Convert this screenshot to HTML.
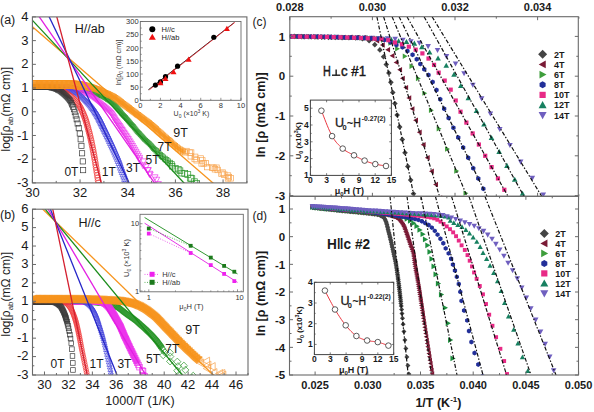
<!DOCTYPE html>
<html><head><meta charset="utf-8"><style>
html,body{margin:0;padding:0;background:#fff;overflow:hidden;}
svg{display:block;font-family:"Liberation Sans", sans-serif;}
</style></head><body>
<svg width="594" height="412" viewBox="0 0 594 412">
<rect width="594" height="412" fill="#fff"/>
<defs>
<clipPath id="clipA"><rect x="32.4" y="16.9" width="214.50" height="166.00"/></clipPath>
<clipPath id="clipB"><rect x="32.5" y="209.2" width="215.50" height="165.80"/></clipPath>
<clipPath id="clipC"><rect x="289.8" y="16.7" width="288.50" height="179.60"/></clipPath>
<clipPath id="clipD"><rect x="289.5" y="196.3" width="289.00" height="178.70"/></clipPath>
</defs>
<g clip-path="url(#clipA)">
<polygon points="33.00,87.75 36.14,87.74 40.63,87.72 45.88,87.70 51.26,87.69 56.16,87.70 59.98,87.75 62.61,87.82 64.54,87.90 65.97,88.00 67.16,88.13 68.36,88.31 69.79,88.53 71.33,88.81 72.78,89.14 74.25,89.52 75.80,89.93 77.50,90.37 79.44,90.82 81.62,91.24 83.97,91.62 86.41,92.01 88.91,92.47 91.41,93.08 93.87,93.88 96.41,94.89 99.08,96.08 101.77,97.40 104.41,98.85 106.93,100.39 109.24,102.00 111.38,103.77 113.43,105.77 115.39,107.88 117.25,110.01 118.98,112.04 120.57,113.83 121.95,115.35 123.11,116.67 124.14,117.87 125.10,119.01 126.05,120.14 127.05,121.31 128.08,122.51 129.09,123.68 130.08,124.84 131.07,126.00 132.06,127.15 133.05,128.31 133.99,129.43 134.89,130.52 135.79,131.61 136.76,132.76 137.84,134.00 139.09,135.36 140.55,136.87 142.18,138.51 143.91,140.23 145.69,141.98 147.44,143.72 149.11,145.38 150.69,146.99 152.23,148.59 153.76,150.18 155.31,151.77 156.90,153.35 158.55,154.92 160.27,156.48 162.05,158.02 163.86,159.55 165.67,161.06 167.46,162.53 169.20,163.96 170.88,165.35 172.48,163.43 170.80,162.04 169.05,160.60 167.26,159.13 165.47,157.64 163.68,156.13 161.93,154.61 160.25,153.08 158.64,151.56 157.09,150.01 155.56,148.44 154.03,146.86 152.48,145.25 150.89,143.62 149.20,141.94 147.44,140.20 145.67,138.45 143.94,136.75 142.34,135.13 140.91,133.64 139.70,132.32 138.65,131.13 137.71,130.01 136.82,128.93 135.91,127.83 134.95,126.69 133.96,125.53 132.97,124.37 131.98,123.22 130.99,122.06 129.98,120.88 128.95,119.69 127.96,118.52 127.01,117.40 126.05,116.25 125.00,115.03 123.81,113.68 122.43,112.17 120.86,110.40 119.14,108.38 117.26,106.22 115.22,104.02 113.05,101.91 110.76,100.00 108.30,98.30 105.66,96.68 102.92,95.18 100.14,93.81 97.39,92.59 94.73,91.52 92.09,90.67 89.43,90.03 86.84,89.54 84.36,89.15 82.05,88.78 79.96,88.38 78.10,87.94 76.43,87.51 74.88,87.10 73.37,86.71 71.83,86.36 70.21,86.07 68.74,85.83 67.48,85.65 66.19,85.51 64.67,85.40 62.70,85.32 60.02,85.25 56.18,85.20 51.26,85.19 45.87,85.20 40.62,85.22 36.13,85.24 33.00,85.25" fill="#1a8c1a" fill-opacity="0.5"/>
<rect x="31.00" y="84.50" width="4.00" height="4.00" fill="none" stroke="#2a962a" stroke-width="0.7"/>
<rect x="32.00" y="84.50" width="4.00" height="4.00" fill="none" stroke="#2a962a" stroke-width="0.7"/>
<rect x="33.01" y="84.50" width="4.00" height="4.00" fill="none" stroke="#2a962a" stroke-width="0.7"/>
<rect x="34.02" y="84.49" width="4.00" height="4.00" fill="none" stroke="#2a962a" stroke-width="0.7"/>
<rect x="35.03" y="84.49" width="4.00" height="4.00" fill="none" stroke="#2a962a" stroke-width="0.7"/>
<rect x="36.05" y="84.48" width="4.00" height="4.00" fill="none" stroke="#2a962a" stroke-width="0.7"/>
<rect x="37.08" y="84.48" width="4.00" height="4.00" fill="none" stroke="#2a962a" stroke-width="0.7"/>
<rect x="38.11" y="84.47" width="4.00" height="4.00" fill="none" stroke="#2a962a" stroke-width="0.7"/>
<rect x="39.15" y="84.47" width="4.00" height="4.00" fill="none" stroke="#2a962a" stroke-width="0.7"/>
<rect x="40.19" y="84.46" width="4.00" height="4.00" fill="none" stroke="#2a962a" stroke-width="0.7"/>
<rect x="41.23" y="84.46" width="4.00" height="4.00" fill="none" stroke="#2a962a" stroke-width="0.7"/>
<rect x="42.29" y="84.46" width="4.00" height="4.00" fill="none" stroke="#2a962a" stroke-width="0.7"/>
<rect x="43.34" y="84.45" width="4.00" height="4.00" fill="none" stroke="#2a962a" stroke-width="0.7"/>
<rect x="44.41" y="84.45" width="4.00" height="4.00" fill="none" stroke="#2a962a" stroke-width="0.7"/>
<rect x="45.48" y="84.45" width="4.00" height="4.00" fill="none" stroke="#2a962a" stroke-width="0.7"/>
<rect x="46.55" y="84.44" width="4.00" height="4.00" fill="none" stroke="#2a962a" stroke-width="0.7"/>
<rect x="47.63" y="84.44" width="4.00" height="4.00" fill="none" stroke="#2a962a" stroke-width="0.7"/>
<rect x="48.72" y="84.44" width="4.00" height="4.00" fill="none" stroke="#2a962a" stroke-width="0.7"/>
<rect x="49.81" y="84.44" width="4.00" height="4.00" fill="none" stroke="#2a962a" stroke-width="0.7"/>
<rect x="50.90" y="84.44" width="4.00" height="4.00" fill="none" stroke="#2a962a" stroke-width="0.7"/>
<rect x="52.00" y="84.44" width="4.00" height="4.00" fill="none" stroke="#2a962a" stroke-width="0.7"/>
<rect x="53.11" y="84.45" width="4.00" height="4.00" fill="none" stroke="#2a962a" stroke-width="0.7"/>
<rect x="54.23" y="84.45" width="4.00" height="4.00" fill="none" stroke="#2a962a" stroke-width="0.7"/>
<rect x="55.35" y="84.46" width="4.00" height="4.00" fill="none" stroke="#2a962a" stroke-width="0.7"/>
<rect x="56.47" y="84.48" width="4.00" height="4.00" fill="none" stroke="#2a962a" stroke-width="0.7"/>
<rect x="57.60" y="84.49" width="4.00" height="4.00" fill="none" stroke="#2a962a" stroke-width="0.7"/>
<rect x="58.74" y="84.52" width="4.00" height="4.00" fill="none" stroke="#2a962a" stroke-width="0.7"/>
<rect x="59.88" y="84.55" width="4.00" height="4.00" fill="none" stroke="#2a962a" stroke-width="0.7"/>
<rect x="61.03" y="84.58" width="4.00" height="4.00" fill="none" stroke="#2a962a" stroke-width="0.7"/>
<rect x="62.18" y="84.63" width="4.00" height="4.00" fill="none" stroke="#2a962a" stroke-width="0.7"/>
<rect x="63.34" y="84.70" width="4.00" height="4.00" fill="none" stroke="#2a962a" stroke-width="0.7"/>
<rect x="64.50" y="84.80" width="4.00" height="4.00" fill="none" stroke="#2a962a" stroke-width="0.7"/>
<rect x="65.66" y="84.94" width="4.00" height="4.00" fill="none" stroke="#2a962a" stroke-width="0.7"/>
<rect x="66.83" y="85.11" width="4.00" height="4.00" fill="none" stroke="#2a962a" stroke-width="0.7"/>
<rect x="68.00" y="85.30" width="4.00" height="4.00" fill="none" stroke="#2a962a" stroke-width="0.7"/>
<rect x="69.17" y="85.51" width="4.00" height="4.00" fill="none" stroke="#2a962a" stroke-width="0.7"/>
<rect x="70.34" y="85.75" width="4.00" height="4.00" fill="none" stroke="#2a962a" stroke-width="0.7"/>
<rect x="71.51" y="86.03" width="4.00" height="4.00" fill="none" stroke="#2a962a" stroke-width="0.7"/>
<rect x="72.67" y="86.34" width="4.00" height="4.00" fill="none" stroke="#2a962a" stroke-width="0.7"/>
<rect x="73.85" y="86.65" width="4.00" height="4.00" fill="none" stroke="#2a962a" stroke-width="0.7"/>
<rect x="75.03" y="86.96" width="4.00" height="4.00" fill="none" stroke="#2a962a" stroke-width="0.7"/>
<rect x="76.22" y="87.25" width="4.00" height="4.00" fill="none" stroke="#2a962a" stroke-width="0.7"/>
<rect x="77.42" y="87.54" width="4.00" height="4.00" fill="none" stroke="#2a962a" stroke-width="0.7"/>
<rect x="78.63" y="87.79" width="4.00" height="4.00" fill="none" stroke="#2a962a" stroke-width="0.7"/>
<rect x="79.85" y="88.01" width="4.00" height="4.00" fill="none" stroke="#2a962a" stroke-width="0.7"/>
<rect x="81.09" y="88.21" width="4.00" height="4.00" fill="none" stroke="#2a962a" stroke-width="0.7"/>
<rect x="82.33" y="88.41" width="4.00" height="4.00" fill="none" stroke="#2a962a" stroke-width="0.7"/>
<rect x="83.58" y="88.60" width="4.00" height="4.00" fill="none" stroke="#2a962a" stroke-width="0.7"/>
<rect x="84.83" y="88.81" width="4.00" height="4.00" fill="none" stroke="#2a962a" stroke-width="0.7"/>
<rect x="86.08" y="89.04" width="4.00" height="4.00" fill="none" stroke="#2a962a" stroke-width="0.7"/>
<rect x="87.34" y="89.29" width="4.00" height="4.00" fill="none" stroke="#2a962a" stroke-width="0.7"/>
<rect x="88.60" y="89.58" width="4.00" height="4.00" fill="none" stroke="#2a962a" stroke-width="0.7"/>
<rect x="89.85" y="89.91" width="4.00" height="4.00" fill="none" stroke="#2a962a" stroke-width="0.7"/>
<rect x="91.10" y="90.28" width="4.00" height="4.00" fill="none" stroke="#2a962a" stroke-width="0.7"/>
<rect x="92.33" y="90.71" width="4.00" height="4.00" fill="none" stroke="#2a962a" stroke-width="0.7"/>
<rect x="93.56" y="91.19" width="4.00" height="4.00" fill="none" stroke="#2a962a" stroke-width="0.7"/>
<rect x="94.78" y="91.69" width="4.00" height="4.00" fill="none" stroke="#2a962a" stroke-width="0.7"/>
<rect x="96.00" y="92.21" width="4.00" height="4.00" fill="none" stroke="#2a962a" stroke-width="0.7"/>
<rect x="97.21" y="92.76" width="4.00" height="4.00" fill="none" stroke="#2a962a" stroke-width="0.7"/>
<rect x="98.42" y="93.33" width="4.00" height="4.00" fill="none" stroke="#2a962a" stroke-width="0.7"/>
<rect x="99.63" y="93.93" width="4.00" height="4.00" fill="none" stroke="#2a962a" stroke-width="0.7"/>
<rect x="100.83" y="94.55" width="4.00" height="4.00" fill="none" stroke="#2a962a" stroke-width="0.7"/>
<rect x="102.03" y="95.20" width="4.00" height="4.00" fill="none" stroke="#2a962a" stroke-width="0.7"/>
<rect x="103.21" y="95.87" width="4.00" height="4.00" fill="none" stroke="#2a962a" stroke-width="0.7"/>
<rect x="104.39" y="96.57" width="4.00" height="4.00" fill="none" stroke="#2a962a" stroke-width="0.7"/>
<rect x="105.55" y="97.31" width="4.00" height="4.00" fill="none" stroke="#2a962a" stroke-width="0.7"/>
<rect x="106.70" y="98.07" width="4.00" height="4.00" fill="none" stroke="#2a962a" stroke-width="0.7"/>
<rect x="107.83" y="98.88" width="4.00" height="4.00" fill="none" stroke="#2a962a" stroke-width="0.7"/>
<rect x="108.94" y="99.73" width="4.00" height="4.00" fill="none" stroke="#2a962a" stroke-width="0.7"/>
<rect x="110.00" y="100.65" width="4.00" height="4.00" fill="none" stroke="#2a962a" stroke-width="0.7"/>
<rect x="111.03" y="101.60" width="4.00" height="4.00" fill="none" stroke="#2a962a" stroke-width="0.7"/>
<rect x="112.03" y="102.59" width="4.00" height="4.00" fill="none" stroke="#2a962a" stroke-width="0.7"/>
<rect x="113.01" y="103.61" width="4.00" height="4.00" fill="none" stroke="#2a962a" stroke-width="0.7"/>
<rect x="113.97" y="104.66" width="4.00" height="4.00" fill="none" stroke="#2a962a" stroke-width="0.7"/>
<rect x="114.92" y="105.72" width="4.00" height="4.00" fill="none" stroke="#2a962a" stroke-width="0.7"/>
<rect x="115.86" y="106.80" width="4.00" height="4.00" fill="none" stroke="#2a962a" stroke-width="0.7"/>
<rect x="116.79" y="107.90" width="4.00" height="4.00" fill="none" stroke="#2a962a" stroke-width="0.7"/>
<rect x="117.73" y="108.99" width="4.00" height="4.00" fill="none" stroke="#2a962a" stroke-width="0.7"/>
<rect x="118.67" y="110.08" width="4.00" height="4.00" fill="none" stroke="#2a962a" stroke-width="0.7"/>
<rect x="119.64" y="111.16" width="4.00" height="4.00" fill="none" stroke="#2a962a" stroke-width="0.7"/>
<rect x="120.62" y="112.23" width="4.00" height="4.00" fill="none" stroke="#2a962a" stroke-width="0.7"/>
<rect x="121.59" y="113.32" width="4.00" height="4.00" fill="none" stroke="#2a962a" stroke-width="0.7"/>
<rect x="122.55" y="114.43" width="4.00" height="4.00" fill="none" stroke="#2a962a" stroke-width="0.7"/>
<rect x="123.50" y="115.55" width="4.00" height="4.00" fill="none" stroke="#2a962a" stroke-width="0.7"/>
<rect x="124.45" y="116.68" width="4.00" height="4.00" fill="none" stroke="#2a962a" stroke-width="0.7"/>
<rect x="125.41" y="117.81" width="4.00" height="4.00" fill="none" stroke="#2a962a" stroke-width="0.7"/>
<rect x="126.37" y="118.93" width="4.00" height="4.00" fill="none" stroke="#2a962a" stroke-width="0.7"/>
<rect x="127.34" y="120.06" width="4.00" height="4.00" fill="none" stroke="#2a962a" stroke-width="0.7"/>
<rect x="128.32" y="121.20" width="4.00" height="4.00" fill="none" stroke="#2a962a" stroke-width="0.7"/>
<rect x="129.29" y="122.34" width="4.00" height="4.00" fill="none" stroke="#2a962a" stroke-width="0.7"/>
<rect x="130.27" y="123.48" width="4.00" height="4.00" fill="none" stroke="#2a962a" stroke-width="0.7"/>
<rect x="131.25" y="124.63" width="4.00" height="4.00" fill="none" stroke="#2a962a" stroke-width="0.7"/>
<rect x="132.24" y="125.78" width="4.00" height="4.00" fill="none" stroke="#2a962a" stroke-width="0.7"/>
<rect x="133.21" y="126.94" width="4.00" height="4.00" fill="none" stroke="#2a962a" stroke-width="0.7"/>
<rect x="134.18" y="128.12" width="4.00" height="4.00" fill="none" stroke="#2a962a" stroke-width="0.7"/>
<rect x="135.15" y="129.30" width="4.00" height="4.00" fill="none" stroke="#2a962a" stroke-width="0.7"/>
<rect x="136.15" y="130.46" width="4.00" height="4.00" fill="none" stroke="#2a962a" stroke-width="0.7"/>
<rect x="137.18" y="131.61" width="4.00" height="4.00" fill="none" stroke="#2a962a" stroke-width="0.7"/>
<rect x="138.23" y="132.74" width="4.00" height="4.00" fill="none" stroke="#2a962a" stroke-width="0.7"/>
<rect x="139.30" y="133.86" width="4.00" height="4.00" fill="none" stroke="#2a962a" stroke-width="0.7"/>
<rect x="140.40" y="134.96" width="4.00" height="4.00" fill="none" stroke="#2a962a" stroke-width="0.7"/>
<rect x="141.50" y="136.07" width="4.00" height="4.00" fill="none" stroke="#2a962a" stroke-width="0.7"/>
<rect x="142.61" y="137.17" width="4.00" height="4.00" fill="none" stroke="#2a962a" stroke-width="0.7"/>
<rect x="143.73" y="138.27" width="4.00" height="4.00" fill="none" stroke="#2a962a" stroke-width="0.7"/>
<rect x="144.86" y="139.38" width="4.00" height="4.00" fill="none" stroke="#2a962a" stroke-width="0.7"/>
<rect x="145.98" y="140.49" width="4.00" height="4.00" fill="none" stroke="#2a962a" stroke-width="0.7"/>
<rect x="147.11" y="141.61" width="4.00" height="4.00" fill="none" stroke="#2a962a" stroke-width="0.7"/>
<rect x="148.23" y="142.74" width="4.01" height="4.01" fill="none" stroke="#2a962a" stroke-width="0.7"/>
<rect x="149.33" y="143.85" width="4.08" height="4.08" fill="none" stroke="#2a962a" stroke-width="0.7"/>
<rect x="150.44" y="145.00" width="4.15" height="4.15" fill="none" stroke="#2a962a" stroke-width="0.7"/>
<rect x="151.57" y="146.19" width="4.22" height="4.22" fill="none" stroke="#2a962a" stroke-width="0.7"/>
<rect x="152.74" y="147.40" width="4.29" height="4.29" fill="none" stroke="#2a962a" stroke-width="0.7"/>
<rect x="153.94" y="148.63" width="4.37" height="4.37" fill="none" stroke="#2a962a" stroke-width="0.7"/>
<rect x="155.19" y="149.88" width="4.44" height="4.44" fill="none" stroke="#2a962a" stroke-width="0.7"/>
<rect x="156.49" y="151.14" width="4.53" height="4.53" fill="none" stroke="#2a962a" stroke-width="0.7"/>
<rect x="157.86" y="152.39" width="4.61" height="4.61" fill="none" stroke="#2a962a" stroke-width="0.7"/>
<rect x="159.28" y="153.66" width="4.70" height="4.70" fill="none" stroke="#2a962a" stroke-width="0.7"/>
<rect x="160.77" y="154.93" width="4.79" height="4.79" fill="none" stroke="#2a962a" stroke-width="0.7"/>
<rect x="162.30" y="156.22" width="4.88" height="4.88" fill="none" stroke="#2a962a" stroke-width="0.7"/>
<rect x="163.89" y="157.53" width="4.98" height="4.98" fill="none" stroke="#2a962a" stroke-width="0.7"/>
<rect x="165.53" y="158.87" width="5.08" height="5.08" fill="none" stroke="#2a962a" stroke-width="0.7"/>
<rect x="167.22" y="160.25" width="5.19" height="5.19" fill="none" stroke="#2a962a" stroke-width="0.7"/>
<rect x="168.95" y="161.67" width="5.30" height="5.30" fill="none" stroke="#2a962a" stroke-width="0.7"/>
<rect x="169.53" y="163.60" width="5.41" height="5.41" fill="none" stroke="#2a962a" stroke-width="0.7"/>
<rect x="172.65" y="165.57" width="5.51" height="5.51" fill="none" stroke="#2a962a" stroke-width="0.7"/>
<rect x="175.56" y="166.54" width="5.58" height="5.58" fill="none" stroke="#2a962a" stroke-width="0.7"/>
<rect x="177.17" y="167.85" width="5.65" height="5.65" fill="none" stroke="#2a962a" stroke-width="0.7"/>
<rect x="178.88" y="170.24" width="5.72" height="5.72" fill="none" stroke="#2a962a" stroke-width="0.7"/>
<rect x="181.87" y="170.51" width="5.81" height="5.81" fill="none" stroke="#2a962a" stroke-width="0.7"/>
<rect x="184.84" y="171.65" width="5.89" height="5.89" fill="none" stroke="#2a962a" stroke-width="0.7"/>
<rect x="187.32" y="175.09" width="5.98" height="5.98" fill="none" stroke="#2a962a" stroke-width="0.7"/>
<rect x="188.74" y="175.68" width="6.00" height="6.00" fill="none" stroke="#2a962a" stroke-width="0.7"/>
<rect x="191.25" y="178.81" width="6.00" height="6.00" fill="none" stroke="#2a962a" stroke-width="0.7"/>
<rect x="193.46" y="180.41" width="6.00" height="6.00" fill="none" stroke="#2a962a" stroke-width="0.7"/>
<polygon points="33.00,87.50 36.17,87.49 40.75,87.46 46.07,87.44 51.48,87.43 56.34,87.44 59.98,87.50 62.21,87.58 63.52,87.65 64.20,87.74 64.70,87.88 65.46,88.12 66.75,88.47 68.56,88.94 70.65,89.52 72.89,90.18 75.18,90.88 77.38,91.58 79.38,92.25 81.17,92.85 82.83,93.41 84.38,93.97 85.88,94.56 87.37,95.25 88.90,96.07 90.45,97.03 92.00,98.11 93.56,99.29 95.15,100.56 96.78,101.89 98.47,103.27 100.28,104.75 102.23,106.35 104.20,108.00 106.10,109.65 107.82,111.23 109.27,112.68 110.36,113.96 111.18,115.11 111.85,116.22 112.49,117.37 113.19,118.64 114.06,120.04 115.06,121.57 116.13,123.20 117.25,124.90 118.40,126.63 119.54,128.36 120.67,130.06 121.79,131.72 122.94,133.38 124.08,135.04 125.20,136.69 126.30,138.32 127.36,139.94 128.37,141.54 129.34,143.13 130.29,144.72 131.23,146.31 132.18,147.90 133.14,149.51 134.11,151.12 135.06,152.71 136.01,154.31 136.98,155.94 137.99,157.60 139.05,159.32 140.75,158.28 139.70,156.56 138.70,154.91 137.73,153.29 136.77,151.69 135.82,150.09 134.86,148.49 133.90,146.88 132.95,145.29 132.01,143.69 131.05,142.10 130.07,140.49 129.04,138.86 127.97,137.22 126.86,135.56 125.72,133.91 124.58,132.25 123.45,130.60 122.33,128.94 121.21,127.26 120.06,125.53 118.92,123.80 117.81,122.10 116.74,120.47 115.74,118.96 114.92,117.62 114.24,116.40 113.58,115.22 112.85,114.00 111.93,112.72 110.73,111.32 109.21,109.79 107.43,108.15 105.50,106.48 103.50,104.81 101.55,103.20 99.73,101.73 98.05,100.34 96.41,99.00 94.79,97.71 93.18,96.49 91.55,95.36 89.90,94.33 88.26,93.46 86.67,92.73 85.09,92.10 83.48,91.52 81.81,90.96 80.02,90.35 78.00,89.68 75.78,88.97 73.47,88.26 71.20,87.59 69.08,87.00 67.25,86.53 66.01,86.20 65.27,85.96 64.58,85.78 63.69,85.66 62.30,85.58 60.02,85.50 56.35,85.44 51.48,85.43 46.06,85.44 40.74,85.46 36.16,85.49 33.00,85.50" fill="#e21ee2" fill-opacity="0.35"/>
<polygon points="33.00,88.80 35.30,84.66 30.70,84.66" fill="none" stroke="#ec34ec" stroke-width="0.7"/>
<polygon points="34.00,88.80 36.31,84.65 31.69,84.65" fill="none" stroke="#ec34ec" stroke-width="0.7"/>
<polygon points="35.01,88.81 37.32,84.64 32.69,84.64" fill="none" stroke="#ec34ec" stroke-width="0.7"/>
<polygon points="36.02,88.81 38.34,84.63 33.70,84.63" fill="none" stroke="#ec34ec" stroke-width="0.7"/>
<polygon points="37.04,88.81 39.37,84.62 34.71,84.62" fill="none" stroke="#ec34ec" stroke-width="0.7"/>
<polygon points="38.07,88.81 40.40,84.61 35.74,84.61" fill="none" stroke="#ec34ec" stroke-width="0.7"/>
<polygon points="39.10,88.81 41.45,84.60 36.76,84.60" fill="none" stroke="#ec34ec" stroke-width="0.7"/>
<polygon points="40.15,88.81 42.49,84.59 37.80,84.59" fill="none" stroke="#ec34ec" stroke-width="0.7"/>
<polygon points="41.20,88.82 43.55,84.58 38.84,84.58" fill="none" stroke="#ec34ec" stroke-width="0.7"/>
<polygon points="42.25,88.82 44.61,84.57 39.89,84.57" fill="none" stroke="#ec34ec" stroke-width="0.7"/>
<polygon points="43.32,88.82 45.69,84.55 40.95,84.55" fill="none" stroke="#ec34ec" stroke-width="0.7"/>
<polygon points="44.39,88.82 46.76,84.54 42.01,84.54" fill="none" stroke="#ec34ec" stroke-width="0.7"/>
<polygon points="45.47,88.82 47.85,84.53 43.08,84.53" fill="none" stroke="#ec34ec" stroke-width="0.7"/>
<polygon points="46.55,88.83 48.94,84.52 44.16,84.52" fill="none" stroke="#ec34ec" stroke-width="0.7"/>
<polygon points="47.65,88.83 50.04,84.51 45.25,84.51" fill="none" stroke="#ec34ec" stroke-width="0.7"/>
<polygon points="48.75,88.84 51.15,84.50 46.34,84.50" fill="none" stroke="#ec34ec" stroke-width="0.7"/>
<polygon points="49.85,88.84 52.27,84.50 47.44,84.50" fill="none" stroke="#ec34ec" stroke-width="0.7"/>
<polygon points="50.97,88.85 53.39,84.49 48.55,84.49" fill="none" stroke="#ec34ec" stroke-width="0.7"/>
<polygon points="52.09,88.85 54.52,84.48 49.67,84.48" fill="none" stroke="#ec34ec" stroke-width="0.7"/>
<polygon points="53.23,88.86 55.66,84.48 50.79,84.48" fill="none" stroke="#ec34ec" stroke-width="0.7"/>
<polygon points="54.37,88.87 56.81,84.48 51.92,84.48" fill="none" stroke="#ec34ec" stroke-width="0.7"/>
<polygon points="55.51,88.89 57.96,84.48 53.06,84.48" fill="none" stroke="#ec34ec" stroke-width="0.7"/>
<polygon points="56.67,88.90 59.13,84.48 54.21,84.48" fill="none" stroke="#ec34ec" stroke-width="0.7"/>
<polygon points="57.83,88.93 60.30,84.48 55.36,84.48" fill="none" stroke="#ec34ec" stroke-width="0.7"/>
<polygon points="59.00,88.95 61.48,84.50 56.53,84.50" fill="none" stroke="#ec34ec" stroke-width="0.7"/>
<polygon points="60.18,88.99 62.66,84.52 57.70,84.52" fill="none" stroke="#ec34ec" stroke-width="0.7"/>
<polygon points="61.37,89.03 63.86,84.55 58.88,84.55" fill="none" stroke="#ec34ec" stroke-width="0.7"/>
<polygon points="62.56,89.09 65.06,84.59 60.06,84.59" fill="none" stroke="#ec34ec" stroke-width="0.7"/>
<polygon points="63.76,89.18 66.27,84.67 61.26,84.67" fill="none" stroke="#ec34ec" stroke-width="0.7"/>
<polygon points="64.95,89.43 67.46,84.90 62.44,84.90" fill="none" stroke="#ec34ec" stroke-width="0.7"/>
<polygon points="66.12,89.79 68.64,85.25 63.59,85.25" fill="none" stroke="#ec34ec" stroke-width="0.7"/>
<polygon points="67.31,90.11 69.84,85.55 64.78,85.55" fill="none" stroke="#ec34ec" stroke-width="0.7"/>
<polygon points="68.50,90.42 71.04,85.85 65.96,85.85" fill="none" stroke="#ec34ec" stroke-width="0.7"/>
<polygon points="69.70,90.76 72.25,86.17 67.16,86.17" fill="none" stroke="#ec34ec" stroke-width="0.7"/>
<polygon points="70.91,91.11 73.46,86.51 68.36,86.51" fill="none" stroke="#ec34ec" stroke-width="0.7"/>
<polygon points="72.12,91.47 74.68,86.85 69.56,86.85" fill="none" stroke="#ec34ec" stroke-width="0.7"/>
<polygon points="73.34,91.84 75.91,87.21 70.77,87.21" fill="none" stroke="#ec34ec" stroke-width="0.7"/>
<polygon points="74.56,92.22 77.14,87.58 71.98,87.58" fill="none" stroke="#ec34ec" stroke-width="0.7"/>
<polygon points="75.79,92.61 78.38,87.95 73.20,87.95" fill="none" stroke="#ec34ec" stroke-width="0.7"/>
<polygon points="77.02,93.01 79.62,88.34 74.43,88.34" fill="none" stroke="#ec34ec" stroke-width="0.7"/>
<polygon points="78.26,93.42 80.87,88.73 75.66,88.73" fill="none" stroke="#ec34ec" stroke-width="0.7"/>
<polygon points="79.51,93.85 82.12,89.14 76.90,89.14" fill="none" stroke="#ec34ec" stroke-width="0.7"/>
<polygon points="80.76,94.28 83.38,89.56 78.14,89.56" fill="none" stroke="#ec34ec" stroke-width="0.7"/>
<polygon points="82.02,94.71 84.65,89.98 79.39,89.98" fill="none" stroke="#ec34ec" stroke-width="0.7"/>
<polygon points="83.29,95.15 85.92,90.40 80.65,90.40" fill="none" stroke="#ec34ec" stroke-width="0.7"/>
<polygon points="84.55,95.61 87.20,90.85 81.91,90.85" fill="none" stroke="#ec34ec" stroke-width="0.7"/>
<polygon points="85.82,96.11 88.47,91.33 83.16,91.33" fill="none" stroke="#ec34ec" stroke-width="0.7"/>
<polygon points="87.07,96.66 89.73,91.86 84.41,91.86" fill="none" stroke="#ec34ec" stroke-width="0.7"/>
<polygon points="88.30,97.27 90.97,92.46 85.63,92.46" fill="none" stroke="#ec34ec" stroke-width="0.7"/>
<polygon points="89.51,97.95 92.19,93.12 86.83,93.12" fill="none" stroke="#ec34ec" stroke-width="0.7"/>
<polygon points="90.70,98.68 93.38,93.84 88.01,93.84" fill="none" stroke="#ec34ec" stroke-width="0.7"/>
<polygon points="91.86,99.47 94.55,94.62 89.16,94.62" fill="none" stroke="#ec34ec" stroke-width="0.7"/>
<polygon points="92.99,100.30 95.70,95.44 90.29,95.44" fill="none" stroke="#ec34ec" stroke-width="0.7"/>
<polygon points="94.12,101.17 96.83,96.29 91.41,96.29" fill="none" stroke="#ec34ec" stroke-width="0.7"/>
<polygon points="95.23,102.06 97.95,97.16 92.52,97.16" fill="none" stroke="#ec34ec" stroke-width="0.7"/>
<polygon points="96.34,102.96 99.07,98.06 93.62,98.06" fill="none" stroke="#ec34ec" stroke-width="0.7"/>
<polygon points="97.45,103.88 100.19,98.96 94.72,98.96" fill="none" stroke="#ec34ec" stroke-width="0.7"/>
<polygon points="98.57,104.81 101.31,99.87 95.83,99.87" fill="none" stroke="#ec34ec" stroke-width="0.7"/>
<polygon points="99.70,105.73 102.44,100.79 96.95,100.79" fill="none" stroke="#ec34ec" stroke-width="0.7"/>
<polygon points="100.83,106.68 103.60,101.69 98.06,101.69" fill="none" stroke="#ec34ec" stroke-width="0.7"/>
<polygon points="101.96,107.63 104.76,102.60 99.17,102.60" fill="none" stroke="#ec34ec" stroke-width="0.7"/>
<polygon points="103.10,108.60 105.93,103.51 100.28,103.51" fill="none" stroke="#ec34ec" stroke-width="0.7"/>
<polygon points="104.24,109.58 107.10,104.44 101.39,104.44" fill="none" stroke="#ec34ec" stroke-width="0.7"/>
<polygon points="105.38,110.57 108.26,105.38 102.49,105.38" fill="none" stroke="#ec34ec" stroke-width="0.7"/>
<polygon points="106.51,111.59 109.42,106.34 103.60,106.34" fill="none" stroke="#ec34ec" stroke-width="0.7"/>
<polygon points="107.63,112.62 110.57,107.33 104.69,107.33" fill="none" stroke="#ec34ec" stroke-width="0.7"/>
<polygon points="108.73,113.69 111.70,108.34 105.77,108.34" fill="none" stroke="#ec34ec" stroke-width="0.7"/>
<polygon points="109.81,114.79 112.80,109.40 106.81,109.40" fill="none" stroke="#ec34ec" stroke-width="0.7"/>
<polygon points="110.82,115.96 113.84,110.52 107.80,110.52" fill="none" stroke="#ec34ec" stroke-width="0.7"/>
<polygon points="111.75,117.21 114.79,111.73 108.71,111.73" fill="none" stroke="#ec34ec" stroke-width="0.7"/>
<polygon points="112.57,118.53 115.64,113.02 109.51,113.02" fill="none" stroke="#ec34ec" stroke-width="0.7"/>
<polygon points="113.33,119.91 116.41,114.36 110.24,114.36" fill="none" stroke="#ec34ec" stroke-width="0.7"/>
<polygon points="114.09,121.28 117.19,115.70 110.98,115.70" fill="none" stroke="#ec34ec" stroke-width="0.7"/>
<polygon points="114.90,122.63 118.03,117.01 111.78,117.01" fill="none" stroke="#ec34ec" stroke-width="0.7"/>
<polygon points="115.76,123.96 118.91,118.30 112.62,118.30" fill="none" stroke="#ec34ec" stroke-width="0.7"/>
<polygon points="116.63,125.29 119.79,119.60 113.46,119.60" fill="none" stroke="#ec34ec" stroke-width="0.7"/>
<polygon points="117.49,126.63 120.68,120.90 114.30,120.90" fill="none" stroke="#ec34ec" stroke-width="0.7"/>
<polygon points="118.36,127.98 121.57,122.20 115.15,122.20" fill="none" stroke="#ec34ec" stroke-width="0.7"/>
<polygon points="119.24,129.32 122.47,123.51 116.01,123.51" fill="none" stroke="#ec34ec" stroke-width="0.7"/>
<polygon points="120.12,130.67 123.37,124.82 116.87,124.82" fill="none" stroke="#ec34ec" stroke-width="0.7"/>
<polygon points="121.01,132.01 124.26,126.16 117.76,126.16" fill="none" stroke="#ec34ec" stroke-width="0.7"/>
<polygon points="121.92,133.38 125.17,127.53 118.67,127.53" fill="none" stroke="#ec34ec" stroke-width="0.7"/>
<polygon points="122.87,134.78 126.12,128.93 119.62,128.93" fill="none" stroke="#ec34ec" stroke-width="0.7"/>
<polygon points="123.85,136.21 127.10,130.36 120.60,130.36" fill="none" stroke="#ec34ec" stroke-width="0.7"/>
<polygon points="124.86,137.67 128.11,131.82 121.61,131.82" fill="none" stroke="#ec34ec" stroke-width="0.7"/>
<polygon points="125.90,139.18 129.15,133.33 122.65,133.33" fill="none" stroke="#ec34ec" stroke-width="0.7"/>
<polygon points="126.94,140.73 130.19,134.88 123.69,134.88" fill="none" stroke="#ec34ec" stroke-width="0.7"/>
<polygon points="128.00,142.34 131.25,136.49 124.75,136.49" fill="none" stroke="#ec34ec" stroke-width="0.7"/>
<polygon points="129.06,144.01 132.31,138.16 125.81,138.16" fill="none" stroke="#ec34ec" stroke-width="0.7"/>
<polygon points="130.12,145.73 133.37,139.88 126.87,139.88" fill="none" stroke="#ec34ec" stroke-width="0.7"/>
<polygon points="131.18,147.51 134.43,141.66 127.93,141.66" fill="none" stroke="#ec34ec" stroke-width="0.7"/>
<polygon points="132.26,149.33 135.51,143.48 129.01,143.48" fill="none" stroke="#ec34ec" stroke-width="0.7"/>
<polygon points="133.37,151.20 136.62,145.35 130.12,145.35" fill="none" stroke="#ec34ec" stroke-width="0.7"/>
<polygon points="134.52,153.11 137.77,147.26 131.27,147.26" fill="none" stroke="#ec34ec" stroke-width="0.7"/>
<polygon points="135.68,155.06 138.93,149.21 132.43,149.21" fill="none" stroke="#ec34ec" stroke-width="0.7"/>
<polygon points="136.88,157.07 140.13,151.22 133.63,151.22" fill="none" stroke="#ec34ec" stroke-width="0.7"/>
<polygon points="138.11,159.11 141.36,153.26 134.86,153.26" fill="none" stroke="#ec34ec" stroke-width="0.7"/>
<polygon points="139.38,161.20 142.63,155.35 136.13,155.35" fill="none" stroke="#ec34ec" stroke-width="0.7"/>
<polygon points="139.41,163.06 142.66,157.21 136.16,157.21" fill="none" stroke="#ec34ec" stroke-width="0.7"/>
<polygon points="143.51,164.71 146.76,158.86 140.26,158.86" fill="none" stroke="#ec34ec" stroke-width="0.7"/>
<polygon points="142.98,168.71 146.23,162.86 139.73,162.86" fill="none" stroke="#ec34ec" stroke-width="0.7"/>
<polygon points="146.07,170.07 149.32,164.22 142.82,164.22" fill="none" stroke="#ec34ec" stroke-width="0.7"/>
<polygon points="147.77,173.35 151.02,167.50 144.52,167.50" fill="none" stroke="#ec34ec" stroke-width="0.7"/>
<polygon points="148.06,173.58 151.31,167.73 144.81,167.73" fill="none" stroke="#ec34ec" stroke-width="0.7"/>
<polygon points="149.49,177.07 152.74,171.22 146.24,171.22" fill="none" stroke="#ec34ec" stroke-width="0.7"/>
<polygon points="150.03,177.95 153.28,172.10 146.78,172.10" fill="none" stroke="#ec34ec" stroke-width="0.7"/>
<polygon points="154.81,180.66 158.06,174.81 151.56,174.81" fill="none" stroke="#ec34ec" stroke-width="0.7"/>
<polygon points="156.47,183.08 159.72,177.23 153.22,177.23" fill="none" stroke="#ec34ec" stroke-width="0.7"/>
<polygon points="158.11,187.42 161.36,181.57 154.86,181.57" fill="none" stroke="#ec34ec" stroke-width="0.7"/>
<polygon points="33.00,87.50 35.57,87.49 39.27,87.46 43.57,87.43 47.96,87.42 51.94,87.44 54.97,87.50 56.95,87.60 58.28,87.74 59.17,87.89 59.89,88.08 60.69,88.31 61.78,88.57 63.04,88.85 64.31,89.13 65.58,89.43 66.89,89.79 68.23,90.21 69.64,90.73 71.14,91.34 72.71,91.99 74.31,92.71 75.93,93.52 77.53,94.45 79.11,95.51 80.72,96.79 82.42,98.31 84.13,99.96 85.79,101.64 87.32,103.25 88.67,104.68 89.77,105.89 90.69,106.97 91.47,107.97 92.20,108.95 92.91,109.96 93.68,111.07 94.46,112.22 95.22,113.37 95.96,114.56 96.70,115.79 97.45,117.09 98.22,118.47 99.00,119.96 99.79,121.54 100.59,123.18 101.41,124.89 102.24,126.65 103.10,128.43 103.99,130.27 104.91,132.17 105.84,134.12 106.78,136.08 107.70,138.02 108.59,139.92 109.47,141.80 110.33,143.68 111.18,145.54 112.01,147.37 112.82,149.17 113.58,150.90 114.31,152.57 115.01,154.16 115.67,155.70 116.32,157.23 116.95,158.78 117.57,160.36 118.18,162.00 118.78,163.70 120.67,163.04 120.06,161.32 119.43,159.64 118.80,158.03 118.16,156.47 117.51,154.92 116.84,153.36 116.15,151.76 115.42,150.10 114.64,148.35 113.84,146.55 113.00,144.71 112.15,142.84 111.28,140.96 110.41,139.08 109.51,137.17 108.58,135.22 107.65,133.26 106.71,131.31 105.79,129.40 104.90,127.57 104.05,125.79 103.21,124.03 102.39,122.32 101.59,120.65 100.78,119.05 99.98,117.53 99.19,116.10 98.42,114.77 97.66,113.51 96.90,112.29 96.12,111.11 95.32,109.93 94.55,108.82 93.82,107.78 93.06,106.76 92.23,105.70 91.27,104.57 90.13,103.32 88.78,101.87 87.23,100.25 85.54,98.54 83.78,96.85 82.02,95.26 80.29,93.89 78.59,92.75 76.88,91.76 75.17,90.90 73.50,90.15 71.90,89.48 70.36,88.87 68.88,88.32 67.45,87.87 66.08,87.49 64.75,87.18 63.47,86.89 62.22,86.63 61.20,86.37 60.41,86.15 59.58,85.93 58.54,85.75 57.09,85.61 55.03,85.50 51.96,85.44 47.96,85.42 43.56,85.43 39.25,85.46 35.56,85.49 33.00,85.50" fill="#2626c8" fill-opacity="0.2"/>
<polygon points="33.00,84.20 35.30,88.34 30.70,88.34" fill="none" stroke="#4646dc" stroke-width="0.7"/>
<polygon points="34.00,84.19 36.31,88.35 31.69,88.35" fill="none" stroke="#4646dc" stroke-width="0.7"/>
<polygon points="35.01,84.17 37.33,88.35 32.69,88.35" fill="none" stroke="#4646dc" stroke-width="0.7"/>
<polygon points="36.03,84.15 38.36,88.35 33.69,88.35" fill="none" stroke="#4646dc" stroke-width="0.7"/>
<polygon points="37.05,84.13 39.40,88.35 34.71,88.35" fill="none" stroke="#4646dc" stroke-width="0.7"/>
<polygon points="38.09,84.11 40.45,88.36 35.73,88.36" fill="none" stroke="#4646dc" stroke-width="0.7"/>
<polygon points="39.14,84.09 41.51,88.36 36.77,88.36" fill="none" stroke="#4646dc" stroke-width="0.7"/>
<polygon points="40.19,84.07 42.57,88.36 37.81,88.36" fill="none" stroke="#4646dc" stroke-width="0.7"/>
<polygon points="41.26,84.05 43.65,88.36 38.86,88.36" fill="none" stroke="#4646dc" stroke-width="0.7"/>
<polygon points="42.33,84.03 44.74,88.36 39.92,88.36" fill="none" stroke="#4646dc" stroke-width="0.7"/>
<polygon points="43.41,84.01 45.83,88.37 40.99,88.37" fill="none" stroke="#4646dc" stroke-width="0.7"/>
<polygon points="44.51,83.99 46.94,88.37 42.07,88.37" fill="none" stroke="#4646dc" stroke-width="0.7"/>
<polygon points="45.61,83.98 48.05,88.38 43.16,88.38" fill="none" stroke="#4646dc" stroke-width="0.7"/>
<polygon points="46.72,83.96 49.18,88.39 44.26,88.39" fill="none" stroke="#4646dc" stroke-width="0.7"/>
<polygon points="47.84,83.95 50.32,88.40 45.37,88.40" fill="none" stroke="#4646dc" stroke-width="0.7"/>
<polygon points="48.98,83.94 51.46,88.41 46.49,88.41" fill="none" stroke="#4646dc" stroke-width="0.7"/>
<polygon points="50.12,83.93 52.62,88.42 47.62,88.42" fill="none" stroke="#4646dc" stroke-width="0.7"/>
<polygon points="51.27,83.92 53.78,88.44 48.76,88.44" fill="none" stroke="#4646dc" stroke-width="0.7"/>
<polygon points="52.44,83.92 54.96,88.46 49.91,88.46" fill="none" stroke="#4646dc" stroke-width="0.7"/>
<polygon points="53.61,83.92 56.15,88.49 51.07,88.49" fill="none" stroke="#4646dc" stroke-width="0.7"/>
<polygon points="54.80,83.94 57.35,88.54 52.24,88.54" fill="none" stroke="#4646dc" stroke-width="0.7"/>
<polygon points="55.99,83.98 58.55,88.60 53.42,88.60" fill="none" stroke="#4646dc" stroke-width="0.7"/>
<polygon points="57.19,84.04 59.77,88.68 54.61,88.68" fill="none" stroke="#4646dc" stroke-width="0.7"/>
<polygon points="58.40,84.15 61.00,88.82 55.81,88.82" fill="none" stroke="#4646dc" stroke-width="0.7"/>
<polygon points="59.61,84.36 62.22,89.05 57.00,89.05" fill="none" stroke="#4646dc" stroke-width="0.7"/>
<polygon points="60.80,84.68 63.42,89.40 58.18,89.40" fill="none" stroke="#4646dc" stroke-width="0.7"/>
<polygon points="62.01,84.97 64.65,89.71 59.38,89.71" fill="none" stroke="#4646dc" stroke-width="0.7"/>
<polygon points="63.25,85.22 65.89,89.99 60.60,89.99" fill="none" stroke="#4646dc" stroke-width="0.7"/>
<polygon points="64.49,85.48 67.15,90.27 61.82,90.27" fill="none" stroke="#4646dc" stroke-width="0.7"/>
<polygon points="65.73,85.76 68.41,90.58 63.06,90.58" fill="none" stroke="#4646dc" stroke-width="0.7"/>
<polygon points="66.98,86.08 69.67,90.93 64.29,90.93" fill="none" stroke="#4646dc" stroke-width="0.7"/>
<polygon points="68.23,86.45 70.94,91.32 65.52,91.32" fill="none" stroke="#4646dc" stroke-width="0.7"/>
<polygon points="69.47,86.87 72.19,91.77 66.75,91.77" fill="none" stroke="#4646dc" stroke-width="0.7"/>
<polygon points="70.70,87.35 73.44,92.27 67.97,92.27" fill="none" stroke="#4646dc" stroke-width="0.7"/>
<polygon points="71.94,87.83 74.69,92.78 69.19,92.78" fill="none" stroke="#4646dc" stroke-width="0.7"/>
<polygon points="73.19,88.34 75.95,93.32 70.42,93.32" fill="none" stroke="#4646dc" stroke-width="0.7"/>
<polygon points="74.43,88.88 77.21,93.88 71.65,93.88" fill="none" stroke="#4646dc" stroke-width="0.7"/>
<polygon points="75.66,89.46 78.45,94.49 72.87,94.49" fill="none" stroke="#4646dc" stroke-width="0.7"/>
<polygon points="76.88,90.10 79.69,95.15 74.08,95.15" fill="none" stroke="#4646dc" stroke-width="0.7"/>
<polygon points="78.08,90.79 80.90,95.87 75.26,95.87" fill="none" stroke="#4646dc" stroke-width="0.7"/>
<polygon points="79.25,91.55 82.09,96.65 76.42,96.65" fill="none" stroke="#4646dc" stroke-width="0.7"/>
<polygon points="80.39,92.38 83.24,97.50 77.54,97.50" fill="none" stroke="#4646dc" stroke-width="0.7"/>
<polygon points="81.49,93.27 84.35,98.42 78.63,98.42" fill="none" stroke="#4646dc" stroke-width="0.7"/>
<polygon points="82.56,94.21 85.44,99.38 79.69,99.38" fill="none" stroke="#4646dc" stroke-width="0.7"/>
<polygon points="83.62,95.18 86.50,100.37 80.74,100.37" fill="none" stroke="#4646dc" stroke-width="0.7"/>
<polygon points="84.66,96.18 87.56,101.40 81.77,101.40" fill="none" stroke="#4646dc" stroke-width="0.7"/>
<polygon points="85.70,97.19 88.62,102.46 82.77,102.46" fill="none" stroke="#4646dc" stroke-width="0.7"/>
<polygon points="86.72,98.20 89.69,103.54 83.75,103.54" fill="none" stroke="#4646dc" stroke-width="0.7"/>
<polygon points="87.75,99.23 90.76,104.65 84.74,104.65" fill="none" stroke="#4646dc" stroke-width="0.7"/>
<polygon points="88.77,100.27 91.82,105.77 85.72,105.77" fill="none" stroke="#4646dc" stroke-width="0.7"/>
<polygon points="89.79,101.33 92.88,106.89 86.70,106.89" fill="none" stroke="#4646dc" stroke-width="0.7"/>
<polygon points="90.79,102.42 93.93,108.05 87.66,108.05" fill="none" stroke="#4646dc" stroke-width="0.7"/>
<polygon points="91.76,103.54 94.93,109.25 88.59,109.25" fill="none" stroke="#4646dc" stroke-width="0.7"/>
<polygon points="92.69,104.72 95.90,110.49 89.48,110.49" fill="none" stroke="#4646dc" stroke-width="0.7"/>
<polygon points="93.58,105.93 96.83,111.77 90.34,111.77" fill="none" stroke="#4646dc" stroke-width="0.7"/>
<polygon points="94.46,107.17 97.74,113.07 91.18,113.07" fill="none" stroke="#4646dc" stroke-width="0.7"/>
<polygon points="95.33,108.41 98.65,114.38 92.02,114.38" fill="none" stroke="#4646dc" stroke-width="0.7"/>
<polygon points="96.19,109.68 99.53,115.71 92.84,115.71" fill="none" stroke="#4646dc" stroke-width="0.7"/>
<polygon points="97.01,110.98 100.39,117.06 93.63,117.06" fill="none" stroke="#4646dc" stroke-width="0.7"/>
<polygon points="97.82,112.30 101.23,118.44 94.40,118.44" fill="none" stroke="#4646dc" stroke-width="0.7"/>
<polygon points="98.60,113.64 102.04,119.84 95.15,119.84" fill="none" stroke="#4646dc" stroke-width="0.7"/>
<polygon points="99.36,115.01 102.83,121.26 95.88,121.26" fill="none" stroke="#4646dc" stroke-width="0.7"/>
<polygon points="100.09,116.40 103.59,122.70 96.59,122.70" fill="none" stroke="#4646dc" stroke-width="0.7"/>
<polygon points="100.81,117.83 104.31,124.13 97.31,124.13" fill="none" stroke="#4646dc" stroke-width="0.7"/>
<polygon points="101.52,119.30 105.02,125.60 98.02,125.60" fill="none" stroke="#4646dc" stroke-width="0.7"/>
<polygon points="102.23,120.80 105.73,127.10 98.73,127.10" fill="none" stroke="#4646dc" stroke-width="0.7"/>
<polygon points="102.96,122.32 106.46,128.62 99.46,128.62" fill="none" stroke="#4646dc" stroke-width="0.7"/>
<polygon points="103.70,123.87 107.20,130.17 100.20,130.17" fill="none" stroke="#4646dc" stroke-width="0.7"/>
<polygon points="104.46,125.45 107.96,131.75 100.96,131.75" fill="none" stroke="#4646dc" stroke-width="0.7"/>
<polygon points="105.23,127.05 108.73,133.35 101.73,133.35" fill="none" stroke="#4646dc" stroke-width="0.7"/>
<polygon points="106.02,128.68 109.52,134.98 102.52,134.98" fill="none" stroke="#4646dc" stroke-width="0.7"/>
<polygon points="106.82,130.34 110.32,136.64 103.32,136.64" fill="none" stroke="#4646dc" stroke-width="0.7"/>
<polygon points="107.62,132.03 111.12,138.33 104.12,138.33" fill="none" stroke="#4646dc" stroke-width="0.7"/>
<polygon points="108.44,133.75 111.94,140.05 104.94,140.05" fill="none" stroke="#4646dc" stroke-width="0.7"/>
<polygon points="109.27,135.50 112.77,141.80 105.77,141.80" fill="none" stroke="#4646dc" stroke-width="0.7"/>
<polygon points="110.10,137.29 113.60,143.59 106.60,143.59" fill="none" stroke="#4646dc" stroke-width="0.7"/>
<polygon points="110.94,139.11 114.44,145.41 107.44,145.41" fill="none" stroke="#4646dc" stroke-width="0.7"/>
<polygon points="111.79,140.96 115.29,147.26 108.29,147.26" fill="none" stroke="#4646dc" stroke-width="0.7"/>
<polygon points="112.65,142.84 116.15,149.14 109.15,149.14" fill="none" stroke="#4646dc" stroke-width="0.7"/>
<polygon points="113.51,144.77 117.01,151.07 110.01,151.07" fill="none" stroke="#4646dc" stroke-width="0.7"/>
<polygon points="114.38,146.72 117.88,153.02 110.88,153.02" fill="none" stroke="#4646dc" stroke-width="0.7"/>
<polygon points="115.25,148.71 118.75,155.01 111.75,155.01" fill="none" stroke="#4646dc" stroke-width="0.7"/>
<polygon points="116.13,150.74 119.63,157.04 112.63,157.04" fill="none" stroke="#4646dc" stroke-width="0.7"/>
<polygon points="117.01,152.81 120.51,159.11 113.51,159.11" fill="none" stroke="#4646dc" stroke-width="0.7"/>
<polygon points="117.88,154.92 121.38,161.22 114.38,161.22" fill="none" stroke="#4646dc" stroke-width="0.7"/>
<polygon points="118.72,157.07 122.22,163.37 115.22,163.37" fill="none" stroke="#4646dc" stroke-width="0.7"/>
<polygon points="119.52,159.28 123.02,165.58 116.02,165.58" fill="none" stroke="#4646dc" stroke-width="0.7"/>
<polygon points="120.29,161.53 123.79,167.83 116.79,167.83" fill="none" stroke="#4646dc" stroke-width="0.7"/>
<polygon points="121.06,163.81 124.56,170.11 117.56,170.11" fill="none" stroke="#4646dc" stroke-width="0.7"/>
<polygon points="121.85,166.07 125.35,172.37 118.35,172.37" fill="none" stroke="#4646dc" stroke-width="0.7"/>
<polygon points="122.69,168.32 126.19,174.62 119.19,174.62" fill="none" stroke="#4646dc" stroke-width="0.7"/>
<polygon points="123.57,170.56 127.07,176.86 120.07,176.86" fill="none" stroke="#4646dc" stroke-width="0.7"/>
<polygon points="124.42,172.80 127.92,179.10 120.92,179.10" fill="none" stroke="#4646dc" stroke-width="0.7"/>
<polygon points="125.17,175.08 128.67,181.38 121.67,181.38" fill="none" stroke="#4646dc" stroke-width="0.7"/>
<polygon points="125.80,177.39 129.30,183.69 122.30,183.69" fill="none" stroke="#4646dc" stroke-width="0.7"/>
<polygon points="126.36,179.73 129.86,186.03 122.86,186.03" fill="none" stroke="#4646dc" stroke-width="0.7"/>
<polygon points="126.90,182.07 130.40,188.37 123.40,188.37" fill="none" stroke="#4646dc" stroke-width="0.7"/>
<polygon points="33.01,87.50 34.99,87.48 37.83,87.44 41.13,87.41 44.52,87.39 47.59,87.41 49.94,87.50 51.51,87.64 52.61,87.83 53.38,88.04 54.03,88.29 54.76,88.60 55.66,88.94 56.64,89.28 57.56,89.63 58.48,90.01 59.43,90.43 60.44,90.91 61.53,91.48 62.76,92.16 64.12,92.94 65.54,93.79 66.95,94.66 68.26,95.51 69.42,96.31 70.40,97.04 71.26,97.73 72.04,98.40 72.77,99.09 73.49,99.84 74.26,100.67 75.05,101.55 75.81,102.44 76.56,103.37 77.31,104.38 78.06,105.51 78.83,106.79 79.63,108.29 80.47,109.97 81.32,111.77 82.15,113.64 82.94,115.53 83.67,117.36 84.31,119.13 84.91,120.91 85.46,122.71 85.99,124.52 86.51,126.37 87.04,128.27 87.56,130.17 88.06,132.07 88.56,133.99 89.04,135.98 89.53,138.04 90.02,140.22 90.53,142.53 91.04,144.98 91.55,147.51 92.06,150.08 92.55,152.65 93.02,155.18 93.47,157.70 93.90,160.24 95.87,159.91 95.44,157.35 94.98,154.82 94.51,152.28 94.02,149.70 93.51,147.12 93.00,144.58 92.48,142.12 91.98,139.78 91.48,137.59 90.99,135.51 90.49,133.51 90.00,131.56 89.49,129.65 88.96,127.73 88.44,125.84 87.91,123.97 87.38,122.13 86.81,120.30 86.20,118.47 85.53,116.64 84.79,114.77 83.99,112.85 83.14,110.94 82.27,109.09 81.41,107.37 80.57,105.81 79.75,104.44 78.95,103.23 78.15,102.15 77.35,101.16 76.55,100.24 75.74,99.33 74.94,98.46 74.17,97.67 73.38,96.92 72.54,96.19 71.62,95.46 70.58,94.69 69.37,93.85 68.02,92.97 66.58,92.08 65.13,91.21 63.74,90.42 62.47,89.72 61.33,89.13 60.27,88.62 59.27,88.17 58.29,87.77 57.32,87.40 56.34,87.06 55.50,86.74 54.78,86.44 54.00,86.14 53.02,85.87 51.76,85.66 50.06,85.50 47.63,85.41 44.52,85.39 41.12,85.41 37.80,85.44 34.97,85.48 32.99,85.50" fill="#e8202a" fill-opacity="0.2"/>
<circle cx="33.00" cy="86.50" r="2.30" fill="none" stroke="#f03a3a" stroke-width="0.7"/>
<circle cx="34.00" cy="86.49" r="2.31" fill="none" stroke="#f03a3a" stroke-width="0.7"/>
<circle cx="35.01" cy="86.48" r="2.31" fill="none" stroke="#f03a3a" stroke-width="0.7"/>
<circle cx="36.04" cy="86.47" r="2.32" fill="none" stroke="#f03a3a" stroke-width="0.7"/>
<circle cx="37.08" cy="86.45" r="2.32" fill="none" stroke="#f03a3a" stroke-width="0.7"/>
<circle cx="38.13" cy="86.44" r="2.33" fill="none" stroke="#f03a3a" stroke-width="0.7"/>
<circle cx="39.19" cy="86.43" r="2.33" fill="none" stroke="#f03a3a" stroke-width="0.7"/>
<circle cx="40.27" cy="86.41" r="2.34" fill="none" stroke="#f03a3a" stroke-width="0.7"/>
<circle cx="41.37" cy="86.40" r="2.35" fill="none" stroke="#f03a3a" stroke-width="0.7"/>
<circle cx="42.47" cy="86.40" r="2.35" fill="none" stroke="#f03a3a" stroke-width="0.7"/>
<circle cx="43.59" cy="86.39" r="2.36" fill="none" stroke="#f03a3a" stroke-width="0.7"/>
<circle cx="44.73" cy="86.39" r="2.36" fill="none" stroke="#f03a3a" stroke-width="0.7"/>
<circle cx="45.88" cy="86.39" r="2.37" fill="none" stroke="#f03a3a" stroke-width="0.7"/>
<circle cx="47.04" cy="86.40" r="2.38" fill="none" stroke="#f03a3a" stroke-width="0.7"/>
<circle cx="48.22" cy="86.43" r="2.38" fill="none" stroke="#f03a3a" stroke-width="0.7"/>
<circle cx="49.42" cy="86.47" r="2.39" fill="none" stroke="#f03a3a" stroke-width="0.7"/>
<circle cx="50.62" cy="86.55" r="2.40" fill="none" stroke="#f03a3a" stroke-width="0.7"/>
<circle cx="51.84" cy="86.68" r="2.40" fill="none" stroke="#f03a3a" stroke-width="0.7"/>
<circle cx="53.06" cy="86.91" r="2.41" fill="none" stroke="#f03a3a" stroke-width="0.7"/>
<circle cx="54.25" cy="87.30" r="2.41" fill="none" stroke="#f03a3a" stroke-width="0.7"/>
<circle cx="55.42" cy="87.79" r="2.42" fill="none" stroke="#f03a3a" stroke-width="0.7"/>
<circle cx="56.64" cy="88.22" r="2.43" fill="none" stroke="#f03a3a" stroke-width="0.7"/>
<circle cx="57.86" cy="88.67" r="2.43" fill="none" stroke="#f03a3a" stroke-width="0.7"/>
<circle cx="59.07" cy="89.17" r="2.44" fill="none" stroke="#f03a3a" stroke-width="0.7"/>
<circle cx="60.29" cy="89.73" r="2.45" fill="none" stroke="#f03a3a" stroke-width="0.7"/>
<circle cx="61.49" cy="90.33" r="2.45" fill="none" stroke="#f03a3a" stroke-width="0.7"/>
<circle cx="62.69" cy="90.98" r="2.46" fill="none" stroke="#f03a3a" stroke-width="0.7"/>
<circle cx="63.90" cy="91.65" r="2.47" fill="none" stroke="#f03a3a" stroke-width="0.7"/>
<circle cx="65.10" cy="92.35" r="2.47" fill="none" stroke="#f03a3a" stroke-width="0.7"/>
<circle cx="66.31" cy="93.08" r="2.48" fill="none" stroke="#f03a3a" stroke-width="0.7"/>
<circle cx="67.52" cy="93.83" r="2.49" fill="none" stroke="#f03a3a" stroke-width="0.7"/>
<circle cx="68.73" cy="94.62" r="2.49" fill="none" stroke="#f03a3a" stroke-width="0.7"/>
<circle cx="69.92" cy="95.45" r="2.50" fill="none" stroke="#f03a3a" stroke-width="0.7"/>
<circle cx="71.10" cy="96.33" r="2.53" fill="none" stroke="#f03a3a" stroke-width="0.7"/>
<circle cx="72.26" cy="97.27" r="2.56" fill="none" stroke="#f03a3a" stroke-width="0.7"/>
<circle cx="73.36" cy="98.28" r="2.59" fill="none" stroke="#f03a3a" stroke-width="0.7"/>
<circle cx="74.42" cy="99.36" r="2.62" fill="none" stroke="#f03a3a" stroke-width="0.7"/>
<circle cx="75.45" cy="100.50" r="2.65" fill="none" stroke="#f03a3a" stroke-width="0.7"/>
<circle cx="76.46" cy="101.66" r="2.67" fill="none" stroke="#f03a3a" stroke-width="0.7"/>
<circle cx="77.44" cy="102.87" r="2.70" fill="none" stroke="#f03a3a" stroke-width="0.7"/>
<circle cx="78.36" cy="104.14" r="2.72" fill="none" stroke="#f03a3a" stroke-width="0.7"/>
<circle cx="79.21" cy="105.47" r="2.75" fill="none" stroke="#f03a3a" stroke-width="0.7"/>
<circle cx="80.00" cy="106.84" r="2.77" fill="none" stroke="#f03a3a" stroke-width="0.7"/>
<circle cx="80.74" cy="108.26" r="2.79" fill="none" stroke="#f03a3a" stroke-width="0.7"/>
<circle cx="81.47" cy="109.74" r="2.81" fill="none" stroke="#f03a3a" stroke-width="0.7"/>
<circle cx="82.20" cy="111.28" r="2.83" fill="none" stroke="#f03a3a" stroke-width="0.7"/>
<circle cx="82.91" cy="112.87" r="2.84" fill="none" stroke="#f03a3a" stroke-width="0.7"/>
<circle cx="83.61" cy="114.52" r="2.86" fill="none" stroke="#f03a3a" stroke-width="0.7"/>
<circle cx="84.30" cy="116.23" r="2.88" fill="none" stroke="#f03a3a" stroke-width="0.7"/>
<circle cx="84.97" cy="117.99" r="2.90" fill="none" stroke="#f03a3a" stroke-width="0.7"/>
<circle cx="85.60" cy="119.82" r="2.90" fill="none" stroke="#f03a3a" stroke-width="0.7"/>
<circle cx="86.20" cy="121.70" r="2.90" fill="none" stroke="#f03a3a" stroke-width="0.7"/>
<circle cx="86.77" cy="123.63" r="2.90" fill="none" stroke="#f03a3a" stroke-width="0.7"/>
<circle cx="87.33" cy="125.60" r="2.90" fill="none" stroke="#f03a3a" stroke-width="0.7"/>
<circle cx="87.89" cy="127.62" r="2.90" fill="none" stroke="#f03a3a" stroke-width="0.7"/>
<circle cx="88.46" cy="129.67" r="2.90" fill="none" stroke="#f03a3a" stroke-width="0.7"/>
<circle cx="89.01" cy="131.76" r="2.90" fill="none" stroke="#f03a3a" stroke-width="0.7"/>
<circle cx="89.56" cy="133.89" r="2.90" fill="none" stroke="#f03a3a" stroke-width="0.7"/>
<circle cx="90.09" cy="136.06" r="2.90" fill="none" stroke="#f03a3a" stroke-width="0.7"/>
<circle cx="90.61" cy="138.27" r="2.90" fill="none" stroke="#f03a3a" stroke-width="0.7"/>
<circle cx="91.12" cy="140.53" r="2.90" fill="none" stroke="#f03a3a" stroke-width="0.7"/>
<circle cx="91.61" cy="142.81" r="2.90" fill="none" stroke="#f03a3a" stroke-width="0.7"/>
<circle cx="92.09" cy="145.14" r="2.90" fill="none" stroke="#f03a3a" stroke-width="0.7"/>
<circle cx="92.57" cy="147.50" r="2.90" fill="none" stroke="#f03a3a" stroke-width="0.7"/>
<circle cx="93.04" cy="149.89" r="2.90" fill="none" stroke="#f03a3a" stroke-width="0.7"/>
<circle cx="93.50" cy="152.31" r="2.90" fill="none" stroke="#f03a3a" stroke-width="0.7"/>
<circle cx="93.96" cy="154.77" r="2.90" fill="none" stroke="#f03a3a" stroke-width="0.7"/>
<circle cx="94.41" cy="157.26" r="2.90" fill="none" stroke="#f03a3a" stroke-width="0.7"/>
<circle cx="94.84" cy="159.79" r="2.90" fill="none" stroke="#f03a3a" stroke-width="0.7"/>
<circle cx="95.27" cy="162.34" r="2.90" fill="none" stroke="#f03a3a" stroke-width="0.7"/>
<circle cx="95.68" cy="164.91" r="2.90" fill="none" stroke="#f03a3a" stroke-width="0.7"/>
<circle cx="96.10" cy="167.47" r="2.90" fill="none" stroke="#f03a3a" stroke-width="0.7"/>
<circle cx="96.51" cy="170.04" r="2.90" fill="none" stroke="#f03a3a" stroke-width="0.7"/>
<circle cx="96.91" cy="172.61" r="2.90" fill="none" stroke="#f03a3a" stroke-width="0.7"/>
<circle cx="97.32" cy="175.18" r="2.90" fill="none" stroke="#f03a3a" stroke-width="0.7"/>
<circle cx="97.71" cy="177.75" r="2.90" fill="none" stroke="#f03a3a" stroke-width="0.7"/>
<circle cx="98.10" cy="180.32" r="2.90" fill="none" stroke="#f03a3a" stroke-width="0.7"/>
<circle cx="98.48" cy="182.89" r="2.90" fill="none" stroke="#f03a3a" stroke-width="0.7"/>
<circle cx="98.83" cy="185.47" r="2.90" fill="none" stroke="#f03a3a" stroke-width="0.7"/>
<polygon points="33.02,88.95 34.75,88.93 37.21,88.90 40.08,88.86 43.04,88.85 45.75,88.87 47.90,88.95 49.46,89.08 50.71,89.25 51.74,89.46 52.63,89.69 53.52,89.96 54.45,90.26 55.35,90.57 56.13,90.88 56.86,91.21 57.57,91.58 58.29,92.00 59.05,92.47 59.83,92.99 60.62,93.56 61.40,94.17 62.20,94.83 62.99,95.53 63.80,96.27 64.64,97.08 65.50,97.92 66.35,98.79 67.16,99.68 67.90,100.58 68.55,101.47 69.10,102.38 69.60,103.31 70.07,104.33 73.24,102.86 72.73,101.76 72.14,100.64 71.45,99.53 70.67,98.44 69.80,97.39 68.90,96.40 67.98,95.45 67.07,94.56 66.20,93.73 65.34,92.93 64.47,92.16 63.60,91.44 62.72,90.76 61.83,90.12 60.95,89.53 60.09,89.00 59.25,88.51 58.39,88.07 57.50,87.66 56.55,87.28 55.55,86.94 54.57,86.62 53.59,86.32 52.51,86.04 51.29,85.80 49.84,85.60 48.10,85.45 45.83,85.37 43.04,85.35 40.05,85.36 37.16,85.40 34.70,85.43 32.98,85.45" fill="#333333" fill-opacity="0.6"/>
<rect x="30.70" y="84.90" width="4.60" height="4.60" fill="none" stroke="#3a3a3a" stroke-width="0.7"/>
<rect x="31.70" y="84.89" width="4.61" height="4.61" fill="none" stroke="#3a3a3a" stroke-width="0.7"/>
<rect x="32.71" y="84.87" width="4.61" height="4.61" fill="none" stroke="#3a3a3a" stroke-width="0.7"/>
<rect x="33.73" y="84.86" width="4.62" height="4.62" fill="none" stroke="#3a3a3a" stroke-width="0.7"/>
<rect x="34.77" y="84.84" width="4.62" height="4.62" fill="none" stroke="#3a3a3a" stroke-width="0.7"/>
<rect x="35.82" y="84.82" width="4.63" height="4.63" fill="none" stroke="#3a3a3a" stroke-width="0.7"/>
<rect x="36.89" y="84.81" width="4.63" height="4.63" fill="none" stroke="#3a3a3a" stroke-width="0.7"/>
<rect x="37.97" y="84.79" width="4.64" height="4.64" fill="none" stroke="#3a3a3a" stroke-width="0.7"/>
<rect x="39.07" y="84.78" width="4.65" height="4.65" fill="none" stroke="#3a3a3a" stroke-width="0.7"/>
<rect x="40.18" y="84.77" width="4.65" height="4.65" fill="none" stroke="#3a3a3a" stroke-width="0.7"/>
<rect x="41.30" y="84.77" width="4.66" height="4.66" fill="none" stroke="#3a3a3a" stroke-width="0.7"/>
<rect x="42.44" y="84.77" width="4.66" height="4.66" fill="none" stroke="#3a3a3a" stroke-width="0.7"/>
<rect x="43.60" y="84.79" width="4.67" height="4.67" fill="none" stroke="#3a3a3a" stroke-width="0.7"/>
<rect x="44.77" y="84.82" width="4.68" height="4.68" fill="none" stroke="#3a3a3a" stroke-width="0.7"/>
<rect x="45.95" y="84.88" width="4.68" height="4.68" fill="none" stroke="#3a3a3a" stroke-width="0.7"/>
<rect x="47.15" y="84.98" width="4.69" height="4.69" fill="none" stroke="#3a3a3a" stroke-width="0.7"/>
<rect x="48.36" y="85.13" width="4.70" height="4.70" fill="none" stroke="#3a3a3a" stroke-width="0.7"/>
<rect x="49.58" y="85.36" width="4.70" height="4.70" fill="none" stroke="#3a3a3a" stroke-width="0.7"/>
<rect x="50.79" y="85.66" width="4.71" height="4.71" fill="none" stroke="#3a3a3a" stroke-width="0.7"/>
<rect x="52.00" y="86.04" width="4.72" height="4.72" fill="none" stroke="#3a3a3a" stroke-width="0.7"/>
<rect x="53.22" y="86.43" width="4.72" height="4.72" fill="none" stroke="#3a3a3a" stroke-width="0.7"/>
<rect x="54.44" y="86.90" width="4.73" height="4.73" fill="none" stroke="#3a3a3a" stroke-width="0.7"/>
<rect x="55.63" y="87.46" width="4.74" height="4.74" fill="none" stroke="#3a3a3a" stroke-width="0.7"/>
<rect x="56.79" y="88.11" width="4.74" height="4.74" fill="none" stroke="#3a3a3a" stroke-width="0.7"/>
<rect x="57.94" y="88.83" width="4.75" height="4.75" fill="none" stroke="#3a3a3a" stroke-width="0.7"/>
<rect x="59.06" y="89.61" width="4.75" height="4.75" fill="none" stroke="#3a3a3a" stroke-width="0.7"/>
<rect x="60.15" y="90.45" width="4.76" height="4.76" fill="none" stroke="#3a3a3a" stroke-width="0.7"/>
<rect x="61.22" y="91.35" width="4.77" height="4.77" fill="none" stroke="#3a3a3a" stroke-width="0.7"/>
<rect x="62.27" y="92.29" width="4.77" height="4.77" fill="none" stroke="#3a3a3a" stroke-width="0.7"/>
<rect x="63.30" y="93.27" width="4.78" height="4.78" fill="none" stroke="#3a3a3a" stroke-width="0.7"/>
<rect x="64.33" y="94.27" width="4.78" height="4.78" fill="none" stroke="#3a3a3a" stroke-width="0.7"/>
<rect x="65.34" y="95.32" width="4.79" height="4.79" fill="none" stroke="#3a3a3a" stroke-width="0.7"/>
<rect x="66.31" y="96.41" width="4.79" height="4.79" fill="none" stroke="#3a3a3a" stroke-width="0.7"/>
<rect x="67.23" y="97.57" width="4.80" height="4.80" fill="none" stroke="#3a3a3a" stroke-width="0.7"/>
<rect x="68.04" y="98.81" width="4.82" height="4.82" fill="none" stroke="#3a3a3a" stroke-width="0.7"/>
<rect x="68.82" y="100.28" width="4.85" height="4.85" fill="none" stroke="#3a3a3a" stroke-width="0.7"/>
<rect x="69.62" y="102.11" width="4.88" height="4.88" fill="none" stroke="#3a3a3a" stroke-width="0.7"/>
<rect x="70.45" y="104.30" width="4.92" height="4.92" fill="none" stroke="#3a3a3a" stroke-width="0.7"/>
<rect x="71.33" y="106.83" width="4.95" height="4.95" fill="none" stroke="#3a3a3a" stroke-width="0.7"/>
<rect x="72.22" y="109.77" width="4.99" height="4.99" fill="none" stroke="#3a3a3a" stroke-width="0.7"/>
<rect x="73.15" y="113.08" width="5.03" height="5.03" fill="none" stroke="#3a3a3a" stroke-width="0.7"/>
<rect x="74.10" y="116.80" width="5.07" height="5.07" fill="none" stroke="#3a3a3a" stroke-width="0.7"/>
<rect x="75.07" y="120.98" width="5.10" height="5.10" fill="none" stroke="#3a3a3a" stroke-width="0.7"/>
<rect x="76.15" y="125.64" width="5.15" height="5.15" fill="none" stroke="#3a3a3a" stroke-width="0.7"/>
<rect x="77.17" y="130.88" width="5.19" height="5.19" fill="none" stroke="#3a3a3a" stroke-width="0.7"/>
<rect x="78.05" y="136.69" width="5.20" height="5.20" fill="none" stroke="#3a3a3a" stroke-width="0.7"/>
<rect x="78.83" y="143.28" width="5.20" height="5.20" fill="none" stroke="#3a3a3a" stroke-width="0.7"/>
<rect x="79.52" y="150.69" width="5.20" height="5.20" fill="none" stroke="#3a3a3a" stroke-width="0.7"/>
<rect x="80.16" y="158.78" width="5.20" height="5.20" fill="none" stroke="#3a3a3a" stroke-width="0.7"/>
<rect x="80.51" y="167.53" width="5.20" height="5.20" fill="none" stroke="#3a3a3a" stroke-width="0.7"/>
<polygon points="33.00,87.75 36.11,87.75 40.56,87.74 45.75,87.74 51.11,87.74 56.05,87.74 59.99,87.75 62.89,87.76 65.21,87.78 67.11,87.80 68.73,87.83 70.26,87.88 71.84,87.95 73.41,88.03 74.83,88.14 76.15,88.25 77.43,88.39 78.73,88.45 80.09,88.50 81.50,88.57 82.90,88.66 84.31,88.77 85.71,88.90 87.11,89.05 88.50,89.22 89.91,89.42 91.31,89.63 92.70,89.87 94.08,90.13 95.41,90.50 96.70,90.94 97.94,91.42 99.14,91.94 100.35,92.50 101.58,93.09 102.87,93.72 104.25,94.38 105.73,95.07 107.28,95.77 108.85,96.50 110.40,97.24 111.90,98.01 113.30,98.80 114.61,99.63 115.87,100.52 117.12,101.45 118.36,102.42 119.64,103.41 120.95,104.40 122.25,105.37 123.53,106.32 124.81,107.29 126.13,108.28 127.50,109.31 128.95,110.40 130.50,111.56 132.14,112.79 133.82,114.06 135.54,115.34 137.26,116.63 138.95,117.90 140.65,119.16 142.35,120.41 144.05,121.66 145.73,122.90 147.35,124.13 148.90,125.36 150.35,126.56 151.71,127.75 153.05,128.95 154.40,130.19 155.82,131.47 157.35,132.82 159.02,134.26 160.81,135.79 162.65,137.36 164.47,138.92 166.23,140.43 167.85,141.82 169.31,143.11 170.67,144.35 171.98,145.55 173.27,146.71 174.59,147.83 175.95,148.90 177.35,149.91 178.76,150.84 180.15,151.71 181.52,152.53 182.86,153.30 184.14,154.02 185.86,150.98 184.59,150.26 183.29,149.51 181.97,148.72 180.65,147.90 179.34,147.03 178.05,146.10 176.81,145.12 175.58,144.07 174.33,142.95 173.03,141.76 171.65,140.50 170.15,139.18 168.51,137.77 166.75,136.26 164.92,134.70 163.08,133.13 161.30,131.61 159.65,130.18 158.15,128.86 156.75,127.59 155.39,126.36 154.03,125.13 152.61,123.90 151.10,122.64 149.49,121.37 147.83,120.10 146.13,118.84 144.42,117.59 142.72,116.34 141.05,115.10 139.36,113.83 137.64,112.54 135.93,111.26 134.24,109.99 132.60,108.76 131.05,107.60 129.60,106.51 128.23,105.48 126.91,104.49 125.63,103.52 124.34,102.56 123.05,101.60 121.77,100.63 120.51,99.65 119.23,98.66 117.92,97.68 116.55,96.72 115.10,95.80 113.56,94.93 111.96,94.11 110.34,93.33 108.74,92.59 107.19,91.89 105.75,91.22 104.40,90.57 103.11,89.94 101.84,89.33 100.57,88.74 99.26,88.18 97.90,87.66 96.50,87.17 95.09,86.70 93.70,86.18 92.30,85.69 90.90,85.23 89.50,84.78 88.08,84.34 86.65,83.93 85.22,83.54 83.78,83.17 82.34,82.83 80.91,82.50 79.52,82.19 78.16,81.93 76.78,81.78 75.35,81.66 73.83,81.55 72.16,81.45 70.50,81.38 68.90,81.33 67.20,81.30 65.27,81.28 62.93,81.26 60.01,81.25 56.06,81.24 51.11,81.24 45.75,81.24 40.55,81.24 36.11,81.25 33.00,81.25" fill="#f7941d" fill-opacity="0.85"/>
<rect x="29.20" y="80.70" width="7.60" height="7.60" fill="none" stroke="#f7941d" stroke-width="0.7"/>
<rect x="30.40" y="80.70" width="7.60" height="7.60" fill="none" stroke="#f7941d" stroke-width="0.7"/>
<rect x="31.60" y="80.70" width="7.60" height="7.60" fill="none" stroke="#f7941d" stroke-width="0.7"/>
<rect x="32.81" y="80.70" width="7.60" height="7.60" fill="none" stroke="#f7941d" stroke-width="0.7"/>
<rect x="34.02" y="80.70" width="7.60" height="7.60" fill="none" stroke="#f7941d" stroke-width="0.7"/>
<rect x="35.23" y="80.69" width="7.60" height="7.60" fill="none" stroke="#f7941d" stroke-width="0.7"/>
<rect x="36.45" y="80.69" width="7.60" height="7.60" fill="none" stroke="#f7941d" stroke-width="0.7"/>
<rect x="37.66" y="80.69" width="7.60" height="7.60" fill="none" stroke="#f7941d" stroke-width="0.7"/>
<rect x="38.89" y="80.69" width="7.60" height="7.60" fill="none" stroke="#f7941d" stroke-width="0.7"/>
<rect x="40.11" y="80.69" width="7.60" height="7.60" fill="none" stroke="#f7941d" stroke-width="0.7"/>
<rect x="41.34" y="80.69" width="7.60" height="7.60" fill="none" stroke="#f7941d" stroke-width="0.7"/>
<rect x="42.57" y="80.69" width="7.60" height="7.60" fill="none" stroke="#f7941d" stroke-width="0.7"/>
<rect x="43.80" y="80.69" width="7.60" height="7.60" fill="none" stroke="#f7941d" stroke-width="0.7"/>
<rect x="45.04" y="80.69" width="7.60" height="7.60" fill="none" stroke="#f7941d" stroke-width="0.7"/>
<rect x="46.28" y="80.69" width="7.60" height="7.60" fill="none" stroke="#f7941d" stroke-width="0.7"/>
<rect x="47.53" y="80.69" width="7.60" height="7.60" fill="none" stroke="#f7941d" stroke-width="0.7"/>
<rect x="48.77" y="80.69" width="7.60" height="7.60" fill="none" stroke="#f7941d" stroke-width="0.7"/>
<rect x="50.02" y="80.69" width="7.60" height="7.60" fill="none" stroke="#f7941d" stroke-width="0.7"/>
<rect x="51.28" y="80.69" width="7.60" height="7.60" fill="none" stroke="#f7941d" stroke-width="0.7"/>
<rect x="52.53" y="80.69" width="7.60" height="7.60" fill="none" stroke="#f7941d" stroke-width="0.7"/>
<rect x="53.79" y="80.69" width="7.60" height="7.60" fill="none" stroke="#f7941d" stroke-width="0.7"/>
<rect x="55.06" y="80.70" width="7.60" height="7.60" fill="none" stroke="#f7941d" stroke-width="0.7"/>
<rect x="56.32" y="80.70" width="7.60" height="7.60" fill="none" stroke="#f7941d" stroke-width="0.7"/>
<rect x="57.59" y="80.71" width="7.60" height="7.60" fill="none" stroke="#f7941d" stroke-width="0.7"/>
<rect x="58.87" y="80.71" width="7.60" height="7.60" fill="none" stroke="#f7941d" stroke-width="0.7"/>
<rect x="60.14" y="80.72" width="7.60" height="7.60" fill="none" stroke="#f7941d" stroke-width="0.7"/>
<rect x="61.42" y="80.73" width="7.60" height="7.60" fill="none" stroke="#f7941d" stroke-width="0.7"/>
<rect x="62.70" y="80.74" width="7.60" height="7.60" fill="none" stroke="#f7941d" stroke-width="0.7"/>
<rect x="63.99" y="80.76" width="7.60" height="7.60" fill="none" stroke="#f7941d" stroke-width="0.7"/>
<rect x="65.28" y="80.79" width="7.60" height="7.60" fill="none" stroke="#f7941d" stroke-width="0.7"/>
<rect x="66.57" y="80.83" width="7.60" height="7.60" fill="none" stroke="#f7941d" stroke-width="0.7"/>
<rect x="67.86" y="80.88" width="7.60" height="7.60" fill="none" stroke="#f7941d" stroke-width="0.7"/>
<rect x="69.16" y="80.95" width="7.60" height="7.60" fill="none" stroke="#f7941d" stroke-width="0.7"/>
<rect x="70.46" y="81.03" width="7.60" height="7.60" fill="none" stroke="#f7941d" stroke-width="0.7"/>
<rect x="71.76" y="81.14" width="7.60" height="7.60" fill="none" stroke="#f7941d" stroke-width="0.7"/>
<rect x="73.07" y="81.26" width="7.60" height="7.60" fill="none" stroke="#f7941d" stroke-width="0.7"/>
<rect x="74.38" y="81.42" width="7.58" height="7.58" fill="none" stroke="#f7941d" stroke-width="0.7"/>
<rect x="75.78" y="81.67" width="7.39" height="7.39" fill="none" stroke="#f7941d" stroke-width="0.7"/>
<rect x="77.18" y="81.94" width="7.21" height="7.21" fill="none" stroke="#f7941d" stroke-width="0.7"/>
<rect x="78.58" y="82.22" width="7.02" height="7.02" fill="none" stroke="#f7941d" stroke-width="0.7"/>
<rect x="79.99" y="82.51" width="6.84" height="6.84" fill="none" stroke="#f7941d" stroke-width="0.7"/>
<rect x="81.39" y="82.82" width="6.65" height="6.65" fill="none" stroke="#f7941d" stroke-width="0.7"/>
<rect x="82.79" y="83.15" width="6.47" height="6.47" fill="none" stroke="#f7941d" stroke-width="0.7"/>
<rect x="84.20" y="83.50" width="6.28" height="6.28" fill="none" stroke="#f7941d" stroke-width="0.7"/>
<rect x="85.60" y="83.87" width="6.10" height="6.10" fill="none" stroke="#f7941d" stroke-width="0.7"/>
<rect x="87.00" y="84.26" width="5.91" height="5.91" fill="none" stroke="#f7941d" stroke-width="0.7"/>
<rect x="88.40" y="84.67" width="5.73" height="5.73" fill="none" stroke="#f7941d" stroke-width="0.7"/>
<rect x="89.80" y="85.09" width="5.54" height="5.54" fill="none" stroke="#f7941d" stroke-width="0.7"/>
<rect x="91.20" y="85.53" width="5.36" height="5.36" fill="none" stroke="#f7941d" stroke-width="0.7"/>
<rect x="92.58" y="85.99" width="5.20" height="5.20" fill="none" stroke="#f7941d" stroke-width="0.7"/>
<rect x="93.88" y="86.41" width="5.20" height="5.20" fill="none" stroke="#f7941d" stroke-width="0.7"/>
<rect x="95.16" y="86.87" width="5.19" height="5.19" fill="none" stroke="#f7941d" stroke-width="0.7"/>
<rect x="96.43" y="87.39" width="5.19" height="5.19" fill="none" stroke="#f7941d" stroke-width="0.7"/>
<rect x="97.69" y="87.94" width="5.19" height="5.19" fill="none" stroke="#f7941d" stroke-width="0.7"/>
<rect x="98.93" y="88.52" width="5.18" height="5.18" fill="none" stroke="#f7941d" stroke-width="0.7"/>
<rect x="100.17" y="89.13" width="5.18" height="5.18" fill="none" stroke="#f7941d" stroke-width="0.7"/>
<rect x="101.41" y="89.73" width="5.18" height="5.18" fill="none" stroke="#f7941d" stroke-width="0.7"/>
<rect x="102.66" y="90.33" width="5.18" height="5.18" fill="none" stroke="#f7941d" stroke-width="0.7"/>
<rect x="103.92" y="90.91" width="5.17" height="5.17" fill="none" stroke="#f7941d" stroke-width="0.7"/>
<rect x="105.18" y="91.49" width="5.17" height="5.17" fill="none" stroke="#f7941d" stroke-width="0.7"/>
<rect x="106.45" y="92.07" width="5.17" height="5.17" fill="none" stroke="#f7941d" stroke-width="0.7"/>
<rect x="107.71" y="92.66" width="5.16" height="5.16" fill="none" stroke="#f7941d" stroke-width="0.7"/>
<rect x="108.97" y="93.28" width="5.16" height="5.16" fill="none" stroke="#f7941d" stroke-width="0.7"/>
<rect x="110.22" y="93.93" width="5.16" height="5.16" fill="none" stroke="#f7941d" stroke-width="0.7"/>
<rect x="111.44" y="94.62" width="5.16" height="5.16" fill="none" stroke="#f7941d" stroke-width="0.7"/>
<rect x="112.64" y="95.36" width="5.15" height="5.15" fill="none" stroke="#f7941d" stroke-width="0.7"/>
<rect x="113.81" y="96.16" width="5.15" height="5.15" fill="none" stroke="#f7941d" stroke-width="0.7"/>
<rect x="114.95" y="96.99" width="5.15" height="5.15" fill="none" stroke="#f7941d" stroke-width="0.7"/>
<rect x="116.08" y="97.85" width="5.14" height="5.14" fill="none" stroke="#f7941d" stroke-width="0.7"/>
<rect x="117.20" y="98.72" width="5.14" height="5.14" fill="none" stroke="#f7941d" stroke-width="0.7"/>
<rect x="118.33" y="99.60" width="5.14" height="5.14" fill="none" stroke="#f7941d" stroke-width="0.7"/>
<rect x="119.46" y="100.46" width="5.14" height="5.14" fill="none" stroke="#f7941d" stroke-width="0.7"/>
<rect x="120.61" y="101.31" width="5.13" height="5.13" fill="none" stroke="#f7941d" stroke-width="0.7"/>
<rect x="121.76" y="102.17" width="5.13" height="5.13" fill="none" stroke="#f7941d" stroke-width="0.7"/>
<rect x="122.91" y="103.03" width="5.13" height="5.13" fill="none" stroke="#f7941d" stroke-width="0.7"/>
<rect x="124.06" y="103.89" width="5.13" height="5.13" fill="none" stroke="#f7941d" stroke-width="0.7"/>
<rect x="125.21" y="104.76" width="5.12" height="5.12" fill="none" stroke="#f7941d" stroke-width="0.7"/>
<rect x="126.36" y="105.63" width="5.12" height="5.12" fill="none" stroke="#f7941d" stroke-width="0.7"/>
<rect x="127.52" y="106.50" width="5.12" height="5.12" fill="none" stroke="#f7941d" stroke-width="0.7"/>
<rect x="128.68" y="107.37" width="5.11" height="5.11" fill="none" stroke="#f7941d" stroke-width="0.7"/>
<rect x="129.84" y="108.24" width="5.11" height="5.11" fill="none" stroke="#f7941d" stroke-width="0.7"/>
<rect x="131.01" y="109.12" width="5.11" height="5.11" fill="none" stroke="#f7941d" stroke-width="0.7"/>
<rect x="132.18" y="109.99" width="5.11" height="5.11" fill="none" stroke="#f7941d" stroke-width="0.7"/>
<rect x="133.35" y="110.87" width="5.10" height="5.10" fill="none" stroke="#f7941d" stroke-width="0.7"/>
<rect x="134.52" y="111.75" width="5.10" height="5.10" fill="none" stroke="#f7941d" stroke-width="0.7"/>
<rect x="135.69" y="112.63" width="5.10" height="5.10" fill="none" stroke="#f7941d" stroke-width="0.7"/>
<rect x="136.87" y="113.52" width="5.10" height="5.10" fill="none" stroke="#f7941d" stroke-width="0.7"/>
<rect x="138.05" y="114.40" width="5.09" height="5.09" fill="none" stroke="#f7941d" stroke-width="0.7"/>
<rect x="139.24" y="115.28" width="5.09" height="5.09" fill="none" stroke="#f7941d" stroke-width="0.7"/>
<rect x="140.43" y="116.16" width="5.09" height="5.09" fill="none" stroke="#f7941d" stroke-width="0.7"/>
<rect x="141.63" y="117.03" width="5.08" height="5.08" fill="none" stroke="#f7941d" stroke-width="0.7"/>
<rect x="142.83" y="117.91" width="5.08" height="5.08" fill="none" stroke="#f7941d" stroke-width="0.7"/>
<rect x="144.03" y="118.80" width="5.08" height="5.08" fill="none" stroke="#f7941d" stroke-width="0.7"/>
<rect x="145.22" y="119.70" width="5.08" height="5.08" fill="none" stroke="#f7941d" stroke-width="0.7"/>
<rect x="146.40" y="120.62" width="5.07" height="5.07" fill="none" stroke="#f7941d" stroke-width="0.7"/>
<rect x="147.57" y="121.55" width="5.07" height="5.07" fill="none" stroke="#f7941d" stroke-width="0.7"/>
<rect x="148.73" y="122.51" width="5.07" height="5.07" fill="none" stroke="#f7941d" stroke-width="0.7"/>
<rect x="149.88" y="123.51" width="5.06" height="5.06" fill="none" stroke="#f7941d" stroke-width="0.7"/>
<rect x="151.03" y="124.53" width="5.06" height="5.06" fill="none" stroke="#f7941d" stroke-width="0.7"/>
<rect x="152.18" y="125.57" width="5.06" height="5.06" fill="none" stroke="#f7941d" stroke-width="0.7"/>
<rect x="153.34" y="126.63" width="5.06" height="5.06" fill="none" stroke="#f7941d" stroke-width="0.7"/>
<rect x="154.52" y="127.69" width="5.05" height="5.05" fill="none" stroke="#f7941d" stroke-width="0.7"/>
<rect x="155.72" y="128.75" width="5.05" height="5.05" fill="none" stroke="#f7941d" stroke-width="0.7"/>
<rect x="156.94" y="129.81" width="5.05" height="5.05" fill="none" stroke="#f7941d" stroke-width="0.7"/>
<rect x="158.18" y="130.88" width="5.05" height="5.05" fill="none" stroke="#f7941d" stroke-width="0.7"/>
<rect x="159.44" y="131.96" width="5.04" height="5.04" fill="none" stroke="#f7941d" stroke-width="0.7"/>
<rect x="160.71" y="133.04" width="5.04" height="5.04" fill="none" stroke="#f7941d" stroke-width="0.7"/>
<rect x="162.00" y="134.14" width="5.04" height="5.04" fill="none" stroke="#f7941d" stroke-width="0.7"/>
<rect x="163.30" y="135.25" width="5.03" height="5.03" fill="none" stroke="#f7941d" stroke-width="0.7"/>
<rect x="164.61" y="136.37" width="5.03" height="5.03" fill="none" stroke="#f7941d" stroke-width="0.7"/>
<rect x="165.94" y="137.51" width="5.03" height="5.03" fill="none" stroke="#f7941d" stroke-width="0.7"/>
<rect x="167.27" y="138.67" width="5.02" height="5.02" fill="none" stroke="#f7941d" stroke-width="0.7"/>
<rect x="168.60" y="139.86" width="5.02" height="5.02" fill="none" stroke="#f7941d" stroke-width="0.7"/>
<rect x="169.93" y="141.08" width="5.02" height="5.02" fill="none" stroke="#f7941d" stroke-width="0.7"/>
<rect x="171.27" y="142.31" width="5.01" height="5.01" fill="none" stroke="#f7941d" stroke-width="0.7"/>
<rect x="172.66" y="143.52" width="5.01" height="5.01" fill="none" stroke="#f7941d" stroke-width="0.7"/>
<rect x="174.10" y="144.70" width="5.01" height="5.01" fill="none" stroke="#f7941d" stroke-width="0.7"/>
<rect x="175.62" y="145.81" width="5.00" height="5.00" fill="none" stroke="#f7941d" stroke-width="0.7"/>
<rect x="177.20" y="146.87" width="5.00" height="5.00" fill="none" stroke="#f7941d" stroke-width="0.7"/>
<rect x="178.81" y="147.85" width="5.07" height="5.07" fill="none" stroke="#f7941d" stroke-width="0.7"/>
<rect x="180.44" y="148.80" width="5.15" height="5.15" fill="none" stroke="#f7941d" stroke-width="0.7"/>
<rect x="182.11" y="149.73" width="5.24" height="5.24" fill="none" stroke="#f7941d" stroke-width="0.7"/>
<rect x="183.91" y="148.29" width="5.32" height="5.32" fill="none" stroke="#f8a755" stroke-width="0.7"/>
<rect x="187.01" y="149.86" width="5.41" height="5.41" fill="none" stroke="#f8a755" stroke-width="0.7"/>
<rect x="188.37" y="149.81" width="5.50" height="5.50" fill="none" stroke="#f8a755" stroke-width="0.7"/>
<rect x="188.06" y="153.54" width="5.50" height="5.50" fill="none" stroke="#f8a755" stroke-width="0.7"/>
<rect x="191.96" y="156.22" width="5.50" height="5.50" fill="none" stroke="#f8a755" stroke-width="0.7"/>
<rect x="192.40" y="154.09" width="5.50" height="5.50" fill="none" stroke="#f8a755" stroke-width="0.7"/>
<rect x="193.92" y="157.51" width="5.50" height="5.50" fill="none" stroke="#f8a755" stroke-width="0.7"/>
<rect x="198.09" y="155.77" width="5.50" height="5.50" fill="none" stroke="#f8a755" stroke-width="0.7"/>
<rect x="199.55" y="157.68" width="5.50" height="5.50" fill="none" stroke="#f8a755" stroke-width="0.7"/>
<rect x="198.91" y="160.66" width="5.50" height="5.50" fill="none" stroke="#f8a755" stroke-width="0.7"/>
<rect x="200.97" y="160.68" width="5.50" height="5.50" fill="none" stroke="#f8a755" stroke-width="0.7"/>
<rect x="202.93" y="160.38" width="5.50" height="5.50" fill="none" stroke="#f8a755" stroke-width="0.7"/>
<rect x="204.40" y="164.32" width="5.50" height="5.50" fill="none" stroke="#f8a755" stroke-width="0.7"/>
<rect x="209.53" y="164.95" width="5.50" height="5.50" fill="none" stroke="#f8a755" stroke-width="0.7"/>
<rect x="210.84" y="165.03" width="5.50" height="5.50" fill="none" stroke="#f8a755" stroke-width="0.7"/>
<rect x="212.19" y="166.54" width="5.50" height="5.50" fill="none" stroke="#f8a755" stroke-width="0.7"/>
<rect x="213.71" y="164.97" width="5.50" height="5.50" fill="none" stroke="#f8a755" stroke-width="0.7"/>
<rect x="214.98" y="167.21" width="5.50" height="5.50" fill="none" stroke="#f8a755" stroke-width="0.7"/>
<rect x="218.73" y="170.94" width="5.50" height="5.50" fill="none" stroke="#f8a755" stroke-width="0.7"/>
<rect x="220.00" y="169.85" width="5.50" height="5.50" fill="none" stroke="#f8a755" stroke-width="0.7"/>
<rect x="221.55" y="171.89" width="5.50" height="5.50" fill="none" stroke="#f8a755" stroke-width="0.7"/>
<rect x="225.27" y="172.83" width="5.50" height="5.50" fill="none" stroke="#f8a755" stroke-width="0.7"/>
<rect x="225.23" y="175.63" width="5.50" height="5.50" fill="none" stroke="#f8a755" stroke-width="0.7"/>
<rect x="226.15" y="174.39" width="5.50" height="5.50" fill="none" stroke="#f8a755" stroke-width="0.7"/>
<rect x="228.03" y="175.55" width="5.50" height="5.50" fill="none" stroke="#f8a755" stroke-width="0.7"/>
<line x1="-3.72" y1="-4.44" x2="249.12" y2="214.24" stroke="#f7941d" stroke-width="1.3" />
<line x1="2.08" y1="-12.24" x2="214.32" y2="215.54" stroke="#1a8c1a" stroke-width="1.3" />
<line x1="16.26" y1="-16.32" x2="177.54" y2="216.22" stroke="#e21ee2" stroke-width="1.3" />
<line x1="33.22" y1="-16.32" x2="145.08" y2="216.22" stroke="#2626c8" stroke-width="1.3" />
<line x1="47.90" y1="-16.32" x2="110.20" y2="216.22" stroke="#d41f2f" stroke-width="1.3" />
</g>
<rect x="32.4" y="16.9" width="214.5" height="166.0" fill="none" stroke="#6a6a6a" stroke-width="1.1"/>
<line x1="32.40" y1="182.90" x2="32.40" y2="179.40" stroke="#6a6a6a" stroke-width="1" />
<text x="32.4" y="196.5" font-size="13" text-anchor="middle" fill="#1a1a1a" >30</text>
<line x1="56.23" y1="182.90" x2="56.23" y2="180.90" stroke="#6a6a6a" stroke-width="1" />
<line x1="80.07" y1="182.90" x2="80.07" y2="179.40" stroke="#6a6a6a" stroke-width="1" />
<text x="80.1" y="196.5" font-size="13" text-anchor="middle" fill="#1a1a1a" >32</text>
<line x1="103.90" y1="182.90" x2="103.90" y2="180.90" stroke="#6a6a6a" stroke-width="1" />
<line x1="127.73" y1="182.90" x2="127.73" y2="179.40" stroke="#6a6a6a" stroke-width="1" />
<text x="127.7" y="196.5" font-size="13" text-anchor="middle" fill="#1a1a1a" >34</text>
<line x1="151.57" y1="182.90" x2="151.57" y2="180.90" stroke="#6a6a6a" stroke-width="1" />
<line x1="175.40" y1="182.90" x2="175.40" y2="179.40" stroke="#6a6a6a" stroke-width="1" />
<text x="175.4" y="196.5" font-size="13" text-anchor="middle" fill="#1a1a1a" >36</text>
<line x1="199.23" y1="182.90" x2="199.23" y2="180.90" stroke="#6a6a6a" stroke-width="1" />
<line x1="223.07" y1="182.90" x2="223.07" y2="179.40" stroke="#6a6a6a" stroke-width="1" />
<text x="223.1" y="196.5" font-size="13" text-anchor="middle" fill="#1a1a1a" >38</text>
<line x1="246.90" y1="182.90" x2="246.90" y2="180.90" stroke="#6a6a6a" stroke-width="1" />
<line x1="32.40" y1="182.90" x2="35.90" y2="182.90" stroke="#6a6a6a" stroke-width="1" />
<text x="28.6" y="186.9" font-size="13" text-anchor="end" fill="#1a1a1a" >-3</text>
<line x1="32.40" y1="171.04" x2="34.20" y2="171.04" stroke="#6a6a6a" stroke-width="1" />
<line x1="32.40" y1="159.19" x2="35.90" y2="159.19" stroke="#6a6a6a" stroke-width="1" />
<text x="28.6" y="163.2" font-size="13" text-anchor="end" fill="#1a1a1a" >-2</text>
<line x1="32.40" y1="147.33" x2="34.20" y2="147.33" stroke="#6a6a6a" stroke-width="1" />
<line x1="32.40" y1="135.47" x2="35.90" y2="135.47" stroke="#6a6a6a" stroke-width="1" />
<text x="28.6" y="139.5" font-size="13" text-anchor="end" fill="#1a1a1a" >-1</text>
<line x1="32.40" y1="123.61" x2="34.20" y2="123.61" stroke="#6a6a6a" stroke-width="1" />
<line x1="32.40" y1="111.76" x2="35.90" y2="111.76" stroke="#6a6a6a" stroke-width="1" />
<text x="28.6" y="115.8" font-size="13" text-anchor="end" fill="#1a1a1a" >0</text>
<line x1="32.40" y1="99.90" x2="34.20" y2="99.90" stroke="#6a6a6a" stroke-width="1" />
<line x1="32.40" y1="88.04" x2="35.90" y2="88.04" stroke="#6a6a6a" stroke-width="1" />
<text x="28.6" y="92.0" font-size="13" text-anchor="end" fill="#1a1a1a" >1</text>
<line x1="32.40" y1="76.19" x2="34.20" y2="76.19" stroke="#6a6a6a" stroke-width="1" />
<line x1="32.40" y1="64.33" x2="35.90" y2="64.33" stroke="#6a6a6a" stroke-width="1" />
<text x="28.6" y="68.3" font-size="13" text-anchor="end" fill="#1a1a1a" >2</text>
<line x1="32.40" y1="52.47" x2="34.20" y2="52.47" stroke="#6a6a6a" stroke-width="1" />
<line x1="32.40" y1="40.61" x2="35.90" y2="40.61" stroke="#6a6a6a" stroke-width="1" />
<text x="28.6" y="44.6" font-size="13" text-anchor="end" fill="#1a1a1a" >3</text>
<line x1="32.40" y1="28.76" x2="34.20" y2="28.76" stroke="#6a6a6a" stroke-width="1" />
<line x1="32.40" y1="16.90" x2="35.90" y2="16.90" stroke="#6a6a6a" stroke-width="1" />
<text x="28.6" y="20.9" font-size="13" text-anchor="end" fill="#1a1a1a" >4</text>
<text x="0.0" y="24.2" font-size="12.5" text-anchor="start" fill="#1a1a1a" >(a)</text>
<text x="74.8" y="33.0" font-size="12.5" text-anchor="start" fill="#1a1a1a" >H//ab</text>
<text x="10.2" y="151.5" font-size="12" text-anchor="start" fill="#1a1a1a" transform="rotate(-90 10.2 151.5)" >log[ρ<tspan font-size="8" dy="3">ab</tspan><tspan dy="-3">(mΩ cm)]</tspan></text>
<text x="64.4" y="175.5" font-size="12" text-anchor="start" fill="#1a1a1a" >0T</text>
<text x="101.8" y="175.5" font-size="12" text-anchor="start" fill="#1a1a1a" >1T</text>
<text x="126.0" y="171.5" font-size="12" text-anchor="start" fill="#1a1a1a" >3T</text>
<text x="145.6" y="163.5" font-size="12" text-anchor="start" fill="#1a1a1a" >5T</text>
<text x="157.6" y="150.8" font-size="12" text-anchor="start" fill="#1a1a1a" >7T</text>
<text x="173.3" y="136.9" font-size="12.5" text-anchor="start" fill="#1a1a1a" >9T</text>
<rect x="140.3" y="21.5" width="100.7" height="78.8" fill="#fff" stroke="#6a6a6a" stroke-width="0.9"/>
<line x1="140.30" y1="100.30" x2="140.30" y2="97.80" stroke="#6a6a6a" stroke-width="0.7" />
<text x="140.3" y="107.5" font-size="7.5" text-anchor="middle" fill="#333" >0</text>
<line x1="150.37" y1="100.30" x2="150.37" y2="98.80" stroke="#6a6a6a" stroke-width="0.7" />
<line x1="160.44" y1="100.30" x2="160.44" y2="97.80" stroke="#6a6a6a" stroke-width="0.7" />
<text x="160.4" y="107.5" font-size="7.5" text-anchor="middle" fill="#333" >2</text>
<line x1="170.51" y1="100.30" x2="170.51" y2="98.80" stroke="#6a6a6a" stroke-width="0.7" />
<line x1="180.58" y1="100.30" x2="180.58" y2="97.80" stroke="#6a6a6a" stroke-width="0.7" />
<text x="180.6" y="107.5" font-size="7.5" text-anchor="middle" fill="#333" >4</text>
<line x1="190.65" y1="100.30" x2="190.65" y2="98.80" stroke="#6a6a6a" stroke-width="0.7" />
<line x1="200.72" y1="100.30" x2="200.72" y2="97.80" stroke="#6a6a6a" stroke-width="0.7" />
<text x="200.7" y="107.5" font-size="7.5" text-anchor="middle" fill="#333" >6</text>
<line x1="210.79" y1="100.30" x2="210.79" y2="98.80" stroke="#6a6a6a" stroke-width="0.7" />
<line x1="220.86" y1="100.30" x2="220.86" y2="97.80" stroke="#6a6a6a" stroke-width="0.7" />
<text x="220.9" y="107.5" font-size="7.5" text-anchor="middle" fill="#333" >8</text>
<line x1="230.93" y1="100.30" x2="230.93" y2="98.80" stroke="#6a6a6a" stroke-width="0.7" />
<line x1="241.00" y1="100.30" x2="241.00" y2="97.80" stroke="#6a6a6a" stroke-width="0.7" />
<text x="241.0" y="107.5" font-size="7.5" text-anchor="middle" fill="#333" >10</text>
<line x1="140.30" y1="100.30" x2="142.80" y2="100.30" stroke="#6a6a6a" stroke-width="0.7" />
<text x="138.6" y="103.0" font-size="7.5" text-anchor="end" fill="#333" >0</text>
<line x1="140.30" y1="93.73" x2="141.80" y2="93.73" stroke="#6a6a6a" stroke-width="0.7" />
<line x1="140.30" y1="87.17" x2="142.80" y2="87.17" stroke="#6a6a6a" stroke-width="0.7" />
<text x="138.6" y="89.9" font-size="7.5" text-anchor="end" fill="#333" >50</text>
<line x1="140.30" y1="80.60" x2="141.80" y2="80.60" stroke="#6a6a6a" stroke-width="0.7" />
<line x1="140.30" y1="74.03" x2="142.80" y2="74.03" stroke="#6a6a6a" stroke-width="0.7" />
<text x="138.6" y="76.7" font-size="7.5" text-anchor="end" fill="#333" >100</text>
<line x1="140.30" y1="67.47" x2="141.80" y2="67.47" stroke="#6a6a6a" stroke-width="0.7" />
<line x1="140.30" y1="60.90" x2="142.80" y2="60.90" stroke="#6a6a6a" stroke-width="0.7" />
<text x="138.6" y="63.6" font-size="7.5" text-anchor="end" fill="#333" >150</text>
<line x1="140.30" y1="54.33" x2="141.80" y2="54.33" stroke="#6a6a6a" stroke-width="0.7" />
<line x1="140.30" y1="47.77" x2="142.80" y2="47.77" stroke="#6a6a6a" stroke-width="0.7" />
<text x="138.6" y="50.5" font-size="7.5" text-anchor="end" fill="#333" >200</text>
<line x1="140.30" y1="41.20" x2="141.80" y2="41.20" stroke="#6a6a6a" stroke-width="0.7" />
<line x1="140.30" y1="34.63" x2="142.80" y2="34.63" stroke="#6a6a6a" stroke-width="0.7" />
<text x="138.6" y="37.3" font-size="7.5" text-anchor="end" fill="#333" >250</text>
<line x1="140.30" y1="28.07" x2="141.80" y2="28.07" stroke="#6a6a6a" stroke-width="0.7" />
<line x1="140.30" y1="21.50" x2="142.80" y2="21.50" stroke="#6a6a6a" stroke-width="0.7" />
<text x="138.6" y="24.2" font-size="7.5" text-anchor="end" fill="#333" >300</text>
<text x="173.6" y="116.0" font-size="7.0" text-anchor="start" fill="#333" >U<tspan font-size="5" dy="2">0</tspan><tspan dy="-2"> (×10</tspan><tspan font-size="5" dy="-3">3</tspan><tspan dy="3"> K)</tspan></text>
<text x="121.2" y="85.2" font-size="7.1" text-anchor="start" fill="#333" transform="rotate(-90 121.2 85.2)" >ln[ρ<tspan font-size="5" dy="2">0</tspan><tspan dy="-2"> (mΩ cm)]</tspan></text>
<line x1="148.36" y1="89.79" x2="233.95" y2="22.81" stroke="#111" stroke-width="0.9" />
<line x1="149.36" y1="89.79" x2="234.96" y2="22.29" stroke="#e8202a" stroke-width="0.8" />
<circle cx="155.41" cy="85.07" r="2.6" fill="#000"/>
<circle cx="160.44" cy="81.91" r="2.6" fill="#000"/>
<circle cx="165.48" cy="76.66" r="2.6" fill="#000"/>
<circle cx="177.56" cy="66.15" r="2.6" fill="#000"/>
<circle cx="213.81" cy="37.26" r="2.6" fill="#000"/>
<polygon points="160.44,79.96 163.44,85.16 157.44,85.16" fill="#f01010"/>
<polygon points="165.48,75.76 168.48,80.96 162.48,80.96" fill="#f01010"/>
<polygon points="173.53,68.93 176.53,74.13 170.53,74.13" fill="#f01010"/>
<polygon points="188.64,56.59 191.64,61.79 185.64,61.79" fill="#f01010"/>
<polygon points="226.90,25.85 229.90,31.05 223.90,31.05" fill="#f01010"/>
<circle cx="152.3" cy="29.3" r="3" fill="#000"/>
<text x="161.5" y="32.0" font-size="7.5" text-anchor="start" fill="#222" >H//c</text>
<polygon points="152.3,33.8 155.8,39.8 148.8,39.8" fill="#f01010"/>
<text x="161.5" y="40.0" font-size="7.5" text-anchor="start" fill="#222" >H//ab</text>
<g clip-path="url(#clipB)">
<polygon points="33.01,304.55 38.44,304.54 46.20,304.51 55.26,304.47 64.59,304.46 73.17,304.48 79.95,304.55 84.91,304.67 88.88,304.83 92.09,305.02 94.79,305.23 97.23,305.47 99.63,305.73 101.82,306.00 103.60,306.29 105.11,306.60 106.46,306.93 107.80,307.28 109.20,307.65 110.56,307.98 111.73,308.27 112.73,308.53 113.62,308.82 114.49,309.18 115.42,309.64 116.40,310.24 117.43,310.98 118.56,311.86 119.79,312.87 121.16,313.97 122.66,315.11 124.34,316.33 126.20,317.66 128.12,319.03 129.99,320.37 131.68,321.59 133.06,322.61 134.02,323.33 134.61,323.78 134.98,324.08 135.38,324.43 136.01,325.00 137.03,325.92 138.48,327.22 140.24,328.80 142.17,330.55 144.15,332.38 146.03,334.16 147.70,335.80 149.16,337.28 150.50,338.70 151.75,340.07 152.96,341.46 154.18,342.92 155.42,344.47 156.64,346.14 157.85,347.92 159.09,349.83 164.54,346.29 163.27,344.34 161.96,342.40 160.58,340.53 159.22,338.82 157.91,337.24 156.60,335.74 155.25,334.27 153.84,332.77 152.30,331.20 150.54,329.47 148.58,327.62 146.56,325.76 144.59,323.98 142.82,322.38 141.37,321.08 140.37,320.18 139.70,319.57 139.17,319.11 138.62,318.66 137.94,318.15 136.94,317.39 135.51,316.34 133.79,315.09 131.90,313.74 129.98,312.37 128.14,311.06 126.54,309.89 125.17,308.85 123.88,307.81 122.62,306.79 121.34,305.78 120.00,304.82 118.58,303.96 117.18,303.26 115.85,302.72 114.57,302.30 113.34,301.97 112.10,301.67 110.80,301.35 109.45,301.00 108.05,300.63 106.52,300.26 104.77,299.90 102.74,299.57 100.37,299.27 97.89,299.01 95.36,298.76 92.54,298.53 89.19,298.34 85.11,298.17 80.05,298.05 73.20,297.98 64.59,297.96 55.24,297.98 46.17,298.01 38.41,298.04 32.99,298.05" fill="#1a8c1a" fill-opacity="0.8"/>
<polygon points="33.00,298.05 36.25,301.30 33.00,304.55 29.75,301.30" fill="none" stroke="#2a962a" stroke-width="0.7"/>
<polygon points="33.80,298.05 37.05,301.30 33.80,304.55 30.55,301.30" fill="none" stroke="#2a962a" stroke-width="0.7"/>
<polygon points="34.60,298.05 37.85,301.30 34.60,304.55 31.35,301.30" fill="none" stroke="#2a962a" stroke-width="0.7"/>
<polygon points="35.41,298.05 38.66,301.30 35.41,304.55 32.16,301.30" fill="none" stroke="#2a962a" stroke-width="0.7"/>
<polygon points="36.23,298.04 39.48,301.29 36.23,304.54 32.98,301.29" fill="none" stroke="#2a962a" stroke-width="0.7"/>
<polygon points="37.05,298.04 40.30,301.29 37.05,304.54 33.80,301.29" fill="none" stroke="#2a962a" stroke-width="0.7"/>
<polygon points="37.87,298.04 41.12,301.29 37.87,304.54 34.62,301.29" fill="none" stroke="#2a962a" stroke-width="0.7"/>
<polygon points="38.70,298.03 41.95,301.28 38.70,304.53 35.45,301.28" fill="none" stroke="#2a962a" stroke-width="0.7"/>
<polygon points="39.54,298.03 42.79,301.28 39.54,304.53 36.29,301.28" fill="none" stroke="#2a962a" stroke-width="0.7"/>
<polygon points="40.37,298.03 43.62,301.28 40.37,304.53 37.12,301.28" fill="none" stroke="#2a962a" stroke-width="0.7"/>
<polygon points="41.22,298.03 44.47,301.28 41.22,304.53 37.97,301.28" fill="none" stroke="#2a962a" stroke-width="0.7"/>
<polygon points="42.07,298.02 45.32,301.27 42.07,304.52 38.82,301.27" fill="none" stroke="#2a962a" stroke-width="0.7"/>
<polygon points="42.92,298.02 46.17,301.27 42.92,304.52 39.67,301.27" fill="none" stroke="#2a962a" stroke-width="0.7"/>
<polygon points="43.78,298.02 47.03,301.27 43.78,304.52 40.53,301.27" fill="none" stroke="#2a962a" stroke-width="0.7"/>
<polygon points="44.65,298.01 47.90,301.26 44.65,304.51 41.40,301.26" fill="none" stroke="#2a962a" stroke-width="0.7"/>
<polygon points="45.52,298.01 48.77,301.26 45.52,304.51 42.27,301.26" fill="none" stroke="#2a962a" stroke-width="0.7"/>
<polygon points="46.39,298.00 49.64,301.25 46.39,304.50 43.14,301.25" fill="none" stroke="#2a962a" stroke-width="0.7"/>
<polygon points="47.27,298.00 50.52,301.25 47.27,304.50 44.02,301.25" fill="none" stroke="#2a962a" stroke-width="0.7"/>
<polygon points="48.16,298.00 51.41,301.25 48.16,304.50 44.91,301.25" fill="none" stroke="#2a962a" stroke-width="0.7"/>
<polygon points="49.05,297.99 52.30,301.24 49.05,304.49 45.80,301.24" fill="none" stroke="#2a962a" stroke-width="0.7"/>
<polygon points="49.94,297.99 53.19,301.24 49.94,304.49 46.69,301.24" fill="none" stroke="#2a962a" stroke-width="0.7"/>
<polygon points="50.84,297.99 54.09,301.24 50.84,304.49 47.59,301.24" fill="none" stroke="#2a962a" stroke-width="0.7"/>
<polygon points="51.75,297.99 55.00,301.24 51.75,304.49 48.50,301.24" fill="none" stroke="#2a962a" stroke-width="0.7"/>
<polygon points="52.66,297.98 55.91,301.23 52.66,304.48 49.41,301.23" fill="none" stroke="#2a962a" stroke-width="0.7"/>
<polygon points="53.58,297.98 56.83,301.23 53.58,304.48 50.33,301.23" fill="none" stroke="#2a962a" stroke-width="0.7"/>
<polygon points="54.50,297.98 57.75,301.23 54.50,304.48 51.25,301.23" fill="none" stroke="#2a962a" stroke-width="0.7"/>
<polygon points="55.43,297.97 58.68,301.22 55.43,304.47 52.18,301.22" fill="none" stroke="#2a962a" stroke-width="0.7"/>
<polygon points="56.37,297.97 59.62,301.22 56.37,304.47 53.12,301.22" fill="none" stroke="#2a962a" stroke-width="0.7"/>
<polygon points="57.31,297.97 60.56,301.22 57.31,304.47 54.06,301.22" fill="none" stroke="#2a962a" stroke-width="0.7"/>
<polygon points="58.25,297.97 61.50,301.22 58.25,304.47 55.00,301.22" fill="none" stroke="#2a962a" stroke-width="0.7"/>
<polygon points="59.20,297.97 62.45,301.22 59.20,304.47 55.95,301.22" fill="none" stroke="#2a962a" stroke-width="0.7"/>
<polygon points="60.16,297.97 63.41,301.22 60.16,304.47 56.91,301.22" fill="none" stroke="#2a962a" stroke-width="0.7"/>
<polygon points="61.12,297.96 64.37,301.21 61.12,304.46 57.87,301.21" fill="none" stroke="#2a962a" stroke-width="0.7"/>
<polygon points="62.09,297.96 65.34,301.21 62.09,304.46 58.84,301.21" fill="none" stroke="#2a962a" stroke-width="0.7"/>
<polygon points="63.06,297.96 66.31,301.21 63.06,304.46 59.81,301.21" fill="none" stroke="#2a962a" stroke-width="0.7"/>
<polygon points="64.04,297.96 67.29,301.21 64.04,304.46 60.79,301.21" fill="none" stroke="#2a962a" stroke-width="0.7"/>
<polygon points="65.03,297.96 68.28,301.21 65.03,304.46 61.78,301.21" fill="none" stroke="#2a962a" stroke-width="0.7"/>
<polygon points="66.02,297.96 69.27,301.21 66.02,304.46 62.77,301.21" fill="none" stroke="#2a962a" stroke-width="0.7"/>
<polygon points="67.02,297.96 70.27,301.21 67.02,304.46 63.77,301.21" fill="none" stroke="#2a962a" stroke-width="0.7"/>
<polygon points="68.02,297.96 71.27,301.21 68.02,304.46 64.77,301.21" fill="none" stroke="#2a962a" stroke-width="0.7"/>
<polygon points="69.03,297.97 72.28,301.22 69.03,304.47 65.78,301.22" fill="none" stroke="#2a962a" stroke-width="0.7"/>
<polygon points="70.05,297.97 73.30,301.22 70.05,304.47 66.80,301.22" fill="none" stroke="#2a962a" stroke-width="0.7"/>
<polygon points="71.07,297.97 74.32,301.22 71.07,304.47 67.82,301.22" fill="none" stroke="#2a962a" stroke-width="0.7"/>
<polygon points="72.10,297.98 75.35,301.23 72.10,304.48 68.85,301.23" fill="none" stroke="#2a962a" stroke-width="0.7"/>
<polygon points="73.13,297.98 76.38,301.23 73.13,304.48 69.88,301.23" fill="none" stroke="#2a962a" stroke-width="0.7"/>
<polygon points="74.17,297.99 77.42,301.24 74.17,304.49 70.92,301.24" fill="none" stroke="#2a962a" stroke-width="0.7"/>
<polygon points="75.22,297.99 78.47,301.24 75.22,304.49 71.97,301.24" fill="none" stroke="#2a962a" stroke-width="0.7"/>
<polygon points="76.27,298.00 79.52,301.25 76.27,304.50 73.02,301.25" fill="none" stroke="#2a962a" stroke-width="0.7"/>
<polygon points="77.33,298.01 80.58,301.26 77.33,304.51 74.08,301.26" fill="none" stroke="#2a962a" stroke-width="0.7"/>
<polygon points="78.39,298.03 81.64,301.28 78.39,304.53 75.14,301.28" fill="none" stroke="#2a962a" stroke-width="0.7"/>
<polygon points="79.47,298.04 82.72,301.29 79.47,304.54 76.22,301.29" fill="none" stroke="#2a962a" stroke-width="0.7"/>
<polygon points="80.54,298.06 83.79,301.31 80.54,304.56 77.29,301.31" fill="none" stroke="#2a962a" stroke-width="0.7"/>
<polygon points="81.63,298.08 84.88,301.33 81.63,304.58 78.38,301.33" fill="none" stroke="#2a962a" stroke-width="0.7"/>
<polygon points="82.72,298.11 85.97,301.36 82.72,304.61 79.47,301.36" fill="none" stroke="#2a962a" stroke-width="0.7"/>
<polygon points="83.82,298.14 87.07,301.39 83.82,304.64 80.57,301.39" fill="none" stroke="#2a962a" stroke-width="0.7"/>
<polygon points="84.92,298.17 88.17,301.42 84.92,304.67 81.67,301.42" fill="none" stroke="#2a962a" stroke-width="0.7"/>
<polygon points="86.03,298.21 89.28,301.46 86.03,304.71 82.78,301.46" fill="none" stroke="#2a962a" stroke-width="0.7"/>
<polygon points="87.15,298.25 90.40,301.50 87.15,304.75 83.90,301.50" fill="none" stroke="#2a962a" stroke-width="0.7"/>
<polygon points="88.27,298.30 91.52,301.55 88.27,304.80 85.02,301.55" fill="none" stroke="#2a962a" stroke-width="0.7"/>
<polygon points="89.40,298.35 92.65,301.60 89.40,304.85 86.15,301.60" fill="none" stroke="#2a962a" stroke-width="0.7"/>
<polygon points="90.53,298.41 93.78,301.66 90.53,304.91 87.28,301.66" fill="none" stroke="#2a962a" stroke-width="0.7"/>
<polygon points="91.68,298.48 94.93,301.73 91.68,304.98 88.43,301.73" fill="none" stroke="#2a962a" stroke-width="0.7"/>
<polygon points="92.82,298.56 96.07,301.81 92.82,305.06 89.57,301.81" fill="none" stroke="#2a962a" stroke-width="0.7"/>
<polygon points="93.98,298.65 97.23,301.90 93.98,305.15 90.73,301.90" fill="none" stroke="#2a962a" stroke-width="0.7"/>
<polygon points="95.14,298.75 98.39,302.00 95.14,305.25 91.89,302.00" fill="none" stroke="#2a962a" stroke-width="0.7"/>
<polygon points="96.31,298.86 99.56,302.11 96.31,305.36 93.06,302.11" fill="none" stroke="#2a962a" stroke-width="0.7"/>
<polygon points="97.48,298.98 100.73,302.23 97.48,305.48 94.23,302.23" fill="none" stroke="#2a962a" stroke-width="0.7"/>
<polygon points="98.66,299.11 101.91,302.36 98.66,305.61 95.41,302.36" fill="none" stroke="#2a962a" stroke-width="0.7"/>
<polygon points="99.84,299.23 103.09,302.48 99.84,305.73 96.59,302.48" fill="none" stroke="#2a962a" stroke-width="0.7"/>
<polygon points="101.04,299.37 104.29,302.62 101.04,305.87 97.79,302.62" fill="none" stroke="#2a962a" stroke-width="0.7"/>
<polygon points="102.23,299.53 105.48,302.78 102.23,306.03 98.98,302.78" fill="none" stroke="#2a962a" stroke-width="0.7"/>
<polygon points="103.43,299.71 106.68,302.96 103.43,306.21 100.18,302.96" fill="none" stroke="#2a962a" stroke-width="0.7"/>
<polygon points="104.63,299.93 107.88,303.18 104.63,306.43 101.38,303.18" fill="none" stroke="#2a962a" stroke-width="0.7"/>
<polygon points="105.84,300.19 109.09,303.44 105.84,306.69 102.59,303.44" fill="none" stroke="#2a962a" stroke-width="0.7"/>
<polygon points="107.04,300.48 110.29,303.73 107.04,306.98 103.79,303.73" fill="none" stroke="#2a962a" stroke-width="0.7"/>
<polygon points="108.24,300.79 111.49,304.04 108.24,307.29 104.99,304.04" fill="none" stroke="#2a962a" stroke-width="0.7"/>
<polygon points="109.45,301.11 112.70,304.36 109.45,307.61 106.20,304.36" fill="none" stroke="#2a962a" stroke-width="0.7"/>
<polygon points="110.67,301.42 113.92,304.67 110.67,307.92 107.42,304.67" fill="none" stroke="#2a962a" stroke-width="0.7"/>
<polygon points="111.90,301.71 115.15,304.96 111.90,308.21 108.65,304.96" fill="none" stroke="#2a962a" stroke-width="0.7"/>
<polygon points="113.13,302.02 116.38,305.27 113.13,308.52 109.88,305.27" fill="none" stroke="#2a962a" stroke-width="0.7"/>
<polygon points="114.36,302.39 117.61,305.64 114.36,308.89 111.11,305.64" fill="none" stroke="#2a962a" stroke-width="0.7"/>
<polygon points="115.56,302.85 118.81,306.10 115.56,309.35 112.31,306.10" fill="none" stroke="#2a962a" stroke-width="0.7"/>
<polygon points="116.73,303.40 119.98,306.65 116.73,309.90 113.48,306.65" fill="none" stroke="#2a962a" stroke-width="0.7"/>
<polygon points="117.85,304.06 121.10,307.31 117.85,310.56 114.60,307.31" fill="none" stroke="#2a962a" stroke-width="0.7"/>
<polygon points="118.93,304.79 122.18,308.04 118.93,311.29 115.68,308.04" fill="none" stroke="#2a962a" stroke-width="0.7"/>
<polygon points="119.98,305.59 123.23,308.84 119.98,312.09 116.73,308.84" fill="none" stroke="#2a962a" stroke-width="0.7"/>
<polygon points="121.01,306.41 124.26,309.66 121.01,312.91 117.76,309.66" fill="none" stroke="#2a962a" stroke-width="0.7"/>
<polygon points="122.04,307.25 125.29,310.50 122.04,313.75 118.79,310.50" fill="none" stroke="#2a962a" stroke-width="0.7"/>
<polygon points="123.08,308.09 126.33,311.34 123.08,314.59 119.83,311.34" fill="none" stroke="#2a962a" stroke-width="0.7"/>
<polygon points="124.14,308.90 127.39,312.15 124.14,315.40 120.89,312.15" fill="none" stroke="#2a962a" stroke-width="0.7"/>
<polygon points="125.22,309.70 128.47,312.95 125.22,316.20 121.97,312.95" fill="none" stroke="#2a962a" stroke-width="0.7"/>
<polygon points="126.31,310.49 129.56,313.74 126.31,316.99 123.06,313.74" fill="none" stroke="#2a962a" stroke-width="0.7"/>
<polygon points="127.42,311.28 130.67,314.53 127.42,317.78 124.17,314.53" fill="none" stroke="#2a962a" stroke-width="0.7"/>
<polygon points="128.53,312.08 131.78,315.33 128.53,318.58 125.28,315.33" fill="none" stroke="#2a962a" stroke-width="0.7"/>
<polygon points="129.64,312.88 132.89,316.13 129.64,319.38 126.39,316.13" fill="none" stroke="#2a962a" stroke-width="0.7"/>
<polygon points="130.77,313.68 134.02,316.93 130.77,320.18 127.52,316.93" fill="none" stroke="#2a962a" stroke-width="0.7"/>
<polygon points="131.89,314.48 135.14,317.73 131.89,320.98 128.64,317.73" fill="none" stroke="#2a962a" stroke-width="0.7"/>
<polygon points="133.02,315.30 136.27,318.55 133.02,321.80 129.77,318.55" fill="none" stroke="#2a962a" stroke-width="0.7"/>
<polygon points="134.15,316.12 137.40,319.37 134.15,322.62 130.90,319.37" fill="none" stroke="#2a962a" stroke-width="0.7"/>
<polygon points="135.28,316.96 138.53,320.21 135.28,323.46 132.03,320.21" fill="none" stroke="#2a962a" stroke-width="0.7"/>
<polygon points="136.40,317.81 139.65,321.06 136.40,324.31 133.15,321.06" fill="none" stroke="#2a962a" stroke-width="0.7"/>
<polygon points="137.50,318.71 140.75,321.96 137.50,325.21 134.25,321.96" fill="none" stroke="#2a962a" stroke-width="0.7"/>
<polygon points="138.56,319.67 141.81,322.92 138.56,326.17 135.31,322.92" fill="none" stroke="#2a962a" stroke-width="0.7"/>
<polygon points="139.62,320.63 142.87,323.88 139.62,327.13 136.37,323.88" fill="none" stroke="#2a962a" stroke-width="0.7"/>
<polygon points="140.69,321.59 143.94,324.84 140.69,328.09 137.44,324.84" fill="none" stroke="#2a962a" stroke-width="0.7"/>
<polygon points="141.76,322.55 145.01,325.80 141.76,329.05 138.51,325.80" fill="none" stroke="#2a962a" stroke-width="0.7"/>
<polygon points="142.84,323.52 146.09,326.77 142.84,330.02 139.59,326.77" fill="none" stroke="#2a962a" stroke-width="0.7"/>
<polygon points="143.92,324.50 147.17,327.75 143.92,331.00 140.67,327.75" fill="none" stroke="#2a962a" stroke-width="0.7"/>
<polygon points="145.00,325.49 148.25,328.74 145.00,331.99 141.75,328.74" fill="none" stroke="#2a962a" stroke-width="0.7"/>
<polygon points="146.08,326.49 149.33,329.74 146.08,332.99 142.83,329.74" fill="none" stroke="#2a962a" stroke-width="0.7"/>
<polygon points="147.16,327.50 150.41,330.75 147.16,334.00 143.91,330.75" fill="none" stroke="#2a962a" stroke-width="0.7"/>
<polygon points="148.23,328.52 151.48,331.77 148.23,335.02 144.98,331.77" fill="none" stroke="#2a962a" stroke-width="0.7"/>
<polygon points="149.30,329.56 152.55,332.81 149.30,336.06 146.05,332.81" fill="none" stroke="#2a962a" stroke-width="0.7"/>
<polygon points="150.36,330.61 153.62,333.86 150.36,337.12 147.10,333.86" fill="none" stroke="#2a962a" stroke-width="0.7"/>
<polygon points="151.42,331.67 154.70,334.96 151.42,338.24 148.14,334.96" fill="none" stroke="#2a962a" stroke-width="0.7"/>
<polygon points="152.52,332.80 155.83,336.11 152.52,339.41 149.22,336.11" fill="none" stroke="#2a962a" stroke-width="0.7"/>
<polygon points="153.66,334.00 156.99,337.33 153.66,340.66 150.33,337.33" fill="none" stroke="#2a962a" stroke-width="0.7"/>
<polygon points="154.82,335.28 158.17,338.64 154.82,341.99 151.46,338.64" fill="none" stroke="#2a962a" stroke-width="0.7"/>
<polygon points="156.00,336.64 159.38,340.02 156.00,343.40 152.62,340.02" fill="none" stroke="#2a962a" stroke-width="0.7"/>
<polygon points="157.20,338.08 160.61,341.49 157.20,344.90 153.80,341.49" fill="none" stroke="#2a962a" stroke-width="0.7"/>
<polygon points="158.42,339.62 161.86,343.05 158.42,346.49 154.99,343.05" fill="none" stroke="#2a962a" stroke-width="0.7"/>
<polygon points="159.62,341.27 163.08,344.73 159.62,348.19 156.16,344.73" fill="none" stroke="#2a962a" stroke-width="0.7"/>
<polygon points="160.81,343.03 164.29,346.51 160.81,350.00 157.32,346.51" fill="none" stroke="#2a962a" stroke-width="0.7"/>
<polygon points="162.02,344.86 165.53,348.37 162.02,351.89 158.50,348.37" fill="none" stroke="#2a962a" stroke-width="0.7"/>
<polygon points="163.28,346.75 166.82,350.29 163.28,353.83 159.74,350.29" fill="none" stroke="#2a962a" stroke-width="0.7"/>
<polygon points="164.66,348.68 168.23,352.25 164.66,355.82 161.09,352.25" fill="none" stroke="#2a962a" stroke-width="0.7"/>
<polygon points="163.24,351.59 166.84,355.19 163.24,358.79 159.64,355.19" fill="none" stroke="#2a962a" stroke-width="0.7"/>
<polygon points="170.01,349.10 173.61,352.70 170.01,356.30 166.41,352.70" fill="none" stroke="#2a962a" stroke-width="0.7"/>
<polygon points="170.11,357.79 173.71,361.39 170.11,364.99 166.51,361.39" fill="none" stroke="#2a962a" stroke-width="0.7"/>
<polygon points="170.27,352.99 173.87,356.59 170.27,360.19 166.67,356.59" fill="none" stroke="#2a962a" stroke-width="0.7"/>
<polygon points="177.30,358.12 180.90,361.72 177.30,365.32 173.70,361.72" fill="none" stroke="#2a962a" stroke-width="0.7"/>
<polygon points="177.99,362.67 181.59,366.27 177.99,369.87 174.39,366.27" fill="none" stroke="#2a962a" stroke-width="0.7"/>
<polygon points="177.31,367.12 180.91,370.72 177.31,374.32 173.71,370.72" fill="none" stroke="#2a962a" stroke-width="0.7"/>
<polygon points="183.90,362.13 187.50,365.73 183.90,369.33 180.30,365.73" fill="none" stroke="#2a962a" stroke-width="0.7"/>
<polygon points="179.39,371.08 182.99,374.68 179.39,378.28 175.79,374.68" fill="none" stroke="#2a962a" stroke-width="0.7"/>
<polygon points="185.30,366.31 188.90,369.91 185.30,373.51 181.70,369.91" fill="none" stroke="#2a962a" stroke-width="0.7"/>
<polygon points="191.98,374.14 195.58,377.74 191.98,381.34 188.38,377.74" fill="none" stroke="#2a962a" stroke-width="0.7"/>
<polygon points="193.22,372.21 196.82,375.81 193.22,379.41 189.62,375.81" fill="none" stroke="#2a962a" stroke-width="0.7"/>
<polygon points="33.01,304.30 40.39,304.29 51.12,304.26 63.57,304.22 76.11,304.21 87.12,304.23 94.95,304.30 99.25,304.42 101.13,304.56 99.98,303.88 99.84,299.84 98.68,302.68 100.80,305.25 101.87,305.60 102.41,305.81 102.85,306.01 103.25,306.23 103.68,306.52 104.18,306.88 104.68,307.28 105.13,307.68 105.58,308.13 106.05,308.65 106.58,309.30 107.19,310.08 107.85,311.01 108.57,312.08 109.33,313.26 110.13,314.54 110.96,315.91 111.83,317.34 112.75,318.88 113.73,320.53 114.73,322.24 115.72,323.98 116.66,325.69 117.51,327.34 118.25,328.89 118.92,330.41 119.55,331.96 120.21,333.59 120.94,335.34 121.76,337.23 122.70,339.27 123.71,341.45 124.77,343.71 125.84,345.99 126.89,348.21 127.90,350.30 128.85,352.27 129.77,354.17 130.68,356.01 131.57,357.81 132.44,359.58 133.31,361.33 134.17,363.06 135.01,364.75 140.38,362.07 139.54,360.39 138.69,358.67 137.82,356.92 136.94,355.15 136.06,353.36 135.16,351.53 134.24,349.65 133.30,347.70 132.31,345.62 131.26,343.42 130.20,341.16 129.15,338.92 128.15,336.76 127.24,334.77 126.46,332.99 125.77,331.32 125.11,329.69 124.44,328.07 123.71,326.40 122.89,324.66 121.96,322.87 120.96,321.05 119.93,319.24 118.90,317.48 117.90,315.81 116.97,314.26 116.09,312.80 115.23,311.39 114.40,310.04 113.58,308.78 112.78,307.60 112.01,306.52 111.29,305.57 110.60,304.73 109.92,303.99 109.24,303.31 108.54,302.69 107.82,302.12 107.10,301.59 106.36,301.11 105.57,300.66 104.73,300.27 103.82,299.93 103.20,299.75 104.61,301.80 104.01,304.15 104.27,299.67 101.90,298.61 99.51,298.42 95.05,298.30 87.15,298.23 76.11,298.21 63.56,298.23 51.10,298.26 40.37,298.29 32.99,298.30" fill="#e21ee2" fill-opacity="0.8"/>
<rect x="30.25" y="298.55" width="5.50" height="5.50" fill="none" stroke="#ec34ec" stroke-width="0.7"/>
<rect x="31.05" y="298.55" width="5.50" height="5.50" fill="none" stroke="#ec34ec" stroke-width="0.7"/>
<rect x="31.85" y="298.55" width="5.50" height="5.50" fill="none" stroke="#ec34ec" stroke-width="0.7"/>
<rect x="32.66" y="298.55" width="5.50" height="5.50" fill="none" stroke="#ec34ec" stroke-width="0.7"/>
<rect x="33.48" y="298.55" width="5.50" height="5.50" fill="none" stroke="#ec34ec" stroke-width="0.7"/>
<rect x="34.29" y="298.54" width="5.50" height="5.50" fill="none" stroke="#ec34ec" stroke-width="0.7"/>
<rect x="35.12" y="298.54" width="5.50" height="5.50" fill="none" stroke="#ec34ec" stroke-width="0.7"/>
<rect x="35.94" y="298.54" width="5.50" height="5.50" fill="none" stroke="#ec34ec" stroke-width="0.7"/>
<rect x="36.77" y="298.54" width="5.50" height="5.50" fill="none" stroke="#ec34ec" stroke-width="0.7"/>
<rect x="37.61" y="298.54" width="5.50" height="5.50" fill="none" stroke="#ec34ec" stroke-width="0.7"/>
<rect x="38.45" y="298.53" width="5.50" height="5.50" fill="none" stroke="#ec34ec" stroke-width="0.7"/>
<rect x="39.29" y="298.53" width="5.50" height="5.50" fill="none" stroke="#ec34ec" stroke-width="0.7"/>
<rect x="40.14" y="298.53" width="5.50" height="5.50" fill="none" stroke="#ec34ec" stroke-width="0.7"/>
<rect x="41.00" y="298.53" width="5.50" height="5.50" fill="none" stroke="#ec34ec" stroke-width="0.7"/>
<rect x="41.85" y="298.52" width="5.50" height="5.50" fill="none" stroke="#ec34ec" stroke-width="0.7"/>
<rect x="42.72" y="298.52" width="5.50" height="5.50" fill="none" stroke="#ec34ec" stroke-width="0.7"/>
<rect x="43.59" y="298.52" width="5.50" height="5.50" fill="none" stroke="#ec34ec" stroke-width="0.7"/>
<rect x="44.46" y="298.52" width="5.50" height="5.50" fill="none" stroke="#ec34ec" stroke-width="0.7"/>
<rect x="45.33" y="298.51" width="5.50" height="5.50" fill="none" stroke="#ec34ec" stroke-width="0.7"/>
<rect x="46.22" y="298.51" width="5.50" height="5.50" fill="none" stroke="#ec34ec" stroke-width="0.7"/>
<rect x="47.10" y="298.51" width="5.50" height="5.50" fill="none" stroke="#ec34ec" stroke-width="0.7"/>
<rect x="48.00" y="298.51" width="5.50" height="5.50" fill="none" stroke="#ec34ec" stroke-width="0.7"/>
<rect x="48.89" y="298.50" width="5.50" height="5.50" fill="none" stroke="#ec34ec" stroke-width="0.7"/>
<rect x="49.79" y="298.50" width="5.50" height="5.50" fill="none" stroke="#ec34ec" stroke-width="0.7"/>
<rect x="50.70" y="298.50" width="5.50" height="5.50" fill="none" stroke="#ec34ec" stroke-width="0.7"/>
<rect x="51.61" y="298.50" width="5.50" height="5.50" fill="none" stroke="#ec34ec" stroke-width="0.7"/>
<rect x="52.53" y="298.49" width="5.50" height="5.50" fill="none" stroke="#ec34ec" stroke-width="0.7"/>
<rect x="53.45" y="298.49" width="5.50" height="5.50" fill="none" stroke="#ec34ec" stroke-width="0.7"/>
<rect x="54.37" y="298.49" width="5.50" height="5.50" fill="none" stroke="#ec34ec" stroke-width="0.7"/>
<rect x="55.30" y="298.49" width="5.50" height="5.50" fill="none" stroke="#ec34ec" stroke-width="0.7"/>
<rect x="56.24" y="298.48" width="5.50" height="5.50" fill="none" stroke="#ec34ec" stroke-width="0.7"/>
<rect x="57.18" y="298.48" width="5.50" height="5.50" fill="none" stroke="#ec34ec" stroke-width="0.7"/>
<rect x="58.13" y="298.48" width="5.50" height="5.50" fill="none" stroke="#ec34ec" stroke-width="0.7"/>
<rect x="59.08" y="298.48" width="5.50" height="5.50" fill="none" stroke="#ec34ec" stroke-width="0.7"/>
<rect x="60.04" y="298.48" width="5.50" height="5.50" fill="none" stroke="#ec34ec" stroke-width="0.7"/>
<rect x="61.00" y="298.47" width="5.50" height="5.50" fill="none" stroke="#ec34ec" stroke-width="0.7"/>
<rect x="61.97" y="298.47" width="5.50" height="5.50" fill="none" stroke="#ec34ec" stroke-width="0.7"/>
<rect x="62.94" y="298.47" width="5.50" height="5.50" fill="none" stroke="#ec34ec" stroke-width="0.7"/>
<rect x="63.92" y="298.47" width="5.50" height="5.50" fill="none" stroke="#ec34ec" stroke-width="0.7"/>
<rect x="64.90" y="298.47" width="5.50" height="5.50" fill="none" stroke="#ec34ec" stroke-width="0.7"/>
<rect x="65.89" y="298.47" width="5.50" height="5.50" fill="none" stroke="#ec34ec" stroke-width="0.7"/>
<rect x="66.88" y="298.47" width="5.50" height="5.50" fill="none" stroke="#ec34ec" stroke-width="0.7"/>
<rect x="67.88" y="298.46" width="5.50" height="5.50" fill="none" stroke="#ec34ec" stroke-width="0.7"/>
<rect x="68.88" y="298.46" width="5.50" height="5.50" fill="none" stroke="#ec34ec" stroke-width="0.7"/>
<rect x="69.89" y="298.46" width="5.50" height="5.50" fill="none" stroke="#ec34ec" stroke-width="0.7"/>
<rect x="70.91" y="298.46" width="5.50" height="5.50" fill="none" stroke="#ec34ec" stroke-width="0.7"/>
<rect x="71.93" y="298.46" width="5.50" height="5.50" fill="none" stroke="#ec34ec" stroke-width="0.7"/>
<rect x="72.96" y="298.46" width="5.50" height="5.50" fill="none" stroke="#ec34ec" stroke-width="0.7"/>
<rect x="73.99" y="298.46" width="5.50" height="5.50" fill="none" stroke="#ec34ec" stroke-width="0.7"/>
<rect x="75.03" y="298.46" width="5.50" height="5.50" fill="none" stroke="#ec34ec" stroke-width="0.7"/>
<rect x="76.07" y="298.46" width="5.50" height="5.50" fill="none" stroke="#ec34ec" stroke-width="0.7"/>
<rect x="77.12" y="298.46" width="5.50" height="5.50" fill="none" stroke="#ec34ec" stroke-width="0.7"/>
<rect x="78.17" y="298.46" width="5.50" height="5.50" fill="none" stroke="#ec34ec" stroke-width="0.7"/>
<rect x="79.23" y="298.47" width="5.50" height="5.50" fill="none" stroke="#ec34ec" stroke-width="0.7"/>
<rect x="80.30" y="298.47" width="5.50" height="5.50" fill="none" stroke="#ec34ec" stroke-width="0.7"/>
<rect x="81.37" y="298.47" width="5.50" height="5.50" fill="none" stroke="#ec34ec" stroke-width="0.7"/>
<rect x="82.45" y="298.47" width="5.50" height="5.50" fill="none" stroke="#ec34ec" stroke-width="0.7"/>
<rect x="83.53" y="298.48" width="5.50" height="5.50" fill="none" stroke="#ec34ec" stroke-width="0.7"/>
<rect x="84.62" y="298.48" width="5.50" height="5.50" fill="none" stroke="#ec34ec" stroke-width="0.7"/>
<rect x="85.72" y="298.49" width="5.50" height="5.50" fill="none" stroke="#ec34ec" stroke-width="0.7"/>
<rect x="86.82" y="298.49" width="5.50" height="5.50" fill="none" stroke="#ec34ec" stroke-width="0.7"/>
<rect x="87.93" y="298.50" width="5.50" height="5.50" fill="none" stroke="#ec34ec" stroke-width="0.7"/>
<rect x="89.04" y="298.51" width="5.50" height="5.50" fill="none" stroke="#ec34ec" stroke-width="0.7"/>
<rect x="90.16" y="298.52" width="5.50" height="5.50" fill="none" stroke="#ec34ec" stroke-width="0.7"/>
<rect x="91.29" y="298.54" width="5.50" height="5.50" fill="none" stroke="#ec34ec" stroke-width="0.7"/>
<rect x="92.42" y="298.55" width="5.50" height="5.50" fill="none" stroke="#ec34ec" stroke-width="0.7"/>
<rect x="93.56" y="298.58" width="5.50" height="5.50" fill="none" stroke="#ec34ec" stroke-width="0.7"/>
<rect x="94.70" y="298.61" width="5.50" height="5.50" fill="none" stroke="#ec34ec" stroke-width="0.7"/>
<rect x="95.85" y="298.64" width="5.50" height="5.50" fill="none" stroke="#ec34ec" stroke-width="0.7"/>
<rect x="97.00" y="298.69" width="5.50" height="5.50" fill="none" stroke="#ec34ec" stroke-width="0.7"/>
<rect x="98.16" y="298.77" width="5.50" height="5.50" fill="none" stroke="#ec34ec" stroke-width="0.7"/>
<rect x="99.31" y="298.97" width="5.50" height="5.50" fill="none" stroke="#ec34ec" stroke-width="0.7"/>
<rect x="99.18" y="299.72" width="5.50" height="5.50" fill="none" stroke="#ec34ec" stroke-width="0.7"/>
<rect x="100.30" y="300.09" width="5.50" height="5.50" fill="none" stroke="#ec34ec" stroke-width="0.7"/>
<rect x="101.38" y="300.55" width="5.50" height="5.50" fill="none" stroke="#ec34ec" stroke-width="0.7"/>
<rect x="102.41" y="301.14" width="5.50" height="5.50" fill="none" stroke="#ec34ec" stroke-width="0.7"/>
<rect x="103.37" y="301.85" width="5.50" height="5.50" fill="none" stroke="#ec34ec" stroke-width="0.7"/>
<rect x="104.29" y="302.61" width="5.50" height="5.50" fill="none" stroke="#ec34ec" stroke-width="0.7"/>
<rect x="105.14" y="303.46" width="5.50" height="5.50" fill="none" stroke="#ec34ec" stroke-width="0.7"/>
<rect x="105.94" y="304.37" width="5.50" height="5.50" fill="none" stroke="#ec34ec" stroke-width="0.7"/>
<rect x="106.68" y="305.33" width="5.50" height="5.50" fill="none" stroke="#ec34ec" stroke-width="0.7"/>
<rect x="107.40" y="306.31" width="5.50" height="5.50" fill="none" stroke="#ec34ec" stroke-width="0.7"/>
<rect x="108.08" y="307.31" width="5.50" height="5.50" fill="none" stroke="#ec34ec" stroke-width="0.7"/>
<rect x="108.75" y="308.34" width="5.50" height="5.50" fill="none" stroke="#ec34ec" stroke-width="0.7"/>
<rect x="109.41" y="309.37" width="5.50" height="5.50" fill="none" stroke="#ec34ec" stroke-width="0.7"/>
<rect x="110.06" y="310.42" width="5.50" height="5.50" fill="none" stroke="#ec34ec" stroke-width="0.7"/>
<rect x="110.70" y="311.47" width="5.50" height="5.50" fill="none" stroke="#ec34ec" stroke-width="0.7"/>
<rect x="111.34" y="312.53" width="5.50" height="5.50" fill="none" stroke="#ec34ec" stroke-width="0.7"/>
<rect x="111.98" y="313.60" width="5.50" height="5.50" fill="none" stroke="#ec34ec" stroke-width="0.7"/>
<rect x="112.62" y="314.66" width="5.50" height="5.50" fill="none" stroke="#ec34ec" stroke-width="0.7"/>
<rect x="113.26" y="315.74" width="5.50" height="5.50" fill="none" stroke="#ec34ec" stroke-width="0.7"/>
<rect x="113.89" y="316.81" width="5.50" height="5.50" fill="none" stroke="#ec34ec" stroke-width="0.7"/>
<rect x="114.52" y="317.90" width="5.50" height="5.50" fill="none" stroke="#ec34ec" stroke-width="0.7"/>
<rect x="115.15" y="318.99" width="5.50" height="5.50" fill="none" stroke="#ec34ec" stroke-width="0.7"/>
<rect x="115.77" y="320.09" width="5.50" height="5.50" fill="none" stroke="#ec34ec" stroke-width="0.7"/>
<rect x="116.38" y="321.20" width="5.50" height="5.50" fill="none" stroke="#ec34ec" stroke-width="0.7"/>
<rect x="116.97" y="322.32" width="5.50" height="5.50" fill="none" stroke="#ec34ec" stroke-width="0.7"/>
<rect x="117.55" y="323.45" width="5.50" height="5.50" fill="none" stroke="#ec34ec" stroke-width="0.7"/>
<rect x="118.10" y="324.60" width="5.50" height="5.50" fill="none" stroke="#ec34ec" stroke-width="0.7"/>
<rect x="118.62" y="325.77" width="5.50" height="5.50" fill="none" stroke="#ec34ec" stroke-width="0.7"/>
<rect x="119.12" y="326.94" width="5.50" height="5.50" fill="none" stroke="#ec34ec" stroke-width="0.7"/>
<rect x="119.60" y="328.13" width="5.50" height="5.50" fill="none" stroke="#ec34ec" stroke-width="0.7"/>
<rect x="120.09" y="329.32" width="5.50" height="5.50" fill="none" stroke="#ec34ec" stroke-width="0.7"/>
<rect x="120.57" y="330.52" width="5.50" height="5.50" fill="none" stroke="#ec34ec" stroke-width="0.7"/>
<rect x="121.07" y="331.71" width="5.50" height="5.50" fill="none" stroke="#ec34ec" stroke-width="0.7"/>
<rect x="121.59" y="332.89" width="5.50" height="5.50" fill="none" stroke="#ec34ec" stroke-width="0.7"/>
<rect x="122.12" y="334.07" width="5.50" height="5.50" fill="none" stroke="#ec34ec" stroke-width="0.7"/>
<rect x="122.67" y="335.25" width="5.50" height="5.50" fill="none" stroke="#ec34ec" stroke-width="0.7"/>
<rect x="123.23" y="336.47" width="5.50" height="5.50" fill="none" stroke="#ec34ec" stroke-width="0.7"/>
<rect x="123.82" y="337.74" width="5.50" height="5.50" fill="none" stroke="#ec34ec" stroke-width="0.7"/>
<rect x="124.44" y="339.06" width="5.50" height="5.50" fill="none" stroke="#ec34ec" stroke-width="0.7"/>
<rect x="125.08" y="340.43" width="5.50" height="5.50" fill="none" stroke="#ec34ec" stroke-width="0.7"/>
<rect x="125.76" y="341.86" width="5.50" height="5.50" fill="none" stroke="#ec34ec" stroke-width="0.7"/>
<rect x="126.47" y="343.36" width="5.50" height="5.50" fill="none" stroke="#ec34ec" stroke-width="0.7"/>
<rect x="127.21" y="344.91" width="5.50" height="5.50" fill="none" stroke="#ec34ec" stroke-width="0.7"/>
<rect x="127.98" y="346.53" width="5.50" height="5.50" fill="none" stroke="#ec34ec" stroke-width="0.7"/>
<rect x="128.80" y="348.22" width="5.50" height="5.50" fill="none" stroke="#ec34ec" stroke-width="0.7"/>
<rect x="129.65" y="349.97" width="5.50" height="5.50" fill="none" stroke="#ec34ec" stroke-width="0.7"/>
<rect x="130.55" y="351.81" width="5.50" height="5.50" fill="none" stroke="#ec34ec" stroke-width="0.7"/>
<rect x="131.50" y="353.72" width="5.50" height="5.50" fill="none" stroke="#ec34ec" stroke-width="0.7"/>
<rect x="132.49" y="355.71" width="5.50" height="5.50" fill="none" stroke="#ec34ec" stroke-width="0.7"/>
<rect x="133.52" y="357.79" width="5.50" height="5.50" fill="none" stroke="#ec34ec" stroke-width="0.7"/>
<rect x="134.60" y="359.96" width="5.50" height="5.50" fill="none" stroke="#ec34ec" stroke-width="0.7"/>
<rect x="135.73" y="362.23" width="5.50" height="5.50" fill="none" stroke="#ec34ec" stroke-width="0.7"/>
<rect x="136.77" y="364.46" width="5.50" height="5.50" fill="none" stroke="#ec34ec" stroke-width="0.7"/>
<rect x="139.50" y="367.74" width="5.50" height="5.50" fill="none" stroke="#ec34ec" stroke-width="0.7"/>
<rect x="140.34" y="368.34" width="5.50" height="5.50" fill="none" stroke="#ec34ec" stroke-width="0.7"/>
<rect x="140.39" y="372.34" width="5.50" height="5.50" fill="none" stroke="#ec34ec" stroke-width="0.7"/>
<rect x="141.81" y="373.49" width="5.50" height="5.50" fill="none" stroke="#ec34ec" stroke-width="0.7"/>
<rect x="142.93" y="376.99" width="5.50" height="5.50" fill="none" stroke="#ec34ec" stroke-width="0.7"/>
<polygon points="33.00,302.55 38.60,302.54 46.74,302.52 56.19,302.51 65.70,302.50 74.05,302.51 79.99,302.55 83.25,302.60 84.72,302.66 84.20,302.26 84.33,300.53 83.47,301.89 84.43,303.11 85.22,303.43 85.81,303.73 86.39,304.07 86.97,304.46 87.56,304.92 88.18,305.44 88.82,306.02 89.47,306.64 90.11,307.31 90.74,308.04 91.36,308.82 91.95,309.69 92.54,310.63 93.12,311.67 93.69,312.77 94.25,313.95 94.80,315.18 95.34,316.47 95.86,317.80 96.35,319.22 96.84,320.70 97.33,322.23 97.81,323.79 98.31,325.37 98.81,326.96 99.31,328.56 99.80,330.18 100.30,331.83 100.80,333.55 101.29,335.33 101.80,337.21 102.31,339.20 102.82,341.24 103.32,343.30 105.75,342.70 105.24,340.64 104.73,338.58 104.22,336.58 103.71,334.67 103.20,332.86 102.70,331.13 102.20,329.45 101.69,327.82 101.19,326.21 100.69,324.63 100.20,323.05 99.71,321.48 99.22,319.93 98.72,318.41 98.20,316.94 97.66,315.53 97.10,314.19 96.52,312.90 95.93,311.66 95.32,310.48 94.69,309.36 94.05,308.31 93.37,307.34 92.67,306.45 91.95,305.63 91.24,304.88 90.52,304.19 89.82,303.56 89.13,302.97 88.44,302.44 87.73,301.96 87.00,301.53 86.23,301.15 85.57,300.89 85.96,301.65 85.59,302.69 86.18,300.73 84.91,300.17 83.31,300.11 80.01,300.05 74.06,300.01 65.70,300.00 56.19,300.01 46.74,300.02 38.60,300.04 33.00,300.05" fill="#2626c8" fill-opacity="0.4"/>
<polygon points="33.00,298.80 35.50,303.30 30.50,303.30" fill="none" stroke="#4646dc" stroke-width="0.7"/>
<polygon points="33.80,298.80 36.30,303.30 31.30,303.30" fill="none" stroke="#4646dc" stroke-width="0.7"/>
<polygon points="34.61,298.80 37.11,303.30 32.11,303.30" fill="none" stroke="#4646dc" stroke-width="0.7"/>
<polygon points="35.42,298.80 37.92,303.30 32.92,303.30" fill="none" stroke="#4646dc" stroke-width="0.7"/>
<polygon points="36.25,298.80 38.75,303.30 33.75,303.30" fill="none" stroke="#4646dc" stroke-width="0.7"/>
<polygon points="37.08,298.79 39.58,303.29 34.58,303.29" fill="none" stroke="#4646dc" stroke-width="0.7"/>
<polygon points="37.92,298.79 40.42,303.29 35.42,303.29" fill="none" stroke="#4646dc" stroke-width="0.7"/>
<polygon points="38.77,298.79 41.27,303.29 36.27,303.29" fill="none" stroke="#4646dc" stroke-width="0.7"/>
<polygon points="39.62,298.79 42.12,303.29 37.12,303.29" fill="none" stroke="#4646dc" stroke-width="0.7"/>
<polygon points="40.49,298.79 42.99,303.29 37.99,303.29" fill="none" stroke="#4646dc" stroke-width="0.7"/>
<polygon points="41.36,298.79 43.86,303.29 38.86,303.29" fill="none" stroke="#4646dc" stroke-width="0.7"/>
<polygon points="42.24,298.78 44.74,303.28 39.74,303.28" fill="none" stroke="#4646dc" stroke-width="0.7"/>
<polygon points="43.13,298.78 45.63,303.28 40.63,303.28" fill="none" stroke="#4646dc" stroke-width="0.7"/>
<polygon points="44.03,298.78 46.53,303.28 41.53,303.28" fill="none" stroke="#4646dc" stroke-width="0.7"/>
<polygon points="44.93,298.78 47.43,303.28 42.43,303.28" fill="none" stroke="#4646dc" stroke-width="0.7"/>
<polygon points="45.85,298.78 48.35,303.28 43.35,303.28" fill="none" stroke="#4646dc" stroke-width="0.7"/>
<polygon points="46.77,298.77 49.27,303.27 44.27,303.27" fill="none" stroke="#4646dc" stroke-width="0.7"/>
<polygon points="47.71,298.77 50.21,303.27 45.21,303.27" fill="none" stroke="#4646dc" stroke-width="0.7"/>
<polygon points="48.65,298.77 51.15,303.27 46.15,303.27" fill="none" stroke="#4646dc" stroke-width="0.7"/>
<polygon points="49.60,298.77 52.10,303.27 47.10,303.27" fill="none" stroke="#4646dc" stroke-width="0.7"/>
<polygon points="50.56,298.77 53.06,303.27 48.06,303.27" fill="none" stroke="#4646dc" stroke-width="0.7"/>
<polygon points="51.53,298.76 54.03,303.26 49.03,303.26" fill="none" stroke="#4646dc" stroke-width="0.7"/>
<polygon points="52.51,298.76 55.01,303.26 50.01,303.26" fill="none" stroke="#4646dc" stroke-width="0.7"/>
<polygon points="53.50,298.76 56.00,303.26 51.00,303.26" fill="none" stroke="#4646dc" stroke-width="0.7"/>
<polygon points="54.50,298.76 57.00,303.26 52.00,303.26" fill="none" stroke="#4646dc" stroke-width="0.7"/>
<polygon points="55.50,298.76 58.00,303.26 53.00,303.26" fill="none" stroke="#4646dc" stroke-width="0.7"/>
<polygon points="56.52,298.76 59.02,303.26 54.02,303.26" fill="none" stroke="#4646dc" stroke-width="0.7"/>
<polygon points="57.55,298.75 60.05,303.25 55.05,303.25" fill="none" stroke="#4646dc" stroke-width="0.7"/>
<polygon points="58.59,298.75 61.09,303.25 56.09,303.25" fill="none" stroke="#4646dc" stroke-width="0.7"/>
<polygon points="59.64,298.75 62.14,303.25 57.14,303.25" fill="none" stroke="#4646dc" stroke-width="0.7"/>
<polygon points="60.69,298.75 63.19,303.25 58.19,303.25" fill="none" stroke="#4646dc" stroke-width="0.7"/>
<polygon points="61.76,298.75 64.26,303.25 59.26,303.25" fill="none" stroke="#4646dc" stroke-width="0.7"/>
<polygon points="62.84,298.75 65.34,303.25 60.34,303.25" fill="none" stroke="#4646dc" stroke-width="0.7"/>
<polygon points="63.93,298.75 66.43,303.25 61.43,303.25" fill="none" stroke="#4646dc" stroke-width="0.7"/>
<polygon points="65.03,298.75 67.53,303.25 62.53,303.25" fill="none" stroke="#4646dc" stroke-width="0.7"/>
<polygon points="66.14,298.75 68.64,303.25 63.64,303.25" fill="none" stroke="#4646dc" stroke-width="0.7"/>
<polygon points="67.26,298.75 69.76,303.25 64.76,303.25" fill="none" stroke="#4646dc" stroke-width="0.7"/>
<polygon points="68.39,298.75 70.89,303.25 65.89,303.25" fill="none" stroke="#4646dc" stroke-width="0.7"/>
<polygon points="69.53,298.75 72.03,303.25 67.03,303.25" fill="none" stroke="#4646dc" stroke-width="0.7"/>
<polygon points="70.69,298.75 73.19,303.25 68.19,303.25" fill="none" stroke="#4646dc" stroke-width="0.7"/>
<polygon points="71.85,298.75 74.35,303.25 69.35,303.25" fill="none" stroke="#4646dc" stroke-width="0.7"/>
<polygon points="73.03,298.76 75.53,303.26 70.53,303.26" fill="none" stroke="#4646dc" stroke-width="0.7"/>
<polygon points="74.21,298.76 76.71,303.26 71.71,303.26" fill="none" stroke="#4646dc" stroke-width="0.7"/>
<polygon points="75.41,298.77 77.91,303.27 72.91,303.27" fill="none" stroke="#4646dc" stroke-width="0.7"/>
<polygon points="76.62,298.77 79.12,303.27 74.12,303.27" fill="none" stroke="#4646dc" stroke-width="0.7"/>
<polygon points="77.84,298.78 80.34,303.28 75.34,303.28" fill="none" stroke="#4646dc" stroke-width="0.7"/>
<polygon points="79.08,298.79 81.58,303.29 76.58,303.29" fill="none" stroke="#4646dc" stroke-width="0.7"/>
<polygon points="80.32,298.80 82.82,303.30 77.82,303.30" fill="none" stroke="#4646dc" stroke-width="0.7"/>
<polygon points="81.58,298.82 84.08,303.32 79.08,303.32" fill="none" stroke="#4646dc" stroke-width="0.7"/>
<polygon points="82.85,298.85 85.35,303.35 80.35,303.35" fill="none" stroke="#4646dc" stroke-width="0.7"/>
<polygon points="84.13,298.88 86.63,303.38 81.63,303.38" fill="none" stroke="#4646dc" stroke-width="0.7"/>
<polygon points="84.99,299.10 87.49,303.60 82.49,303.60" fill="none" stroke="#4646dc" stroke-width="0.7"/>
<polygon points="85.54,299.71 88.04,304.21 83.04,304.21" fill="none" stroke="#4646dc" stroke-width="0.7"/>
<polygon points="86.70,300.29 89.20,304.79 84.20,304.79" fill="none" stroke="#4646dc" stroke-width="0.7"/>
<polygon points="87.80,301.02 90.30,305.52 85.30,305.52" fill="none" stroke="#4646dc" stroke-width="0.7"/>
<polygon points="88.84,301.86 91.34,306.36 86.34,306.36" fill="none" stroke="#4646dc" stroke-width="0.7"/>
<polygon points="89.83,302.76 92.33,307.26 87.33,307.26" fill="none" stroke="#4646dc" stroke-width="0.7"/>
<polygon points="90.79,303.71 93.29,308.21 88.29,308.21" fill="none" stroke="#4646dc" stroke-width="0.7"/>
<polygon points="91.69,304.73 94.19,309.23 89.19,309.23" fill="none" stroke="#4646dc" stroke-width="0.7"/>
<polygon points="92.53,305.81 95.03,310.31 90.03,310.31" fill="none" stroke="#4646dc" stroke-width="0.7"/>
<polygon points="93.29,306.95 95.79,311.45 90.79,311.45" fill="none" stroke="#4646dc" stroke-width="0.7"/>
<polygon points="93.99,308.15 96.49,312.65 91.49,312.65" fill="none" stroke="#4646dc" stroke-width="0.7"/>
<polygon points="94.64,309.38 97.14,313.88 92.14,313.88" fill="none" stroke="#4646dc" stroke-width="0.7"/>
<polygon points="95.25,310.63 97.75,315.13 92.75,315.13" fill="none" stroke="#4646dc" stroke-width="0.7"/>
<polygon points="95.84,311.93 98.34,316.43 93.34,316.43" fill="none" stroke="#4646dc" stroke-width="0.7"/>
<polygon points="96.41,313.29 98.91,317.79 93.91,317.79" fill="none" stroke="#4646dc" stroke-width="0.7"/>
<polygon points="96.97,314.71 99.47,319.21 94.47,319.21" fill="none" stroke="#4646dc" stroke-width="0.7"/>
<polygon points="97.50,316.20 100.00,320.70 95.00,320.70" fill="none" stroke="#4646dc" stroke-width="0.7"/>
<polygon points="98.01,317.75 100.51,322.25 95.51,322.25" fill="none" stroke="#4646dc" stroke-width="0.7"/>
<polygon points="98.52,319.35 101.02,323.85 96.02,323.85" fill="none" stroke="#4646dc" stroke-width="0.7"/>
<polygon points="99.03,321.00 101.53,325.50 96.53,325.50" fill="none" stroke="#4646dc" stroke-width="0.7"/>
<polygon points="99.56,322.69 102.06,327.19 97.06,327.19" fill="none" stroke="#4646dc" stroke-width="0.7"/>
<polygon points="100.11,324.43 102.61,328.93 97.61,328.93" fill="none" stroke="#4646dc" stroke-width="0.7"/>
<polygon points="100.66,326.21 103.16,330.71 98.16,330.71" fill="none" stroke="#4646dc" stroke-width="0.7"/>
<polygon points="101.22,328.05 103.72,332.55 98.72,332.55" fill="none" stroke="#4646dc" stroke-width="0.7"/>
<polygon points="101.78,329.95 104.28,334.45 99.28,334.45" fill="none" stroke="#4646dc" stroke-width="0.7"/>
<polygon points="102.33,331.90 104.83,336.40 99.83,336.40" fill="none" stroke="#4646dc" stroke-width="0.7"/>
<polygon points="102.88,333.90 105.38,338.40 100.38,338.40" fill="none" stroke="#4646dc" stroke-width="0.7"/>
<polygon points="103.41,335.96 105.91,340.46 100.91,340.46" fill="none" stroke="#4646dc" stroke-width="0.7"/>
<polygon points="103.94,338.07 106.44,342.57 101.44,342.57" fill="none" stroke="#4646dc" stroke-width="0.7"/>
<polygon points="104.47,340.23 106.97,344.73 101.97,344.73" fill="none" stroke="#4646dc" stroke-width="0.7"/>
<polygon points="105.01,342.44 107.51,346.94 102.51,346.94" fill="none" stroke="#4646dc" stroke-width="0.7"/>
<polygon points="105.55,344.70 108.05,349.20 103.05,349.20" fill="none" stroke="#4646dc" stroke-width="0.7"/>
<polygon points="106.09,347.01 108.59,351.51 103.59,351.51" fill="none" stroke="#4646dc" stroke-width="0.7"/>
<polygon points="106.64,349.37 109.14,353.87 104.14,353.87" fill="none" stroke="#4646dc" stroke-width="0.7"/>
<polygon points="107.18,351.79 109.68,356.29 104.68,356.29" fill="none" stroke="#4646dc" stroke-width="0.7"/>
<polygon points="107.73,354.25 110.23,358.75 105.23,358.75" fill="none" stroke="#4646dc" stroke-width="0.7"/>
<polygon points="108.28,356.77 110.78,361.27 105.78,361.27" fill="none" stroke="#4646dc" stroke-width="0.7"/>
<polygon points="108.83,359.31 111.33,363.81 106.33,363.81" fill="none" stroke="#4646dc" stroke-width="0.7"/>
<polygon points="109.37,361.85 111.87,366.35 106.87,366.35" fill="none" stroke="#4646dc" stroke-width="0.7"/>
<polygon points="109.90,364.40 112.40,368.90 107.40,368.90" fill="none" stroke="#4646dc" stroke-width="0.7"/>
<polygon points="110.40,366.95 112.90,371.45 107.90,371.45" fill="none" stroke="#4646dc" stroke-width="0.7"/>
<polygon points="110.84,369.51 113.34,374.01 108.34,374.01" fill="none" stroke="#4646dc" stroke-width="0.7"/>
<polygon points="111.24,372.08 113.74,376.58 108.74,376.58" fill="none" stroke="#4646dc" stroke-width="0.7"/>
<polygon points="111.60,374.66 114.10,379.16 109.10,379.16" fill="none" stroke="#4646dc" stroke-width="0.7"/>
<polygon points="111.96,377.23 114.46,381.73 109.46,381.73" fill="none" stroke="#4646dc" stroke-width="0.7"/>
<polygon points="33.01,302.55 36.20,302.54 40.82,302.51 46.19,302.47 51.63,302.46 56.45,302.48 59.96,302.55 62.03,302.65 63.14,302.76 63.47,302.84 63.40,302.83 63.70,303.13 64.35,303.57 65.06,303.98 65.67,304.40 66.27,304.89 66.85,305.44 67.43,306.07 68.02,306.78 68.60,307.54 69.16,308.35 69.70,309.23 70.25,310.20 70.80,311.28 71.36,312.50 71.93,313.87 72.52,315.37 73.10,316.98 73.68,318.69 74.25,320.48 74.80,322.34 75.32,324.30 75.84,326.40 76.34,328.59 76.83,330.82 77.31,333.06 77.78,335.25 78.22,337.42 78.64,339.61 81.10,339.13 80.67,336.93 80.22,334.75 79.76,332.54 79.28,330.29 78.78,328.04 78.27,325.82 77.75,323.68 77.20,321.66 76.64,319.75 76.06,317.91 75.46,316.15 74.85,314.48 74.25,312.93 73.64,311.50 73.05,310.20 72.46,309.02 71.86,307.96 71.25,306.98 70.63,306.08 69.98,305.22 69.31,304.42 68.63,303.68 67.92,303.01 67.18,302.41 66.40,301.87 65.65,301.43 65.25,301.17 65.04,300.94 64.41,300.52 63.52,300.29 62.20,300.16 60.04,300.05 56.47,299.98 51.63,299.96 46.18,299.98 40.81,300.01 36.19,300.04 32.99,300.05" fill="#e8202a" fill-opacity="0.4"/>
<circle cx="33.00" cy="301.30" r="2.40" fill="none" stroke="#f03a3a" stroke-width="0.7"/>
<circle cx="33.80" cy="301.30" r="2.40" fill="none" stroke="#f03a3a" stroke-width="0.7"/>
<circle cx="34.61" cy="301.29" r="2.40" fill="none" stroke="#f03a3a" stroke-width="0.7"/>
<circle cx="35.43" cy="301.29" r="2.40" fill="none" stroke="#f03a3a" stroke-width="0.7"/>
<circle cx="36.27" cy="301.29" r="2.40" fill="none" stroke="#f03a3a" stroke-width="0.7"/>
<circle cx="37.12" cy="301.28" r="2.40" fill="none" stroke="#f03a3a" stroke-width="0.7"/>
<circle cx="37.97" cy="301.27" r="2.40" fill="none" stroke="#f03a3a" stroke-width="0.7"/>
<circle cx="38.85" cy="301.27" r="2.40" fill="none" stroke="#f03a3a" stroke-width="0.7"/>
<circle cx="39.73" cy="301.26" r="2.40" fill="none" stroke="#f03a3a" stroke-width="0.7"/>
<circle cx="40.63" cy="301.26" r="2.40" fill="none" stroke="#f03a3a" stroke-width="0.7"/>
<circle cx="41.53" cy="301.25" r="2.40" fill="none" stroke="#f03a3a" stroke-width="0.7"/>
<circle cx="42.46" cy="301.25" r="2.40" fill="none" stroke="#f03a3a" stroke-width="0.7"/>
<circle cx="43.39" cy="301.24" r="2.40" fill="none" stroke="#f03a3a" stroke-width="0.7"/>
<circle cx="44.34" cy="301.23" r="2.40" fill="none" stroke="#f03a3a" stroke-width="0.7"/>
<circle cx="45.30" cy="301.23" r="2.40" fill="none" stroke="#f03a3a" stroke-width="0.7"/>
<circle cx="46.28" cy="301.22" r="2.40" fill="none" stroke="#f03a3a" stroke-width="0.7"/>
<circle cx="47.27" cy="301.22" r="2.40" fill="none" stroke="#f03a3a" stroke-width="0.7"/>
<circle cx="48.27" cy="301.22" r="2.40" fill="none" stroke="#f03a3a" stroke-width="0.7"/>
<circle cx="49.29" cy="301.21" r="2.40" fill="none" stroke="#f03a3a" stroke-width="0.7"/>
<circle cx="50.32" cy="301.21" r="2.40" fill="none" stroke="#f03a3a" stroke-width="0.7"/>
<circle cx="51.37" cy="301.21" r="2.40" fill="none" stroke="#f03a3a" stroke-width="0.7"/>
<circle cx="52.43" cy="301.21" r="2.40" fill="none" stroke="#f03a3a" stroke-width="0.7"/>
<circle cx="53.51" cy="301.21" r="2.40" fill="none" stroke="#f03a3a" stroke-width="0.7"/>
<circle cx="54.60" cy="301.22" r="2.40" fill="none" stroke="#f03a3a" stroke-width="0.7"/>
<circle cx="55.71" cy="301.22" r="2.40" fill="none" stroke="#f03a3a" stroke-width="0.7"/>
<circle cx="56.84" cy="301.24" r="2.40" fill="none" stroke="#f03a3a" stroke-width="0.7"/>
<circle cx="57.98" cy="301.25" r="2.40" fill="none" stroke="#f03a3a" stroke-width="0.7"/>
<circle cx="59.13" cy="301.27" r="2.40" fill="none" stroke="#f03a3a" stroke-width="0.7"/>
<circle cx="60.30" cy="301.31" r="2.40" fill="none" stroke="#f03a3a" stroke-width="0.7"/>
<circle cx="61.49" cy="301.37" r="2.40" fill="none" stroke="#f03a3a" stroke-width="0.7"/>
<circle cx="62.70" cy="301.45" r="2.40" fill="none" stroke="#f03a3a" stroke-width="0.7"/>
<circle cx="63.90" cy="301.67" r="2.40" fill="none" stroke="#f03a3a" stroke-width="0.7"/>
<circle cx="64.87" cy="302.42" r="2.40" fill="none" stroke="#f03a3a" stroke-width="0.7"/>
<circle cx="65.95" cy="303.06" r="2.40" fill="none" stroke="#f03a3a" stroke-width="0.7"/>
<circle cx="66.96" cy="303.83" r="2.40" fill="none" stroke="#f03a3a" stroke-width="0.7"/>
<circle cx="67.89" cy="304.72" r="2.40" fill="none" stroke="#f03a3a" stroke-width="0.7"/>
<circle cx="68.75" cy="305.69" r="2.40" fill="none" stroke="#f03a3a" stroke-width="0.7"/>
<circle cx="69.55" cy="306.73" r="2.40" fill="none" stroke="#f03a3a" stroke-width="0.7"/>
<circle cx="70.30" cy="307.82" r="2.40" fill="none" stroke="#f03a3a" stroke-width="0.7"/>
<circle cx="70.99" cy="308.96" r="2.40" fill="none" stroke="#f03a3a" stroke-width="0.7"/>
<circle cx="71.63" cy="310.14" r="2.40" fill="none" stroke="#f03a3a" stroke-width="0.7"/>
<circle cx="72.21" cy="311.36" r="2.40" fill="none" stroke="#f03a3a" stroke-width="0.7"/>
<circle cx="72.76" cy="312.60" r="2.40" fill="none" stroke="#f03a3a" stroke-width="0.7"/>
<circle cx="73.28" cy="313.87" r="2.40" fill="none" stroke="#f03a3a" stroke-width="0.7"/>
<circle cx="73.77" cy="315.15" r="2.40" fill="none" stroke="#f03a3a" stroke-width="0.7"/>
<circle cx="74.24" cy="316.45" r="2.40" fill="none" stroke="#f03a3a" stroke-width="0.7"/>
<circle cx="74.69" cy="317.77" r="2.40" fill="none" stroke="#f03a3a" stroke-width="0.7"/>
<circle cx="75.13" cy="319.09" r="2.40" fill="none" stroke="#f03a3a" stroke-width="0.7"/>
<circle cx="75.55" cy="320.44" r="2.40" fill="none" stroke="#f03a3a" stroke-width="0.7"/>
<circle cx="75.96" cy="321.85" r="2.40" fill="none" stroke="#f03a3a" stroke-width="0.7"/>
<circle cx="76.36" cy="323.31" r="2.40" fill="none" stroke="#f03a3a" stroke-width="0.7"/>
<circle cx="76.74" cy="324.83" r="2.40" fill="none" stroke="#f03a3a" stroke-width="0.7"/>
<circle cx="77.12" cy="326.39" r="2.40" fill="none" stroke="#f03a3a" stroke-width="0.7"/>
<circle cx="77.49" cy="328.00" r="2.40" fill="none" stroke="#f03a3a" stroke-width="0.7"/>
<circle cx="77.86" cy="329.66" r="2.40" fill="none" stroke="#f03a3a" stroke-width="0.7"/>
<circle cx="78.23" cy="331.37" r="2.40" fill="none" stroke="#f03a3a" stroke-width="0.7"/>
<circle cx="78.60" cy="333.11" r="2.40" fill="none" stroke="#f03a3a" stroke-width="0.7"/>
<circle cx="78.98" cy="334.91" r="2.40" fill="none" stroke="#f03a3a" stroke-width="0.7"/>
<circle cx="79.36" cy="336.75" r="2.40" fill="none" stroke="#f03a3a" stroke-width="0.7"/>
<circle cx="79.73" cy="338.63" r="2.40" fill="none" stroke="#f03a3a" stroke-width="0.7"/>
<circle cx="80.10" cy="340.57" r="2.40" fill="none" stroke="#f03a3a" stroke-width="0.7"/>
<circle cx="80.46" cy="342.54" r="2.40" fill="none" stroke="#f03a3a" stroke-width="0.7"/>
<circle cx="80.84" cy="344.56" r="2.40" fill="none" stroke="#f03a3a" stroke-width="0.7"/>
<circle cx="81.23" cy="346.63" r="2.40" fill="none" stroke="#f03a3a" stroke-width="0.7"/>
<circle cx="81.65" cy="348.74" r="2.40" fill="none" stroke="#f03a3a" stroke-width="0.7"/>
<circle cx="82.09" cy="350.89" r="2.40" fill="none" stroke="#f03a3a" stroke-width="0.7"/>
<circle cx="82.55" cy="353.09" r="2.40" fill="none" stroke="#f03a3a" stroke-width="0.7"/>
<circle cx="83.02" cy="355.35" r="2.40" fill="none" stroke="#f03a3a" stroke-width="0.7"/>
<circle cx="83.51" cy="357.66" r="2.40" fill="none" stroke="#f03a3a" stroke-width="0.7"/>
<circle cx="84.01" cy="360.03" r="2.40" fill="none" stroke="#f03a3a" stroke-width="0.7"/>
<circle cx="84.51" cy="362.46" r="2.40" fill="none" stroke="#f03a3a" stroke-width="0.7"/>
<circle cx="85.04" cy="364.94" r="2.40" fill="none" stroke="#f03a3a" stroke-width="0.7"/>
<circle cx="85.57" cy="367.49" r="2.40" fill="none" stroke="#f03a3a" stroke-width="0.7"/>
<circle cx="86.10" cy="370.03" r="2.40" fill="none" stroke="#f03a3a" stroke-width="0.7"/>
<circle cx="86.62" cy="372.58" r="2.40" fill="none" stroke="#f03a3a" stroke-width="0.7"/>
<circle cx="87.11" cy="375.14" r="2.40" fill="none" stroke="#f03a3a" stroke-width="0.7"/>
<circle cx="87.58" cy="377.69" r="2.40" fill="none" stroke="#f03a3a" stroke-width="0.7"/>
<polygon points="33.01,303.95 35.24,303.93 38.46,303.90 42.20,303.87 46.00,303.85 49.40,303.87 51.92,303.95 53.49,304.06 54.44,304.18 54.88,304.29 55.10,304.40 55.49,304.64 56.13,305.02 56.82,305.41 57.41,305.80 57.96,306.23 58.50,306.72 59.03,307.31 59.58,308.02 60.13,308.85 60.69,309.82 61.24,310.89 61.79,312.06 62.34,313.31 62.87,314.64 63.38,316.00 63.88,317.41 64.36,318.90 64.84,320.49 65.31,322.22 65.80,324.13 69.20,323.27 68.70,321.32 68.20,319.52 67.70,317.85 67.20,316.29 66.67,314.81 66.13,313.36 65.57,311.96 64.98,310.62 64.38,309.34 63.76,308.13 63.11,307.01 62.42,305.98 61.72,305.07 60.99,304.26 60.23,303.56 59.45,302.95 58.64,302.42 57.87,301.98 57.29,301.64 56.75,301.31 56.00,300.97 55.05,300.73 53.82,300.57 52.08,300.45 49.45,300.37 46.00,300.35 42.18,300.37 38.43,300.40 35.21,300.44 32.99,300.45" fill="#333333" fill-opacity="0.6"/>
<rect x="30.70" y="299.90" width="4.60" height="4.60" fill="none" stroke="#3a3a3a" stroke-width="0.7"/>
<rect x="31.50" y="299.90" width="4.60" height="4.60" fill="none" stroke="#3a3a3a" stroke-width="0.7"/>
<rect x="32.31" y="299.89" width="4.60" height="4.60" fill="none" stroke="#3a3a3a" stroke-width="0.7"/>
<rect x="33.13" y="299.88" width="4.60" height="4.60" fill="none" stroke="#3a3a3a" stroke-width="0.7"/>
<rect x="33.96" y="299.87" width="4.60" height="4.60" fill="none" stroke="#3a3a3a" stroke-width="0.7"/>
<rect x="34.80" y="299.87" width="4.60" height="4.60" fill="none" stroke="#3a3a3a" stroke-width="0.7"/>
<rect x="35.65" y="299.86" width="4.60" height="4.60" fill="none" stroke="#3a3a3a" stroke-width="0.7"/>
<rect x="36.51" y="299.85" width="4.60" height="4.60" fill="none" stroke="#3a3a3a" stroke-width="0.7"/>
<rect x="37.38" y="299.84" width="4.60" height="4.60" fill="none" stroke="#3a3a3a" stroke-width="0.7"/>
<rect x="38.26" y="299.83" width="4.60" height="4.60" fill="none" stroke="#3a3a3a" stroke-width="0.7"/>
<rect x="39.15" y="299.82" width="4.60" height="4.60" fill="none" stroke="#3a3a3a" stroke-width="0.7"/>
<rect x="40.05" y="299.82" width="4.60" height="4.60" fill="none" stroke="#3a3a3a" stroke-width="0.7"/>
<rect x="40.97" y="299.81" width="4.60" height="4.60" fill="none" stroke="#3a3a3a" stroke-width="0.7"/>
<rect x="41.89" y="299.81" width="4.60" height="4.60" fill="none" stroke="#3a3a3a" stroke-width="0.7"/>
<rect x="42.83" y="299.80" width="4.60" height="4.60" fill="none" stroke="#3a3a3a" stroke-width="0.7"/>
<rect x="43.77" y="299.80" width="4.60" height="4.60" fill="none" stroke="#3a3a3a" stroke-width="0.7"/>
<rect x="44.73" y="299.81" width="4.60" height="4.60" fill="none" stroke="#3a3a3a" stroke-width="0.7"/>
<rect x="45.70" y="299.81" width="4.60" height="4.60" fill="none" stroke="#3a3a3a" stroke-width="0.7"/>
<rect x="46.68" y="299.82" width="4.60" height="4.60" fill="none" stroke="#3a3a3a" stroke-width="0.7"/>
<rect x="47.68" y="299.83" width="4.60" height="4.60" fill="none" stroke="#3a3a3a" stroke-width="0.7"/>
<rect x="48.68" y="299.86" width="4.60" height="4.60" fill="none" stroke="#3a3a3a" stroke-width="0.7"/>
<rect x="49.70" y="299.90" width="4.60" height="4.60" fill="none" stroke="#3a3a3a" stroke-width="0.7"/>
<rect x="50.73" y="299.97" width="4.60" height="4.60" fill="none" stroke="#3a3a3a" stroke-width="0.7"/>
<rect x="51.77" y="300.06" width="4.60" height="4.60" fill="none" stroke="#3a3a3a" stroke-width="0.7"/>
<rect x="52.81" y="300.24" width="4.60" height="4.60" fill="none" stroke="#3a3a3a" stroke-width="0.7"/>
<rect x="53.78" y="300.65" width="4.60" height="4.60" fill="none" stroke="#3a3a3a" stroke-width="0.7"/>
<rect x="54.71" y="301.21" width="4.60" height="4.60" fill="none" stroke="#3a3a3a" stroke-width="0.7"/>
<rect x="55.65" y="301.76" width="4.60" height="4.60" fill="none" stroke="#3a3a3a" stroke-width="0.7"/>
<rect x="56.55" y="302.39" width="4.60" height="4.60" fill="none" stroke="#3a3a3a" stroke-width="0.7"/>
<rect x="57.38" y="303.13" width="4.60" height="4.60" fill="none" stroke="#3a3a3a" stroke-width="0.7"/>
<rect x="58.14" y="303.97" width="4.60" height="4.60" fill="none" stroke="#3a3a3a" stroke-width="0.7"/>
<rect x="58.82" y="304.87" width="4.60" height="4.60" fill="none" stroke="#3a3a3a" stroke-width="0.7"/>
<rect x="59.44" y="305.83" width="4.60" height="4.60" fill="none" stroke="#3a3a3a" stroke-width="0.7"/>
<rect x="60.00" y="306.83" width="4.60" height="4.60" fill="none" stroke="#3a3a3a" stroke-width="0.7"/>
<rect x="60.53" y="307.85" width="4.60" height="4.60" fill="none" stroke="#3a3a3a" stroke-width="0.7"/>
<rect x="61.03" y="308.90" width="4.60" height="4.60" fill="none" stroke="#3a3a3a" stroke-width="0.7"/>
<rect x="61.50" y="309.97" width="4.60" height="4.60" fill="none" stroke="#3a3a3a" stroke-width="0.7"/>
<rect x="61.95" y="311.06" width="4.60" height="4.60" fill="none" stroke="#3a3a3a" stroke-width="0.7"/>
<rect x="62.37" y="312.15" width="4.60" height="4.60" fill="none" stroke="#3a3a3a" stroke-width="0.7"/>
<rect x="62.79" y="313.26" width="4.60" height="4.60" fill="none" stroke="#3a3a3a" stroke-width="0.7"/>
<rect x="63.18" y="314.39" width="4.60" height="4.60" fill="none" stroke="#3a3a3a" stroke-width="0.7"/>
<rect x="63.56" y="315.52" width="4.60" height="4.60" fill="none" stroke="#3a3a3a" stroke-width="0.7"/>
<rect x="63.91" y="316.66" width="4.60" height="4.60" fill="none" stroke="#3a3a3a" stroke-width="0.7"/>
<rect x="64.29" y="317.96" width="4.60" height="4.60" fill="none" stroke="#3a3a3a" stroke-width="0.7"/>
<rect x="64.72" y="319.51" width="4.60" height="4.60" fill="none" stroke="#3a3a3a" stroke-width="0.7"/>
<rect x="65.19" y="321.37" width="4.60" height="4.60" fill="none" stroke="#3a3a3a" stroke-width="0.7"/>
<rect x="65.71" y="323.55" width="4.60" height="4.60" fill="none" stroke="#3a3a3a" stroke-width="0.7"/>
<rect x="66.27" y="326.09" width="4.60" height="4.60" fill="none" stroke="#3a3a3a" stroke-width="0.7"/>
<rect x="66.89" y="329.03" width="4.60" height="4.60" fill="none" stroke="#3a3a3a" stroke-width="0.7"/>
<rect x="67.55" y="332.40" width="4.60" height="4.60" fill="none" stroke="#3a3a3a" stroke-width="0.7"/>
<rect x="68.24" y="336.23" width="4.60" height="4.60" fill="none" stroke="#3a3a3a" stroke-width="0.7"/>
<rect x="68.96" y="340.98" width="4.60" height="4.60" fill="none" stroke="#3a3a3a" stroke-width="0.7"/>
<rect x="69.61" y="346.83" width="4.60" height="4.60" fill="none" stroke="#3a3a3a" stroke-width="0.7"/>
<rect x="70.19" y="353.68" width="4.60" height="4.60" fill="none" stroke="#3a3a3a" stroke-width="0.7"/>
<rect x="70.53" y="360.67" width="4.60" height="4.60" fill="none" stroke="#3a3a3a" stroke-width="0.7"/>
<rect x="70.65" y="367.67" width="4.60" height="4.60" fill="none" stroke="#3a3a3a" stroke-width="0.7"/>
<polygon points="32.99,302.50 38.31,302.51 45.81,302.52 54.62,302.53 63.84,302.56 72.58,302.61 79.94,302.70 86.08,302.83 91.72,302.99 96.89,303.17 101.61,303.37 105.91,303.58 109.81,303.79 113.12,304.08 115.77,304.31 117.94,304.53 119.84,304.79 121.73,305.12 123.86,305.57 126.21,306.11 128.53,306.70 130.80,307.34 133.02,308.08 135.20,308.89 137.38,309.84 139.60,310.99 141.90,312.33 144.23,313.82 146.54,315.44 148.81,317.14 150.98,318.87 152.99,320.62 154.92,322.48 156.83,324.45 158.78,326.54 160.81,328.72 162.94,330.95 165.13,333.21 167.37,335.56 169.66,337.96 171.97,340.37 174.25,342.73 176.49,345.00 178.70,347.19 180.91,349.35 183.09,351.45 185.21,353.46 187.22,355.35 189.10,357.11 190.81,358.70 192.37,360.16 193.87,361.53 195.34,362.84 196.79,364.07 202.29,357.59 200.92,356.42 199.57,355.22 198.14,353.92 196.60,352.48 194.90,350.89 193.04,349.15 191.05,347.28 188.97,345.30 186.83,343.24 184.66,341.13 182.51,339.00 180.33,336.79 178.09,334.48 175.81,332.09 173.52,329.69 171.25,327.32 169.06,325.05 167.00,322.89 165.00,320.75 162.99,318.60 160.92,316.46 158.74,314.35 156.42,312.33 154.01,310.41 151.52,308.55 148.96,306.76 146.34,305.08 143.69,303.54 141.02,302.16 138.34,300.99 135.67,300.05 133.01,299.33 130.41,298.75 127.86,298.26 125.34,297.83 122.96,297.47 120.76,297.23 118.58,297.07 116.24,296.96 113.53,296.89 110.19,296.81 106.27,296.59 101.93,296.38 97.16,296.18 91.94,295.99 86.25,295.83 80.06,295.70 72.64,295.61 63.87,295.56 54.63,295.53 45.82,295.52 38.32,295.51 33.01,295.50" fill="#f7941d" fill-opacity="0.9"/>
<polygon points="29.00,299.00 36.20,295.00 36.20,303.00" fill="none" stroke="#f7941d" stroke-width="0.7"/>
<polygon points="29.80,299.00 37.00,295.00 37.00,303.00" fill="none" stroke="#f7941d" stroke-width="0.7"/>
<polygon points="30.60,299.01 37.80,295.01 37.80,303.01" fill="none" stroke="#f7941d" stroke-width="0.7"/>
<polygon points="31.41,299.01 38.61,295.01 38.61,303.01" fill="none" stroke="#f7941d" stroke-width="0.7"/>
<polygon points="32.22,299.01 39.42,295.01 39.42,303.01" fill="none" stroke="#f7941d" stroke-width="0.7"/>
<polygon points="33.04,299.01 40.24,295.01 40.24,303.01" fill="none" stroke="#f7941d" stroke-width="0.7"/>
<polygon points="33.86,299.01 41.06,295.01 41.06,303.01" fill="none" stroke="#f7941d" stroke-width="0.7"/>
<polygon points="34.69,299.01 41.89,295.01 41.89,303.01" fill="none" stroke="#f7941d" stroke-width="0.7"/>
<polygon points="35.52,299.01 42.72,295.01 42.72,303.01" fill="none" stroke="#f7941d" stroke-width="0.7"/>
<polygon points="36.35,299.01 43.55,295.01 43.55,303.01" fill="none" stroke="#f7941d" stroke-width="0.7"/>
<polygon points="37.19,299.01 44.39,295.01 44.39,303.01" fill="none" stroke="#f7941d" stroke-width="0.7"/>
<polygon points="38.03,299.02 45.23,295.02 45.23,303.02" fill="none" stroke="#f7941d" stroke-width="0.7"/>
<polygon points="38.88,299.02 46.08,295.02 46.08,303.02" fill="none" stroke="#f7941d" stroke-width="0.7"/>
<polygon points="39.73,299.02 46.93,295.02 46.93,303.02" fill="none" stroke="#f7941d" stroke-width="0.7"/>
<polygon points="40.58,299.02 47.78,295.02 47.78,303.02" fill="none" stroke="#f7941d" stroke-width="0.7"/>
<polygon points="41.44,299.02 48.64,295.02 48.64,303.02" fill="none" stroke="#f7941d" stroke-width="0.7"/>
<polygon points="42.30,299.02 49.50,295.02 49.50,303.02" fill="none" stroke="#f7941d" stroke-width="0.7"/>
<polygon points="43.17,299.02 50.37,295.02 50.37,303.02" fill="none" stroke="#f7941d" stroke-width="0.7"/>
<polygon points="44.05,299.02 51.25,295.02 51.25,303.02" fill="none" stroke="#f7941d" stroke-width="0.7"/>
<polygon points="44.92,299.02 52.12,295.02 52.12,303.02" fill="none" stroke="#f7941d" stroke-width="0.7"/>
<polygon points="45.80,299.02 53.00,295.02 53.00,303.02" fill="none" stroke="#f7941d" stroke-width="0.7"/>
<polygon points="46.69,299.02 53.89,295.02 53.89,303.02" fill="none" stroke="#f7941d" stroke-width="0.7"/>
<polygon points="47.58,299.03 54.78,295.03 54.78,303.03" fill="none" stroke="#f7941d" stroke-width="0.7"/>
<polygon points="48.48,299.03 55.68,295.03 55.68,303.03" fill="none" stroke="#f7941d" stroke-width="0.7"/>
<polygon points="49.38,299.03 56.58,295.03 56.58,303.03" fill="none" stroke="#f7941d" stroke-width="0.7"/>
<polygon points="50.28,299.03 57.48,295.03 57.48,303.03" fill="none" stroke="#f7941d" stroke-width="0.7"/>
<polygon points="51.19,299.03 58.39,295.03 58.39,303.03" fill="none" stroke="#f7941d" stroke-width="0.7"/>
<polygon points="52.10,299.03 59.30,295.03 59.30,303.03" fill="none" stroke="#f7941d" stroke-width="0.7"/>
<polygon points="53.02,299.04 60.22,295.04 60.22,303.04" fill="none" stroke="#f7941d" stroke-width="0.7"/>
<polygon points="53.95,299.04 61.15,295.04 61.15,303.04" fill="none" stroke="#f7941d" stroke-width="0.7"/>
<polygon points="54.87,299.04 62.07,295.04 62.07,303.04" fill="none" stroke="#f7941d" stroke-width="0.7"/>
<polygon points="55.81,299.04 63.01,295.04 63.01,303.04" fill="none" stroke="#f7941d" stroke-width="0.7"/>
<polygon points="56.74,299.05 63.94,295.05 63.94,303.05" fill="none" stroke="#f7941d" stroke-width="0.7"/>
<polygon points="57.69,299.05 64.89,295.05 64.89,303.05" fill="none" stroke="#f7941d" stroke-width="0.7"/>
<polygon points="58.63,299.05 65.83,295.05 65.83,303.05" fill="none" stroke="#f7941d" stroke-width="0.7"/>
<polygon points="59.58,299.06 66.78,295.06 66.78,303.06" fill="none" stroke="#f7941d" stroke-width="0.7"/>
<polygon points="60.54,299.06 67.74,295.06 67.74,303.06" fill="none" stroke="#f7941d" stroke-width="0.7"/>
<polygon points="61.50,299.07 68.70,295.07 68.70,303.07" fill="none" stroke="#f7941d" stroke-width="0.7"/>
<polygon points="62.47,299.07 69.67,295.07 69.67,303.07" fill="none" stroke="#f7941d" stroke-width="0.7"/>
<polygon points="63.44,299.08 70.64,295.08 70.64,303.08" fill="none" stroke="#f7941d" stroke-width="0.7"/>
<polygon points="64.42,299.08 71.62,295.08 71.62,303.08" fill="none" stroke="#f7941d" stroke-width="0.7"/>
<polygon points="65.40,299.09 72.60,295.09 72.60,303.09" fill="none" stroke="#f7941d" stroke-width="0.7"/>
<polygon points="66.39,299.10 73.59,295.10 73.59,303.10" fill="none" stroke="#f7941d" stroke-width="0.7"/>
<polygon points="67.38,299.10 74.58,295.10 74.58,303.10" fill="none" stroke="#f7941d" stroke-width="0.7"/>
<polygon points="68.37,299.11 75.57,295.11 75.57,303.11" fill="none" stroke="#f7941d" stroke-width="0.7"/>
<polygon points="69.38,299.12 76.58,295.12 76.58,303.12" fill="none" stroke="#f7941d" stroke-width="0.7"/>
<polygon points="70.38,299.13 77.58,295.13 77.58,303.13" fill="none" stroke="#f7941d" stroke-width="0.7"/>
<polygon points="71.40,299.14 78.60,295.14 78.60,303.14" fill="none" stroke="#f7941d" stroke-width="0.7"/>
<polygon points="72.41,299.15 79.61,295.15 79.61,303.15" fill="none" stroke="#f7941d" stroke-width="0.7"/>
<polygon points="73.44,299.16 80.64,295.16 80.64,303.16" fill="none" stroke="#f7941d" stroke-width="0.7"/>
<polygon points="74.46,299.18 81.66,295.18 81.66,303.18" fill="none" stroke="#f7941d" stroke-width="0.7"/>
<polygon points="75.50,299.19 82.70,295.19 82.70,303.19" fill="none" stroke="#f7941d" stroke-width="0.7"/>
<polygon points="76.53,299.21 83.73,295.21 83.73,303.21" fill="none" stroke="#f7941d" stroke-width="0.7"/>
<polygon points="77.58,299.23 84.78,295.23 84.78,303.23" fill="none" stroke="#f7941d" stroke-width="0.7"/>
<polygon points="78.63,299.25 85.83,295.25 85.83,303.25" fill="none" stroke="#f7941d" stroke-width="0.7"/>
<polygon points="79.68,299.27 86.88,295.27 86.88,303.27" fill="none" stroke="#f7941d" stroke-width="0.7"/>
<polygon points="80.74,299.29 87.94,295.29 87.94,303.29" fill="none" stroke="#f7941d" stroke-width="0.7"/>
<polygon points="81.81,299.32 89.01,295.32 89.01,303.32" fill="none" stroke="#f7941d" stroke-width="0.7"/>
<polygon points="82.88,299.35 90.08,295.35 90.08,303.35" fill="none" stroke="#f7941d" stroke-width="0.7"/>
<polygon points="83.95,299.37 91.15,295.37 91.15,303.37" fill="none" stroke="#f7941d" stroke-width="0.7"/>
<polygon points="85.03,299.40 92.23,295.40 92.23,303.40" fill="none" stroke="#f7941d" stroke-width="0.7"/>
<polygon points="86.12,299.44 93.32,295.44 93.32,303.44" fill="none" stroke="#f7941d" stroke-width="0.7"/>
<polygon points="87.21,299.47 94.41,295.47 94.41,303.47" fill="none" stroke="#f7941d" stroke-width="0.7"/>
<polygon points="88.31,299.51 95.51,295.51 95.51,303.51" fill="none" stroke="#f7941d" stroke-width="0.7"/>
<polygon points="89.41,299.54 96.61,295.54 96.61,303.54" fill="none" stroke="#f7941d" stroke-width="0.7"/>
<polygon points="90.52,299.58 97.72,295.58 97.72,303.58" fill="none" stroke="#f7941d" stroke-width="0.7"/>
<polygon points="91.64,299.62 98.84,295.62 98.84,303.62" fill="none" stroke="#f7941d" stroke-width="0.7"/>
<polygon points="92.76,299.66 99.96,295.66 99.96,303.66" fill="none" stroke="#f7941d" stroke-width="0.7"/>
<polygon points="93.89,299.71 101.09,295.71 101.09,303.71" fill="none" stroke="#f7941d" stroke-width="0.7"/>
<polygon points="95.02,299.76 102.22,295.76 102.22,303.76" fill="none" stroke="#f7941d" stroke-width="0.7"/>
<polygon points="96.15,299.81 103.35,295.81 103.35,303.81" fill="none" stroke="#f7941d" stroke-width="0.7"/>
<polygon points="97.30,299.86 104.50,295.86 104.50,303.86" fill="none" stroke="#f7941d" stroke-width="0.7"/>
<polygon points="98.45,299.91 105.65,295.91 105.65,303.91" fill="none" stroke="#f7941d" stroke-width="0.7"/>
<polygon points="99.60,299.96 106.80,295.96 106.80,303.96" fill="none" stroke="#f7941d" stroke-width="0.7"/>
<polygon points="100.76,300.02 107.96,296.02 107.96,304.02" fill="none" stroke="#f7941d" stroke-width="0.7"/>
<polygon points="101.93,300.08 109.13,296.08 109.13,304.08" fill="none" stroke="#f7941d" stroke-width="0.7"/>
<polygon points="103.10,300.14 110.30,296.14 110.30,304.14" fill="none" stroke="#f7941d" stroke-width="0.7"/>
<polygon points="104.28,300.21 111.48,296.21 111.48,304.21" fill="none" stroke="#f7941d" stroke-width="0.7"/>
<polygon points="105.46,300.27 112.66,296.27 112.66,304.27" fill="none" stroke="#f7941d" stroke-width="0.7"/>
<polygon points="106.65,300.34 113.85,296.34 113.85,304.34" fill="none" stroke="#f7941d" stroke-width="0.7"/>
<polygon points="107.85,300.40 115.05,296.40 115.05,304.40" fill="none" stroke="#f7941d" stroke-width="0.7"/>
<polygon points="109.05,300.47 116.25,296.47 116.25,304.47" fill="none" stroke="#f7941d" stroke-width="0.7"/>
<polygon points="110.26,300.53 117.46,296.53 117.46,304.53" fill="none" stroke="#f7941d" stroke-width="0.7"/>
<polygon points="111.48,300.60 118.68,296.60 118.68,304.60" fill="none" stroke="#f7941d" stroke-width="0.7"/>
<polygon points="112.70,300.68 119.90,296.68 119.90,304.68" fill="none" stroke="#f7941d" stroke-width="0.7"/>
<polygon points="113.92,300.77 121.12,296.77 121.12,304.77" fill="none" stroke="#f7941d" stroke-width="0.7"/>
<polygon points="115.15,300.88 122.35,296.88 122.35,304.88" fill="none" stroke="#f7941d" stroke-width="0.7"/>
<polygon points="116.39,301.02 123.59,297.02 123.59,305.02" fill="none" stroke="#f7941d" stroke-width="0.7"/>
<polygon points="117.62,301.19 124.82,297.19 124.82,305.19" fill="none" stroke="#f7941d" stroke-width="0.7"/>
<polygon points="118.86,301.38 126.06,297.38 126.06,305.38" fill="none" stroke="#f7941d" stroke-width="0.7"/>
<polygon points="120.10,301.61 127.30,297.61 127.30,305.61" fill="none" stroke="#f7941d" stroke-width="0.7"/>
<polygon points="121.35,301.85 128.55,297.85 128.55,305.85" fill="none" stroke="#f7941d" stroke-width="0.7"/>
<polygon points="122.60,302.10 129.80,298.10 129.80,306.10" fill="none" stroke="#f7941d" stroke-width="0.7"/>
<polygon points="123.85,302.36 131.05,298.36 131.05,306.36" fill="none" stroke="#f7941d" stroke-width="0.7"/>
<polygon points="125.11,302.64 132.31,298.64 132.31,306.64" fill="none" stroke="#f7941d" stroke-width="0.7"/>
<polygon points="126.36,302.94 133.56,298.94 133.56,306.94" fill="none" stroke="#f7941d" stroke-width="0.7"/>
<polygon points="127.62,303.26 134.82,299.26 134.82,307.26" fill="none" stroke="#f7941d" stroke-width="0.7"/>
<polygon points="128.88,303.61 136.08,299.61 136.08,307.61" fill="none" stroke="#f7941d" stroke-width="0.7"/>
<polygon points="130.13,304.00 137.33,300.00 137.33,308.00" fill="none" stroke="#f7941d" stroke-width="0.7"/>
<polygon points="131.38,304.42 138.58,300.43 138.58,308.42" fill="none" stroke="#f7941d" stroke-width="0.7"/>
<polygon points="132.63,304.89 139.82,300.89 139.82,308.88" fill="none" stroke="#f7941d" stroke-width="0.7"/>
<polygon points="133.87,305.39 141.04,301.40 141.04,309.38" fill="none" stroke="#f7941d" stroke-width="0.7"/>
<polygon points="135.09,305.94 142.26,301.96 142.26,309.92" fill="none" stroke="#f7941d" stroke-width="0.7"/>
<polygon points="136.30,306.54 143.46,302.56 143.46,310.51" fill="none" stroke="#f7941d" stroke-width="0.7"/>
<polygon points="137.50,307.17 144.65,303.19 144.65,311.14" fill="none" stroke="#f7941d" stroke-width="0.7"/>
<polygon points="138.69,307.83 145.83,303.86 145.83,311.80" fill="none" stroke="#f7941d" stroke-width="0.7"/>
<polygon points="139.87,308.52 147.00,304.56 147.00,312.49" fill="none" stroke="#f7941d" stroke-width="0.7"/>
<polygon points="141.03,309.25 148.16,305.29 148.16,313.21" fill="none" stroke="#f7941d" stroke-width="0.7"/>
<polygon points="142.19,310.00 149.31,306.04 149.31,313.95" fill="none" stroke="#f7941d" stroke-width="0.7"/>
<polygon points="143.34,310.77 150.45,306.82 150.45,314.72" fill="none" stroke="#f7941d" stroke-width="0.7"/>
<polygon points="144.48,311.56 151.58,307.62 151.58,315.50" fill="none" stroke="#f7941d" stroke-width="0.7"/>
<polygon points="145.61,312.38 152.70,308.44 152.70,316.32" fill="none" stroke="#f7941d" stroke-width="0.7"/>
<polygon points="146.74,313.21 153.82,309.28 153.82,317.15" fill="none" stroke="#f7941d" stroke-width="0.7"/>
<polygon points="147.86,314.07 154.94,310.14 154.94,318.00" fill="none" stroke="#f7941d" stroke-width="0.7"/>
<polygon points="149.00,314.97 156.06,311.04 156.06,318.89" fill="none" stroke="#f7941d" stroke-width="0.7"/>
<polygon points="150.14,315.90 157.19,311.98 157.19,319.82" fill="none" stroke="#f7941d" stroke-width="0.7"/>
<polygon points="151.27,316.88 158.32,312.96 158.32,320.79" fill="none" stroke="#f7941d" stroke-width="0.7"/>
<polygon points="152.40,317.90 159.44,313.99 159.44,321.81" fill="none" stroke="#f7941d" stroke-width="0.7"/>
<polygon points="153.51,318.97 160.54,315.07 160.54,322.88" fill="none" stroke="#f7941d" stroke-width="0.7"/>
<polygon points="154.62,320.08 161.65,316.18 161.65,323.99" fill="none" stroke="#f7941d" stroke-width="0.7"/>
<polygon points="155.74,321.23 162.75,317.33 162.75,325.13" fill="none" stroke="#f7941d" stroke-width="0.7"/>
<polygon points="156.85,322.41 163.86,318.52 163.86,326.30" fill="none" stroke="#f7941d" stroke-width="0.7"/>
<polygon points="157.98,323.62 164.98,319.73 164.98,327.50" fill="none" stroke="#f7941d" stroke-width="0.7"/>
<polygon points="159.12,324.84 166.11,320.96 166.11,328.72" fill="none" stroke="#f7941d" stroke-width="0.7"/>
<polygon points="160.28,326.08 167.27,322.20 167.27,329.96" fill="none" stroke="#f7941d" stroke-width="0.7"/>
<polygon points="161.48,327.33 168.45,323.46 168.45,331.20" fill="none" stroke="#f7941d" stroke-width="0.7"/>
<polygon points="162.70,328.59 169.66,324.72 169.66,332.45" fill="none" stroke="#f7941d" stroke-width="0.7"/>
<polygon points="163.94,329.86 170.90,326.00 170.90,333.73" fill="none" stroke="#f7941d" stroke-width="0.7"/>
<polygon points="165.20,331.17 172.14,327.31 172.14,335.03" fill="none" stroke="#f7941d" stroke-width="0.7"/>
<polygon points="166.47,332.49 173.41,328.64 173.41,336.35" fill="none" stroke="#f7941d" stroke-width="0.7"/>
<polygon points="167.77,333.84 174.69,330.00 174.69,337.69" fill="none" stroke="#f7941d" stroke-width="0.7"/>
<polygon points="169.08,335.22 175.99,331.37 175.99,339.06" fill="none" stroke="#f7941d" stroke-width="0.7"/>
<polygon points="170.41,336.61 177.32,332.77 177.32,340.44" fill="none" stroke="#f7941d" stroke-width="0.7"/>
<polygon points="171.77,338.02 178.67,334.19 178.67,341.85" fill="none" stroke="#f7941d" stroke-width="0.7"/>
<polygon points="173.16,339.44 180.04,335.62 180.04,343.27" fill="none" stroke="#f7941d" stroke-width="0.7"/>
<polygon points="174.57,340.88 181.45,337.06 181.45,344.70" fill="none" stroke="#f7941d" stroke-width="0.7"/>
<polygon points="176.02,342.34 182.89,338.52 182.89,346.15" fill="none" stroke="#f7941d" stroke-width="0.7"/>
<polygon points="177.51,343.80 184.36,340.00 184.36,347.61" fill="none" stroke="#f7941d" stroke-width="0.7"/>
<polygon points="179.03,345.28 185.87,341.48 185.87,349.08" fill="none" stroke="#f7941d" stroke-width="0.7"/>
<polygon points="180.58,346.78 187.41,342.99 187.41,350.57" fill="none" stroke="#f7941d" stroke-width="0.7"/>
<polygon points="182.16,348.29 188.98,344.51 188.98,352.08" fill="none" stroke="#f7941d" stroke-width="0.7"/>
<polygon points="183.79,349.85 190.60,346.06 190.60,353.63" fill="none" stroke="#f7941d" stroke-width="0.7"/>
<polygon points="185.50,351.45 192.29,347.67 192.29,355.22" fill="none" stroke="#f7941d" stroke-width="0.7"/>
<polygon points="187.27,353.10 194.05,349.34 194.05,356.87" fill="none" stroke="#f7941d" stroke-width="0.7"/>
<polygon points="189.11,354.81 195.88,351.05 195.88,358.57" fill="none" stroke="#f7941d" stroke-width="0.7"/>
<polygon points="191.03,356.59 197.78,352.84 197.78,360.34" fill="none" stroke="#f7941d" stroke-width="0.7"/>
<polygon points="192.97,358.42 199.80,354.63 199.80,362.21" fill="none" stroke="#f7941d" stroke-width="0.7"/>
<polygon points="195.03,360.27 201.95,356.42 201.95,364.12" fill="none" stroke="#f7941d" stroke-width="0.7"/>
<polygon points="196.66,362.92 203.68,359.02 203.68,366.83" fill="none" stroke="#f7a048" stroke-width="0.7"/>
<polygon points="202.44,361.13 209.57,357.17 209.57,365.10" fill="none" stroke="#f7a048" stroke-width="0.7"/>
<polygon points="203.27,368.53 210.47,364.53 210.47,372.53" fill="none" stroke="#f7a048" stroke-width="0.7"/>
<polygon points="203.69,365.04 210.89,361.04 210.89,369.04" fill="none" stroke="#f7a048" stroke-width="0.7"/>
<polygon points="207.97,366.56 215.17,362.56 215.17,370.56" fill="none" stroke="#f7a048" stroke-width="0.7"/>
<polygon points="209.72,372.59 216.92,368.59 216.92,376.59" fill="none" stroke="#f7a048" stroke-width="0.7"/>
<polygon points="215.54,373.49 222.74,369.49 222.74,377.49" fill="none" stroke="#f7a048" stroke-width="0.7"/>
<polygon points="217.61,373.44 224.81,369.44 224.81,377.44" fill="none" stroke="#f7a048" stroke-width="0.7"/>
<polygon points="218.62,375.07 225.82,371.07 225.82,379.07" fill="none" stroke="#f7a048" stroke-width="0.7"/>
<line x1="15.30" y1="182.52" x2="305.30" y2="464.40" stroke="#f7941d" stroke-width="1.3" />
<line x1="15.30" y1="173.00" x2="305.30" y2="523.90" stroke="#1a8c1a" stroke-width="1.3" />
<line x1="15.30" y1="153.40" x2="305.30" y2="646.40" stroke="#e21ee2" stroke-width="1.3" />
<line x1="15.30" y1="121.80" x2="305.30" y2="843.90" stroke="#2626c8" stroke-width="1.3" />
<line x1="15.30" y1="29.00" x2="305.30" y2="1423.90" stroke="#d41f2f" stroke-width="1.3" />
</g>
<rect x="32.5" y="209.2" width="215.5" height="165.8" fill="none" stroke="#6a6a6a" stroke-width="1.1"/>
<line x1="32.50" y1="375.00" x2="32.50" y2="373.00" stroke="#6a6a6a" stroke-width="1" />
<line x1="44.47" y1="375.00" x2="44.47" y2="371.50" stroke="#6a6a6a" stroke-width="1" />
<text x="44.5" y="389.0" font-size="13" text-anchor="middle" fill="#1a1a1a" >30</text>
<line x1="56.44" y1="375.00" x2="56.44" y2="373.00" stroke="#6a6a6a" stroke-width="1" />
<line x1="68.42" y1="375.00" x2="68.42" y2="371.50" stroke="#6a6a6a" stroke-width="1" />
<text x="68.4" y="389.0" font-size="13" text-anchor="middle" fill="#1a1a1a" >32</text>
<line x1="80.39" y1="375.00" x2="80.39" y2="373.00" stroke="#6a6a6a" stroke-width="1" />
<line x1="92.36" y1="375.00" x2="92.36" y2="371.50" stroke="#6a6a6a" stroke-width="1" />
<text x="92.4" y="389.0" font-size="13" text-anchor="middle" fill="#1a1a1a" >34</text>
<line x1="104.33" y1="375.00" x2="104.33" y2="373.00" stroke="#6a6a6a" stroke-width="1" />
<line x1="116.31" y1="375.00" x2="116.31" y2="371.50" stroke="#6a6a6a" stroke-width="1" />
<text x="116.3" y="389.0" font-size="13" text-anchor="middle" fill="#1a1a1a" >36</text>
<line x1="128.28" y1="375.00" x2="128.28" y2="373.00" stroke="#6a6a6a" stroke-width="1" />
<line x1="140.25" y1="375.00" x2="140.25" y2="371.50" stroke="#6a6a6a" stroke-width="1" />
<text x="140.2" y="389.0" font-size="13" text-anchor="middle" fill="#1a1a1a" >38</text>
<line x1="152.22" y1="375.00" x2="152.22" y2="373.00" stroke="#6a6a6a" stroke-width="1" />
<line x1="164.19" y1="375.00" x2="164.19" y2="371.50" stroke="#6a6a6a" stroke-width="1" />
<text x="164.2" y="389.0" font-size="13" text-anchor="middle" fill="#1a1a1a" >40</text>
<line x1="176.17" y1="375.00" x2="176.17" y2="373.00" stroke="#6a6a6a" stroke-width="1" />
<line x1="188.14" y1="375.00" x2="188.14" y2="371.50" stroke="#6a6a6a" stroke-width="1" />
<text x="188.1" y="389.0" font-size="13" text-anchor="middle" fill="#1a1a1a" >42</text>
<line x1="200.11" y1="375.00" x2="200.11" y2="373.00" stroke="#6a6a6a" stroke-width="1" />
<line x1="212.08" y1="375.00" x2="212.08" y2="371.50" stroke="#6a6a6a" stroke-width="1" />
<text x="212.1" y="389.0" font-size="13" text-anchor="middle" fill="#1a1a1a" >44</text>
<line x1="224.06" y1="375.00" x2="224.06" y2="373.00" stroke="#6a6a6a" stroke-width="1" />
<line x1="236.03" y1="375.00" x2="236.03" y2="371.50" stroke="#6a6a6a" stroke-width="1" />
<text x="236.0" y="389.0" font-size="13" text-anchor="middle" fill="#1a1a1a" >46</text>
<line x1="248.00" y1="375.00" x2="248.00" y2="373.00" stroke="#6a6a6a" stroke-width="1" />
<line x1="32.50" y1="375.00" x2="36.00" y2="375.00" stroke="#6a6a6a" stroke-width="1" />
<text x="28.6" y="378.6" font-size="13" text-anchor="end" fill="#1a1a1a" >-3</text>
<line x1="32.50" y1="365.79" x2="34.30" y2="365.79" stroke="#6a6a6a" stroke-width="1" />
<line x1="32.50" y1="356.58" x2="36.00" y2="356.58" stroke="#6a6a6a" stroke-width="1" />
<text x="28.6" y="360.2" font-size="13" text-anchor="end" fill="#1a1a1a" >-2</text>
<line x1="32.50" y1="347.37" x2="34.30" y2="347.37" stroke="#6a6a6a" stroke-width="1" />
<line x1="32.50" y1="338.16" x2="36.00" y2="338.16" stroke="#6a6a6a" stroke-width="1" />
<text x="28.6" y="341.8" font-size="13" text-anchor="end" fill="#1a1a1a" >-1</text>
<line x1="32.50" y1="328.94" x2="34.30" y2="328.94" stroke="#6a6a6a" stroke-width="1" />
<line x1="32.50" y1="319.73" x2="36.00" y2="319.73" stroke="#6a6a6a" stroke-width="1" />
<text x="28.6" y="323.3" font-size="13" text-anchor="end" fill="#1a1a1a" >0</text>
<line x1="32.50" y1="310.52" x2="34.30" y2="310.52" stroke="#6a6a6a" stroke-width="1" />
<line x1="32.50" y1="301.31" x2="36.00" y2="301.31" stroke="#6a6a6a" stroke-width="1" />
<text x="28.6" y="304.9" font-size="13" text-anchor="end" fill="#1a1a1a" >1</text>
<line x1="32.50" y1="292.10" x2="34.30" y2="292.10" stroke="#6a6a6a" stroke-width="1" />
<line x1="32.50" y1="282.89" x2="36.00" y2="282.89" stroke="#6a6a6a" stroke-width="1" />
<text x="28.6" y="286.5" font-size="13" text-anchor="end" fill="#1a1a1a" >2</text>
<line x1="32.50" y1="273.68" x2="34.30" y2="273.68" stroke="#6a6a6a" stroke-width="1" />
<line x1="32.50" y1="264.47" x2="36.00" y2="264.47" stroke="#6a6a6a" stroke-width="1" />
<text x="28.6" y="268.1" font-size="13" text-anchor="end" fill="#1a1a1a" >3</text>
<line x1="32.50" y1="255.26" x2="34.30" y2="255.26" stroke="#6a6a6a" stroke-width="1" />
<line x1="32.50" y1="246.04" x2="36.00" y2="246.04" stroke="#6a6a6a" stroke-width="1" />
<text x="28.6" y="249.6" font-size="13" text-anchor="end" fill="#1a1a1a" >4</text>
<line x1="32.50" y1="236.83" x2="34.30" y2="236.83" stroke="#6a6a6a" stroke-width="1" />
<line x1="32.50" y1="227.62" x2="36.00" y2="227.62" stroke="#6a6a6a" stroke-width="1" />
<text x="28.6" y="231.2" font-size="13" text-anchor="end" fill="#1a1a1a" >5</text>
<line x1="32.50" y1="218.41" x2="34.30" y2="218.41" stroke="#6a6a6a" stroke-width="1" />
<line x1="32.50" y1="209.20" x2="36.00" y2="209.20" stroke="#6a6a6a" stroke-width="1" />
<text x="28.6" y="212.8" font-size="13" text-anchor="end" fill="#1a1a1a" >6</text>
<text x="0.0" y="219.2" font-size="12.5" text-anchor="start" fill="#1a1a1a" >(b)</text>
<text x="78.6" y="227.2" font-size="12.5" text-anchor="start" fill="#1a1a1a" >H//c</text>
<text x="10.2" y="336.5" font-size="12" text-anchor="start" fill="#1a1a1a" transform="rotate(-90 10.2 336.5)" >log[ρ<tspan font-size="8" dy="3">ab</tspan><tspan dy="-3">(mΩ cm)]</tspan></text>
<text x="140.0" y="405.0" font-size="12.5" text-anchor="middle" fill="#1a1a1a" >1000/T (1/K)</text>
<text x="50.6" y="368.0" font-size="12" text-anchor="start" fill="#1a1a1a" >0T</text>
<text x="89.5" y="368.0" font-size="12" text-anchor="start" fill="#1a1a1a" >1T</text>
<text x="117.4" y="368.0" font-size="12" text-anchor="start" fill="#1a1a1a" >3T</text>
<text x="146.0" y="363.2" font-size="12" text-anchor="start" fill="#1a1a1a" >5T</text>
<text x="165.3" y="352.7" font-size="12" text-anchor="start" fill="#1a1a1a" >7T</text>
<text x="185.2" y="334.0" font-size="12.5" text-anchor="start" fill="#1a1a1a" >9T</text>
<rect x="140" y="214.3" width="103.3" height="77.5" fill="#fff" stroke="#6a6a6a" stroke-width="0.9"/>
<line x1="144.74" y1="291.80" x2="144.74" y2="290.40" stroke="#6a6a6a" stroke-width="0.7" />
<line x1="148.80" y1="291.80" x2="148.80" y2="289.30" stroke="#6a6a6a" stroke-width="0.7" />
<line x1="175.50" y1="291.80" x2="175.50" y2="290.40" stroke="#6a6a6a" stroke-width="0.7" />
<line x1="191.12" y1="291.80" x2="191.12" y2="290.40" stroke="#6a6a6a" stroke-width="0.7" />
<line x1="202.20" y1="291.80" x2="202.20" y2="290.40" stroke="#6a6a6a" stroke-width="0.7" />
<line x1="210.80" y1="291.80" x2="210.80" y2="290.40" stroke="#6a6a6a" stroke-width="0.7" />
<line x1="217.82" y1="291.80" x2="217.82" y2="290.40" stroke="#6a6a6a" stroke-width="0.7" />
<line x1="223.76" y1="291.80" x2="223.76" y2="290.40" stroke="#6a6a6a" stroke-width="0.7" />
<line x1="228.90" y1="291.80" x2="228.90" y2="290.40" stroke="#6a6a6a" stroke-width="0.7" />
<line x1="233.44" y1="291.80" x2="233.44" y2="290.40" stroke="#6a6a6a" stroke-width="0.7" />
<line x1="237.50" y1="291.80" x2="237.50" y2="289.30" stroke="#6a6a6a" stroke-width="0.7" />
<line x1="241.17" y1="291.80" x2="241.17" y2="290.40" stroke="#6a6a6a" stroke-width="0.7" />
<line x1="140.00" y1="291.00" x2="142.50" y2="291.00" stroke="#6a6a6a" stroke-width="0.7" />
<line x1="140.00" y1="270.74" x2="141.40" y2="270.74" stroke="#6a6a6a" stroke-width="0.7" />
<line x1="140.00" y1="258.89" x2="141.40" y2="258.89" stroke="#6a6a6a" stroke-width="0.7" />
<line x1="140.00" y1="250.48" x2="141.40" y2="250.48" stroke="#6a6a6a" stroke-width="0.7" />
<line x1="140.00" y1="243.96" x2="141.40" y2="243.96" stroke="#6a6a6a" stroke-width="0.7" />
<line x1="140.00" y1="238.63" x2="141.40" y2="238.63" stroke="#6a6a6a" stroke-width="0.7" />
<line x1="140.00" y1="234.12" x2="141.40" y2="234.12" stroke="#6a6a6a" stroke-width="0.7" />
<line x1="140.00" y1="230.22" x2="141.40" y2="230.22" stroke="#6a6a6a" stroke-width="0.7" />
<line x1="140.00" y1="226.78" x2="141.40" y2="226.78" stroke="#6a6a6a" stroke-width="0.7" />
<line x1="140.00" y1="223.70" x2="142.50" y2="223.70" stroke="#6a6a6a" stroke-width="0.7" />
<text x="139.2" y="226.3" font-size="7.5" text-anchor="end" fill="#333" >10</text>
<text x="139.2" y="293.7" font-size="7.5" text-anchor="end" fill="#333" >1</text>
<text x="148.8" y="300.0" font-size="7.5" text-anchor="middle" fill="#333" >1</text>
<text x="239.6" y="300.0" font-size="7.5" text-anchor="middle" fill="#333" >10</text>
<text x="179.3" y="309.0" font-size="7.5" text-anchor="start" fill="#333" >μ<tspan font-size="5" dy="2">0</tspan><tspan dy="-2">H (T)</tspan></text>
<text x="128.5" y="277.0" font-size="7.5" text-anchor="start" fill="#333" transform="rotate(-90 128.5 277.0)" >U<tspan font-size="5" dy="2">0</tspan><tspan dy="-2"> (×10</tspan><tspan font-size="5" dy="-3">3</tspan><tspan dy="3"> K)</tspan></text>
<line x1="144.60" y1="223.20" x2="237.50" y2="282.40" stroke="#e21ee2" stroke-width="0.9" />
<line x1="144.60" y1="217.50" x2="237.50" y2="273.90" stroke="#1a8c1a" stroke-width="0.9" />
<polyline points="148.80,233.60 190.70,253.00" fill="none" stroke="#e21ee2" stroke-width="0.7" stroke-dasharray="1 1.5"/>
<polyline points="148.80,228.50 190.70,245.80" fill="none" stroke="#1a8c1a" stroke-width="0.7" stroke-dasharray="1 1.5"/>
<rect x="146.90" y="231.70" width="3.8" height="3.8" fill="#ee22ee"/>
<rect x="188.80" y="251.10" width="3.8" height="3.8" fill="#ee22ee"/>
<rect x="208.90" y="263.20" width="3.8" height="3.8" fill="#ee22ee"/>
<rect x="222.20" y="272.00" width="3.8" height="3.8" fill="#ee22ee"/>
<rect x="232.40" y="279.20" width="3.8" height="3.8" fill="#ee22ee"/>
<rect x="146.90" y="226.60" width="3.8" height="3.8" fill="#1c7a1c"/>
<rect x="188.80" y="243.90" width="3.8" height="3.8" fill="#1c7a1c"/>
<rect x="208.90" y="255.70" width="3.8" height="3.8" fill="#1c7a1c"/>
<rect x="222.20" y="264.00" width="3.8" height="3.8" fill="#1c7a1c"/>
<rect x="232.40" y="269.80" width="3.8" height="3.8" fill="#1c7a1c"/>
<polyline points="144.50,274.40 159.50,274.40" fill="none" stroke="#e21ee2" stroke-width="0.7" stroke-dasharray="1 1.5"/>
<polyline points="144.50,282.40 159.50,282.40" fill="none" stroke="#1a8c1a" stroke-width="0.7" stroke-dasharray="1 1.5"/>
<rect x="149.6" y="271.8" width="5" height="5" fill="#ee22ee"/>
<rect x="149.6" y="279.8" width="5" height="5" fill="#1c7a1c"/>
<text x="162.2" y="277.0" font-size="7.5" text-anchor="start" fill="#333" >H//c</text>
<text x="162.2" y="285.0" font-size="7.5" text-anchor="start" fill="#333" >H//ab</text>
<g clip-path="url(#clipC)">
<polygon points="295.24,39.00 298.04,33.96 292.44,33.96" fill="#6f5fbf"/>
<polygon points="302.02,39.09 304.82,34.05 299.22,34.05" fill="#6f5fbf"/>
<polygon points="308.82,39.19 311.62,34.15 306.02,34.15" fill="#6f5fbf"/>
<polygon points="315.67,39.30 318.47,34.26 312.87,34.26" fill="#6f5fbf"/>
<polygon points="322.55,39.43 325.35,34.39 319.75,34.39" fill="#6f5fbf"/>
<polygon points="329.48,39.59 332.28,34.55 326.68,34.55" fill="#6f5fbf"/>
<polygon points="336.47,39.77 339.27,34.73 333.67,34.73" fill="#6f5fbf"/>
<polygon points="343.52,39.97 346.32,34.93 340.72,34.93" fill="#6f5fbf"/>
<polygon points="350.64,40.17 353.44,35.13 347.84,35.13" fill="#6f5fbf"/>
<polygon points="357.84,40.39 360.64,35.35 355.04,35.35" fill="#6f5fbf"/>
<polygon points="365.12,40.62 367.92,35.58 362.32,35.58" fill="#6f5fbf"/>
<polygon points="372.49,40.86 375.29,35.82 369.69,35.82" fill="#6f5fbf"/>
<polygon points="379.94,41.12 382.74,36.08 377.14,36.08" fill="#6f5fbf"/>
<polygon points="387.49,41.40 390.29,36.36 384.69,36.36" fill="#6f5fbf"/>
<polygon points="395.13,41.77 397.93,36.73 392.33,36.73" fill="#6f5fbf"/>
<polygon points="402.85,42.79 405.65,37.75 400.05,37.75" fill="#6f5fbf"/>
<polygon points="410.87,44.29 413.67,39.25 408.07,39.25" fill="#6f5fbf"/>
<polygon points="419.43,45.86 422.23,40.82 416.63,40.82" fill="#6f5fbf"/>
<polygon points="428.12,49.13 430.92,44.09 425.32,44.09" fill="#6f5fbf"/>
<polygon points="437.54,53.05 440.34,48.01 434.74,48.01" fill="#6f5fbf"/>
<polygon points="446.45,59.16 449.25,54.12 443.65,54.12" fill="#6f5fbf"/>
<polygon points="455.56,66.59 458.36,61.55 452.76,61.55" fill="#6f5fbf"/>
<polygon points="464.06,76.32 466.86,71.28 461.26,71.28" fill="#6f5fbf"/>
<polygon points="472.84,87.77 475.64,82.73 470.04,82.73" fill="#6f5fbf"/>
<polygon points="481.62,101.40 484.42,96.36 478.82,96.36" fill="#6f5fbf"/>
<polygon points="490.41,116.45 493.21,111.41 487.61,111.41" fill="#6f5fbf"/>
<polygon points="499.74,132.05 502.54,127.01 496.94,127.01" fill="#6f5fbf"/>
<polygon points="509.95,148.03 512.75,142.99 507.15,142.99" fill="#6f5fbf"/>
<polygon points="520.66,164.64 523.46,159.60 517.86,159.60" fill="#6f5fbf"/>
<polygon points="532.32,180.88 535.12,175.84 529.52,175.84" fill="#6f5fbf"/>
<polygon points="543.29,197.53 546.09,192.49 540.49,192.49" fill="#6f5fbf"/>
<polygon points="293.09,33.64 295.89,38.68 290.29,38.68" fill="#178060"/>
<polygon points="299.89,33.68 302.69,38.72 297.09,38.72" fill="#178060"/>
<polygon points="306.71,33.73 309.51,38.77 303.91,38.77" fill="#178060"/>
<polygon points="313.53,33.80 316.33,38.84 310.73,38.84" fill="#178060"/>
<polygon points="320.37,33.89 323.17,38.93 317.57,38.93" fill="#178060"/>
<polygon points="327.23,34.03 330.03,39.07 324.43,39.07" fill="#178060"/>
<polygon points="334.13,34.22 336.93,39.26 331.33,39.26" fill="#178060"/>
<polygon points="341.06,34.43 343.86,39.47 338.26,39.47" fill="#178060"/>
<polygon points="348.05,34.66 350.85,39.70 345.25,39.70" fill="#178060"/>
<polygon points="355.09,34.90 357.89,39.94 352.29,39.94" fill="#178060"/>
<polygon points="362.18,35.17 364.98,40.21 359.38,40.21" fill="#178060"/>
<polygon points="369.34,35.45 372.14,40.49 366.54,40.49" fill="#178060"/>
<polygon points="376.56,35.77 379.36,40.81 373.76,40.81" fill="#178060"/>
<polygon points="383.86,36.14 386.66,41.18 381.06,41.18" fill="#178060"/>
<polygon points="391.23,36.72 394.03,41.76 388.43,41.76" fill="#178060"/>
<polygon points="398.58,38.27 401.38,43.31 395.78,43.31" fill="#178060"/>
<polygon points="406.44,39.04 409.24,44.08 403.64,44.08" fill="#178060"/>
<polygon points="414.36,40.62 417.16,45.66 411.56,45.66" fill="#178060"/>
<polygon points="421.88,44.31 424.68,49.35 419.08,49.35" fill="#178060"/>
<polygon points="429.62,49.49 432.42,54.53 426.82,54.53" fill="#178060"/>
<polygon points="438.05,55.38 440.85,60.42 435.25,60.42" fill="#178060"/>
<polygon points="446.27,62.70 449.07,67.74 443.47,67.74" fill="#178060"/>
<polygon points="454.03,71.76 456.83,76.80 451.23,76.80" fill="#178060"/>
<polygon points="460.79,82.93 463.59,87.97 457.99,87.97" fill="#178060"/>
<polygon points="468.38,95.24 471.18,100.28 465.58,100.28" fill="#178060"/>
<polygon points="476.47,108.03 479.27,113.07 473.67,113.07" fill="#178060"/>
<polygon points="483.96,121.42 486.76,126.46 481.16,126.46" fill="#178060"/>
<polygon points="491.49,135.05 494.29,140.09 488.69,140.09" fill="#178060"/>
<polygon points="499.17,148.86 501.97,153.90 496.37,153.90" fill="#178060"/>
<polygon points="506.95,162.84 509.75,167.88 504.15,167.88" fill="#178060"/>
<polygon points="514.72,176.82 517.52,181.86 511.92,181.86" fill="#178060"/>
<polygon points="522.50,190.80 525.30,195.84 519.70,195.84" fill="#178060"/>
<polygon points="530.28,204.79 533.08,209.83 527.48,209.83" fill="#178060"/>
<polygon points="293.95,36.46 289.09,33.76 289.09,39.16" fill="#3f9e3c"/>
<polygon points="300.79,36.59 295.93,33.89 295.93,39.29" fill="#3f9e3c"/>
<polygon points="307.67,36.72 302.81,34.02 302.81,39.42" fill="#3f9e3c"/>
<polygon points="314.60,36.85 309.74,34.15 309.74,39.55" fill="#3f9e3c"/>
<polygon points="321.56,36.99 316.70,34.29 316.70,39.69" fill="#3f9e3c"/>
<polygon points="328.56,37.12 323.70,34.42 323.70,39.82" fill="#3f9e3c"/>
<polygon points="335.60,37.25 330.74,34.55 330.74,39.95" fill="#3f9e3c"/>
<polygon points="342.68,37.37 337.82,34.67 337.82,40.07" fill="#3f9e3c"/>
<polygon points="349.80,37.48 344.94,34.78 344.94,40.18" fill="#3f9e3c"/>
<polygon points="356.96,37.59 352.10,34.89 352.10,40.29" fill="#3f9e3c"/>
<polygon points="364.15,37.74 359.29,35.04 359.29,40.44" fill="#3f9e3c"/>
<polygon points="371.37,37.95 366.51,35.25 366.51,40.65" fill="#3f9e3c"/>
<polygon points="378.65,38.46 373.79,35.76 373.79,41.16" fill="#3f9e3c"/>
<polygon points="385.91,40.14 381.05,37.44 381.05,42.84" fill="#3f9e3c"/>
<polygon points="393.25,43.08 388.39,40.38 388.39,45.78" fill="#3f9e3c"/>
<polygon points="400.01,48.81 395.15,46.11 395.15,51.51" fill="#3f9e3c"/>
<polygon points="407.58,56.27 402.72,53.57 402.72,58.97" fill="#3f9e3c"/>
<polygon points="414.35,66.28 409.49,63.58 409.49,68.98" fill="#3f9e3c"/>
<polygon points="420.81,78.52 415.95,75.82 415.95,81.22" fill="#3f9e3c"/>
<polygon points="427.23,93.16 422.37,90.46 422.37,95.86" fill="#3f9e3c"/>
<polygon points="433.80,110.26 428.94,107.56 428.94,112.96" fill="#3f9e3c"/>
<polygon points="441.52,128.74 436.66,126.04 436.66,131.44" fill="#3f9e3c"/>
<polygon points="449.94,148.93 445.08,146.23 445.08,151.63" fill="#3f9e3c"/>
<polygon points="459.14,170.98 454.28,168.28 454.28,173.68" fill="#3f9e3c"/>
<polygon points="468.38,193.13 463.52,190.43 463.52,195.83" fill="#3f9e3c"/>
<polygon points="288.00,33.40 290.80,36.20 288.00,39.00 285.20,36.20" fill="#444444"/>
<polygon points="294.71,33.59 297.51,36.39 294.71,39.19 291.91,36.39" fill="#444444"/>
<polygon points="301.44,33.78 304.24,36.58 301.44,39.38 298.64,36.58" fill="#444444"/>
<polygon points="308.18,33.97 310.98,36.77 308.18,39.57 305.38,36.77" fill="#444444"/>
<polygon points="314.94,34.17 317.74,36.97 314.94,39.77 312.14,36.97" fill="#444444"/>
<polygon points="321.70,34.36 324.50,37.16 321.70,39.96 318.90,37.16" fill="#444444"/>
<polygon points="328.49,34.56 331.29,37.36 328.49,40.16 325.69,37.36" fill="#444444"/>
<polygon points="335.29,34.72 338.09,37.52 335.29,40.32 332.49,37.52" fill="#444444"/>
<polygon points="342.10,34.83 344.90,37.63 342.10,40.43 339.30,37.63" fill="#444444"/>
<polygon points="348.92,34.93 351.72,37.73 348.92,40.53 346.12,37.73" fill="#444444"/>
<polygon points="355.75,35.17 358.55,37.97 355.75,40.77 352.95,37.97" fill="#444444"/>
<polygon points="362.56,35.85 365.36,38.65 362.56,41.45 359.76,38.65" fill="#444444"/>
<polygon points="369.14,37.84 371.94,40.64 369.14,43.44 366.34,40.64" fill="#444444"/>
<polygon points="374.80,41.86 377.60,44.66 374.80,47.46 372.00,44.66" fill="#444444"/>
<polygon points="379.89,47.12 382.69,49.92 379.89,52.72 377.09,49.92" fill="#444444"/>
<polygon points="383.54,53.93 386.34,56.73 383.54,59.53 380.74,56.73" fill="#444444"/>
<polygon points="386.28,61.71 389.08,64.51 386.28,67.31 383.48,64.51" fill="#444444"/>
<polygon points="388.85,70.20 391.65,73.00 388.85,75.80 386.05,73.00" fill="#444444"/>
<polygon points="390.88,79.56 393.68,82.36 390.88,85.16 388.08,82.36" fill="#444444"/>
<polygon points="392.79,89.75 395.59,92.55 392.79,95.35 389.99,92.55" fill="#444444"/>
<polygon points="394.88,100.68 397.68,103.48 394.88,106.28 392.08,103.48" fill="#444444"/>
<polygon points="397.17,112.13 399.97,114.93 397.17,117.73 394.37,114.93" fill="#444444"/>
<polygon points="399.67,124.12 402.47,126.92 399.67,129.72 396.87,126.92" fill="#444444"/>
<polygon points="402.27,136.70 405.07,139.50 402.27,142.30 399.47,139.50" fill="#444444"/>
<polygon points="404.99,149.89 407.79,152.69 404.99,155.49 402.19,152.69" fill="#444444"/>
<polygon points="407.82,163.60 410.62,166.40 407.82,169.20 405.02,166.40" fill="#444444"/>
<polygon points="410.66,177.31 413.46,180.11 410.66,182.91 407.86,180.11" fill="#444444"/>
<polygon points="413.49,191.02 416.29,193.82 413.49,196.62 410.69,193.82" fill="#444444"/>
<polygon points="416.32,204.74 419.12,207.54 416.32,210.34 413.52,207.54" fill="#444444"/>
<polygon points="286.79,36.34 291.65,33.64 291.65,39.04" fill="#7a1a35"/>
<polygon points="293.51,36.51 298.37,33.81 298.37,39.21" fill="#7a1a35"/>
<polygon points="300.23,36.68 305.09,33.98 305.09,39.38" fill="#7a1a35"/>
<polygon points="306.97,36.85 311.83,34.15 311.83,39.55" fill="#7a1a35"/>
<polygon points="313.71,37.01 318.57,34.31 318.57,39.71" fill="#7a1a35"/>
<polygon points="320.47,37.17 325.33,34.47 325.33,39.87" fill="#7a1a35"/>
<polygon points="327.23,37.30 332.09,34.60 332.09,40.00" fill="#7a1a35"/>
<polygon points="334.00,37.35 338.86,34.65 338.86,40.05" fill="#7a1a35"/>
<polygon points="340.77,37.33 345.63,34.63 345.63,40.03" fill="#7a1a35"/>
<polygon points="347.54,37.29 352.40,34.59 352.40,39.99" fill="#7a1a35"/>
<polygon points="354.31,37.37 359.17,34.67 359.17,40.07" fill="#7a1a35"/>
<polygon points="361.07,37.79 365.93,35.09 365.93,40.49" fill="#7a1a35"/>
<polygon points="367.79,38.79 372.65,36.09 372.65,41.49" fill="#7a1a35"/>
<polygon points="374.32,40.82 379.18,38.12 379.18,43.52" fill="#7a1a35"/>
<polygon points="379.92,44.94 384.78,42.24 384.78,47.64" fill="#7a1a35"/>
<polygon points="385.22,49.74 390.08,47.04 390.08,52.44" fill="#7a1a35"/>
<polygon points="389.60,55.75 394.46,53.05 394.46,58.45" fill="#7a1a35"/>
<polygon points="393.60,62.41 398.46,59.71 398.46,65.11" fill="#7a1a35"/>
<polygon points="397.22,69.80 402.08,67.10 402.08,72.50" fill="#7a1a35"/>
<polygon points="399.96,78.35 404.82,75.65 404.82,81.05" fill="#7a1a35"/>
<polygon points="403.29,87.60 408.15,84.90 408.15,90.30" fill="#7a1a35"/>
<polygon points="406.40,97.90 411.26,95.20 411.26,100.60" fill="#7a1a35"/>
<polygon points="409.59,108.84 414.45,106.14 414.45,111.54" fill="#7a1a35"/>
<polygon points="413.11,120.25 417.97,117.55 417.97,122.95" fill="#7a1a35"/>
<polygon points="416.85,132.19 421.71,129.49 421.71,134.89" fill="#7a1a35"/>
<polygon points="420.74,144.71 425.60,142.01 425.60,147.41" fill="#7a1a35"/>
<polygon points="424.82,157.82 429.68,155.12 429.68,160.52" fill="#7a1a35"/>
<polygon points="428.99,171.19 433.85,168.49 433.85,173.89" fill="#7a1a35"/>
<polygon points="433.15,184.56 438.01,181.86 438.01,187.26" fill="#7a1a35"/>
<polygon points="437.31,197.93 442.17,195.23 442.17,200.63" fill="#7a1a35"/>
<polygon points="293.38,37.79 291.22,39.04 289.05,37.79 289.05,35.29 291.22,34.04 293.38,35.29" fill="#222f99"/>
<polygon points="300.07,37.87 297.90,39.12 295.74,37.87 295.74,35.37 297.90,34.12 300.07,35.37" fill="#222f99"/>
<polygon points="306.75,37.94 304.59,39.19 302.42,37.94 302.42,35.44 304.59,34.19 306.75,35.44" fill="#222f99"/>
<polygon points="313.43,38.03 311.26,39.28 309.10,38.03 309.10,35.53 311.26,34.28 313.43,35.53" fill="#222f99"/>
<polygon points="320.11,38.12 317.94,39.37 315.78,38.12 315.78,35.62 317.94,34.37 320.11,35.62" fill="#222f99"/>
<polygon points="326.78,38.24 324.61,39.49 322.45,38.24 322.45,35.74 324.61,34.49 326.78,35.74" fill="#222f99"/>
<polygon points="333.45,38.38 331.28,39.63 329.12,38.38 329.12,35.88 331.28,34.63 333.45,35.88" fill="#222f99"/>
<polygon points="340.11,38.52 337.95,39.77 335.78,38.52 335.78,36.02 337.95,34.77 340.11,36.02" fill="#222f99"/>
<polygon points="346.78,38.65 344.61,39.90 342.45,38.65 342.45,36.15 344.61,34.90 346.78,36.15" fill="#222f99"/>
<polygon points="353.43,38.80 351.27,40.05 349.10,38.80 349.10,36.30 351.27,35.05 353.43,36.30" fill="#222f99"/>
<polygon points="360.09,38.97 357.92,40.22 355.76,38.97 355.76,36.47 357.92,35.22 360.09,36.47" fill="#222f99"/>
<polygon points="366.73,39.19 364.57,40.44 362.40,39.19 362.40,36.69 364.57,35.44 366.73,36.69" fill="#222f99"/>
<polygon points="373.37,39.49 371.20,40.74 369.04,39.49 369.04,36.99 371.20,35.74 373.37,36.99" fill="#222f99"/>
<polygon points="379.98,40.03 377.82,41.28 375.65,40.03 375.65,37.53 377.82,36.28 379.98,37.53" fill="#222f99"/>
<polygon points="386.48,41.22 384.32,42.47 382.15,41.22 382.15,38.72 384.32,37.47 386.48,38.72" fill="#222f99"/>
<polygon points="392.69,43.42 390.52,44.67 388.36,43.42 388.36,40.92 390.52,39.67 392.69,40.92" fill="#222f99"/>
<polygon points="398.56,46.23 396.39,47.48 394.23,46.23 394.23,43.73 396.39,42.48 398.56,43.73" fill="#222f99"/>
<polygon points="404.61,48.38 402.44,49.63 400.28,48.38 400.28,45.88 402.44,44.63 404.61,45.88" fill="#222f99"/>
<polygon points="409.60,52.32 407.43,53.57 405.27,52.32 405.27,49.82 407.43,48.57 409.60,49.82" fill="#222f99"/>
<polygon points="414.73,55.89 412.57,57.14 410.40,55.89 410.40,53.39 412.57,52.14 414.73,53.39" fill="#222f99"/>
<polygon points="418.91,60.40 416.75,61.65 414.58,60.40 414.58,57.90 416.75,56.65 418.91,57.90" fill="#222f99"/>
<polygon points="422.49,65.24 420.33,66.49 418.16,65.24 418.16,62.74 420.33,61.49 422.49,62.74" fill="#222f99"/>
<polygon points="426.43,70.45 424.27,71.70 422.10,70.45 422.10,67.95 424.27,66.70 426.43,67.95" fill="#222f99"/>
<polygon points="430.66,76.31 428.49,77.56 426.33,76.31 426.33,73.81 428.49,72.56 430.66,73.81" fill="#222f99"/>
<polygon points="434.82,83.15 432.65,84.40 430.49,83.15 430.49,80.65 432.65,79.40 434.82,80.65" fill="#222f99"/>
<polygon points="438.66,91.20 436.49,92.45 434.33,91.20 434.33,88.70 436.49,87.45 438.66,88.70" fill="#222f99"/>
<polygon points="442.41,100.46 440.24,101.71 438.08,100.46 438.08,97.96 440.24,96.71 442.41,97.96" fill="#222f99"/>
<polygon points="446.31,109.92 444.15,111.17 441.98,109.92 441.98,107.42 444.15,106.17 446.31,107.42" fill="#222f99"/>
<polygon points="450.79,119.37 448.63,120.62 446.46,119.37 446.46,116.87 448.63,115.62 450.79,116.87" fill="#222f99"/>
<polygon points="455.58,128.95 453.42,130.20 451.25,128.95 451.25,126.45 453.42,125.20 455.58,126.45" fill="#222f99"/>
<polygon points="460.40,138.77 458.23,140.02 456.07,138.77 456.07,136.27 458.23,135.02 460.40,136.27" fill="#222f99"/>
<polygon points="465.32,148.82 463.15,150.07 460.99,148.82 460.99,146.32 463.15,145.07 465.32,146.32" fill="#222f99"/>
<polygon points="470.34,159.10 468.18,160.35 466.01,159.10 466.01,156.60 468.18,155.35 470.34,156.60" fill="#222f99"/>
<polygon points="475.40,169.43 473.24,170.68 471.07,169.43 471.07,166.93 473.24,165.68 475.40,166.93" fill="#222f99"/>
<polygon points="480.46,179.75 478.29,181.00 476.13,179.75 476.13,177.25 478.29,176.00 480.46,177.25" fill="#222f99"/>
<polygon points="485.51,190.08 483.35,191.33 481.18,190.08 481.18,187.58 483.35,186.33 485.51,187.58" fill="#222f99"/>
<polygon points="490.57,200.41 488.40,201.66 486.24,200.41 486.24,197.91 488.40,196.66 490.57,197.91" fill="#222f99"/>
<polygon points="495.62,210.74 493.46,211.99 491.29,210.74 491.29,208.24 493.46,206.99 495.62,208.24" fill="#222f99"/>
<rect x="291.06" y="34.53" width="4.20" height="4.20" fill="#e82a86"/>
<rect x="297.81" y="34.55" width="4.20" height="4.20" fill="#e82a86"/>
<rect x="304.56" y="34.58" width="4.20" height="4.20" fill="#e82a86"/>
<rect x="311.31" y="34.63" width="4.20" height="4.20" fill="#e82a86"/>
<rect x="318.06" y="34.71" width="4.20" height="4.20" fill="#e82a86"/>
<rect x="324.82" y="34.83" width="4.20" height="4.20" fill="#e82a86"/>
<rect x="331.59" y="35.00" width="4.20" height="4.20" fill="#e82a86"/>
<rect x="338.37" y="35.19" width="4.20" height="4.20" fill="#e82a86"/>
<rect x="345.16" y="35.39" width="4.20" height="4.20" fill="#e82a86"/>
<rect x="351.97" y="35.61" width="4.20" height="4.20" fill="#e82a86"/>
<rect x="358.79" y="35.87" width="4.20" height="4.20" fill="#e82a86"/>
<rect x="365.64" y="36.16" width="4.20" height="4.20" fill="#e82a86"/>
<rect x="372.50" y="36.52" width="4.20" height="4.20" fill="#e82a86"/>
<rect x="379.37" y="37.04" width="4.20" height="4.20" fill="#e82a86"/>
<rect x="386.22" y="38.11" width="4.20" height="4.20" fill="#e82a86"/>
<rect x="392.85" y="40.39" width="4.20" height="4.20" fill="#e82a86"/>
<rect x="399.81" y="42.15" width="4.20" height="4.20" fill="#e82a86"/>
<rect x="406.72" y="44.55" width="4.20" height="4.20" fill="#e82a86"/>
<rect x="413.57" y="47.58" width="4.20" height="4.20" fill="#e82a86"/>
<rect x="420.30" y="51.30" width="4.20" height="4.20" fill="#e82a86"/>
<rect x="426.42" y="56.46" width="4.20" height="4.20" fill="#e82a86"/>
<rect x="431.94" y="62.75" width="4.20" height="4.20" fill="#e82a86"/>
<rect x="436.56" y="70.54" width="4.20" height="4.20" fill="#e82a86"/>
<rect x="442.58" y="78.49" width="4.20" height="4.20" fill="#e82a86"/>
<rect x="448.59" y="87.58" width="4.20" height="4.20" fill="#e82a86"/>
<rect x="453.63" y="98.42" width="4.20" height="4.20" fill="#e82a86"/>
<rect x="458.42" y="109.61" width="4.20" height="4.20" fill="#e82a86"/>
<rect x="464.28" y="120.49" width="4.20" height="4.20" fill="#e82a86"/>
<rect x="470.55" y="131.35" width="4.20" height="4.20" fill="#e82a86"/>
<rect x="476.79" y="142.44" width="4.20" height="4.20" fill="#e82a86"/>
<rect x="483.12" y="153.69" width="4.20" height="4.20" fill="#e82a86"/>
<rect x="489.49" y="165.02" width="4.20" height="4.20" fill="#e82a86"/>
<rect x="495.86" y="176.35" width="4.20" height="4.20" fill="#e82a86"/>
<rect x="502.24" y="187.68" width="4.20" height="4.20" fill="#e82a86"/>
<rect x="508.61" y="199.02" width="4.20" height="4.20" fill="#e82a86"/>
<rect x="514.98" y="210.35" width="4.20" height="4.20" fill="#e82a86"/>
<line x1="376.90" y1="16.70" x2="414.00" y2="196.30" stroke="#111" stroke-width="1.2" stroke-dasharray="4 1.8 1.4 1.8"/>
<line x1="383.60" y1="16.70" x2="439.50" y2="196.30" stroke="#111" stroke-width="1.2" stroke-dasharray="4 1.8 1.4 1.8"/>
<line x1="392.10" y1="16.70" x2="467.00" y2="196.30" stroke="#111" stroke-width="1.2" stroke-dasharray="4 1.8 1.4 1.8"/>
<line x1="399.10" y1="16.70" x2="487.00" y2="196.30" stroke="#111" stroke-width="1.2" stroke-dasharray="4 1.8 1.4 1.8"/>
<line x1="407.00" y1="16.70" x2="508.00" y2="196.30" stroke="#111" stroke-width="1.2" stroke-dasharray="4 1.8 1.4 1.8"/>
<line x1="424.10" y1="16.70" x2="524.00" y2="196.30" stroke="#111" stroke-width="1.2" stroke-dasharray="4 1.8 1.4 1.8"/>
<line x1="432.10" y1="16.70" x2="541.70" y2="196.30" stroke="#111" stroke-width="1.2" stroke-dasharray="4 1.8 1.4 1.8"/>
</g>
<g clip-path="url(#clipD)">
<polygon points="312.50,205.05 315.00,207.55 312.50,210.05 310.00,207.55" fill="#444444"/>
<polygon points="314.09,205.23 316.59,207.73 314.09,210.23 311.59,207.73" fill="#444444"/>
<polygon points="315.68,205.41 318.18,207.91 315.68,210.41 313.18,207.91" fill="#444444"/>
<polygon points="317.27,205.59 319.77,208.09 317.27,210.59 314.77,208.09" fill="#444444"/>
<polygon points="318.86,205.77 321.36,208.27 318.86,210.77 316.36,208.27" fill="#444444"/>
<polygon points="320.45,205.95 322.95,208.45 320.45,210.95 317.95,208.45" fill="#444444"/>
<polygon points="322.04,206.12 324.54,208.62 322.04,211.12 319.54,208.62" fill="#444444"/>
<polygon points="323.63,206.30 326.13,208.80 323.63,211.30 321.13,208.80" fill="#444444"/>
<polygon points="325.22,206.48 327.72,208.98 325.22,211.48 322.72,208.98" fill="#444444"/>
<polygon points="326.81,206.66 329.31,209.16 326.81,211.66 324.31,209.16" fill="#444444"/>
<polygon points="328.40,206.84 330.90,209.34 328.40,211.84 325.90,209.34" fill="#444444"/>
<polygon points="329.99,207.01 332.49,209.51 329.99,212.01 327.49,209.51" fill="#444444"/>
<polygon points="331.58,207.19 334.08,209.69 331.58,212.19 329.08,209.69" fill="#444444"/>
<polygon points="333.17,207.36 335.67,209.86 333.17,212.36 330.67,209.86" fill="#444444"/>
<polygon points="334.76,207.54 337.26,210.04 334.76,212.54 332.26,210.04" fill="#444444"/>
<polygon points="336.35,207.71 338.85,210.21 336.35,212.71 333.85,210.21" fill="#444444"/>
<polygon points="337.94,207.88 340.44,210.38 337.94,212.88 335.44,210.38" fill="#444444"/>
<polygon points="339.53,208.05 342.03,210.55 339.53,213.05 337.03,210.55" fill="#444444"/>
<polygon points="341.13,208.22 343.63,210.72 341.13,213.22 338.63,210.72" fill="#444444"/>
<polygon points="342.72,208.38 345.22,210.88 342.72,213.38 340.22,210.88" fill="#444444"/>
<polygon points="344.31,208.54 346.81,211.04 344.31,213.54 341.81,211.04" fill="#444444"/>
<polygon points="345.90,208.70 348.40,211.20 345.90,213.70 343.40,211.20" fill="#444444"/>
<polygon points="347.49,208.85 349.99,211.35 347.49,213.85 344.99,211.35" fill="#444444"/>
<polygon points="349.09,209.00 351.59,211.50 349.09,214.00 346.59,211.50" fill="#444444"/>
<polygon points="350.68,209.16 353.18,211.66 350.68,214.16 348.18,211.66" fill="#444444"/>
<polygon points="352.27,209.31 354.77,211.81 352.27,214.31 349.77,211.81" fill="#444444"/>
<polygon points="353.86,209.46 356.36,211.96 353.86,214.46 351.36,211.96" fill="#444444"/>
<polygon points="355.46,209.61 357.96,212.11 355.46,214.61 352.96,212.11" fill="#444444"/>
<polygon points="357.05,209.76 359.55,212.26 357.05,214.76 354.55,212.26" fill="#444444"/>
<polygon points="358.64,209.92 361.14,212.42 358.64,214.92 356.14,212.42" fill="#444444"/>
<polygon points="360.24,210.07 362.74,212.57 360.24,215.07 357.74,212.57" fill="#444444"/>
<polygon points="361.83,210.23 364.33,212.73 361.83,215.23 359.33,212.73" fill="#444444"/>
<polygon points="363.42,210.39 365.92,212.89 363.42,215.39 360.92,212.89" fill="#444444"/>
<polygon points="365.01,210.55 367.51,213.05 365.01,215.55 362.51,213.05" fill="#444444"/>
<polygon points="366.60,210.72 369.10,213.22 366.60,215.72 364.10,213.22" fill="#444444"/>
<polygon points="368.19,210.89 370.69,213.39 368.19,215.89 365.69,213.39" fill="#444444"/>
<polygon points="369.78,211.07 372.28,213.57 369.78,216.07 367.28,213.57" fill="#444444"/>
<polygon points="371.37,211.27 373.87,213.77 371.37,216.27 368.87,213.77" fill="#444444"/>
<polygon points="372.96,211.46 375.46,213.96 372.96,216.46 370.46,213.96" fill="#444444"/>
<polygon points="374.55,211.65 377.05,214.15 374.55,216.65 372.05,214.15" fill="#444444"/>
<polygon points="376.13,211.87 378.63,214.37 376.13,216.87 373.63,214.37" fill="#444444"/>
<polygon points="377.70,212.17 380.20,214.67 377.70,217.17 375.20,214.67" fill="#444444"/>
<polygon points="379.24,212.62 381.74,215.12 379.24,217.62 376.74,215.12" fill="#444444"/>
<polygon points="380.72,213.22 383.22,215.72 380.72,218.22 378.22,215.72" fill="#444444"/>
<polygon points="382.16,213.92 384.66,216.42 382.16,218.92 379.66,216.42" fill="#444444"/>
<polygon points="383.45,214.86 385.95,217.36 383.45,219.86 380.95,217.36" fill="#444444"/>
<polygon points="384.48,216.09 386.98,218.59 384.48,221.09 381.98,218.59" fill="#444444"/>
<polygon points="385.29,217.48 387.79,219.98 385.29,222.48 382.79,219.98" fill="#444444"/>
<polygon points="385.93,218.97 388.43,221.47 385.93,223.97 383.43,221.47" fill="#444444"/>
<polygon points="386.44,220.51 388.94,223.01 386.44,225.51 383.94,223.01" fill="#444444"/>
<polygon points="386.89,222.09 389.39,224.59 386.89,227.09 384.39,224.59" fill="#444444"/>
<polygon points="387.29,223.68 389.79,226.18 387.29,228.68 384.79,226.18" fill="#444444"/>
<polygon points="387.67,225.28 390.17,227.78 387.67,230.28 385.17,227.78" fill="#444444"/>
<polygon points="388.05,226.89 390.55,229.39 388.05,231.89 385.55,229.39" fill="#444444"/>
<polygon points="388.45,228.51 390.95,231.01 388.45,233.51 385.95,231.01" fill="#444444"/>
<polygon points="388.87,230.13 391.37,232.63 388.87,235.13 386.37,232.63" fill="#444444"/>
<polygon points="389.30,231.75 391.80,234.25 389.30,236.75 386.80,234.25" fill="#444444"/>
<polygon points="389.72,233.38 392.22,235.88 389.72,238.38 387.22,235.88" fill="#444444"/>
<polygon points="390.13,235.03 392.63,237.53 390.13,240.03 387.63,237.53" fill="#444444"/>
<polygon points="390.53,236.68 393.03,239.18 390.53,241.68 388.03,239.18" fill="#444444"/>
<polygon points="390.93,238.34 393.43,240.84 390.93,243.34 388.43,240.84" fill="#444444"/>
<polygon points="391.32,240.02 393.82,242.52 391.32,245.02 388.82,242.52" fill="#444444"/>
<polygon points="391.70,241.70 394.20,244.20 391.70,246.70 389.20,244.20" fill="#444444"/>
<polygon points="392.07,243.40 394.57,245.90 392.07,248.40 389.57,245.90" fill="#444444"/>
<polygon points="392.44,245.10 394.94,247.60 392.44,250.10 389.94,247.60" fill="#444444"/>
<polygon points="392.81,246.81 395.31,249.31 392.81,251.81 390.31,249.31" fill="#444444"/>
<polygon points="393.17,248.53 395.67,251.03 393.17,253.53 390.67,251.03" fill="#444444"/>
<polygon points="393.54,250.26 396.04,252.76 393.54,255.26 391.04,252.76" fill="#444444"/>
<polygon points="393.91,251.99 396.41,254.49 393.91,256.99 391.41,254.49" fill="#444444"/>
<polygon points="394.30,253.73 396.80,256.23 394.30,258.73 391.80,256.23" fill="#444444"/>
<polygon points="394.72,255.48 397.22,257.98 394.72,260.48 392.22,257.98" fill="#444444"/>
<polygon points="395.12,257.23 397.62,259.73 395.12,262.23 392.62,259.73" fill="#444444"/>
<polygon points="395.50,259.00 398.00,261.50 395.50,264.00 393.00,261.50" fill="#444444"/>
<polygon points="395.84,260.78 398.34,263.28 395.84,265.78 393.34,263.28" fill="#444444"/>
<polygon points="396.15,262.58 398.65,265.08 396.15,267.58 393.65,265.08" fill="#444444"/>
<polygon points="396.44,264.39 398.94,266.89 396.44,269.39 393.94,266.89" fill="#444444"/>
<polygon points="396.72,266.21 399.22,268.71 396.72,271.21 394.22,268.71" fill="#444444"/>
<polygon points="396.99,268.04 399.49,270.54 396.99,273.04 394.49,270.54" fill="#444444"/>
<polygon points="397.26,269.89 399.76,272.39 397.26,274.89 394.76,272.39" fill="#444444"/>
<polygon points="397.52,271.74 400.02,274.24 397.52,276.74 395.02,274.24" fill="#444444"/>
<polygon points="397.77,273.60 400.27,276.10 397.77,278.60 395.27,276.10" fill="#444444"/>
<polygon points="398.02,275.47 400.52,277.97 398.02,280.47 395.52,277.97" fill="#444444"/>
<polygon points="398.26,277.34 400.76,279.84 398.26,282.34 395.76,279.84" fill="#444444"/>
<polygon points="398.50,279.23 401.00,281.73 398.50,284.23 396.00,281.73" fill="#444444"/>
<polygon points="398.74,281.13 401.24,283.63 398.74,286.13 396.24,283.63" fill="#444444"/>
<polygon points="398.97,283.04 401.47,285.54 398.97,288.04 396.47,285.54" fill="#444444"/>
<polygon points="399.20,284.96 401.70,287.46 399.20,289.96 396.70,287.46" fill="#444444"/>
<polygon points="399.43,286.88 401.93,289.38 399.43,291.88 396.93,289.38" fill="#444444"/>
<polygon points="399.65,288.82 402.15,291.32 399.65,293.82 397.15,291.32" fill="#444444"/>
<polygon points="399.87,290.77 402.37,293.27 399.87,295.77 397.37,293.27" fill="#444444"/>
<polygon points="400.09,292.72 402.59,295.22 400.09,297.72 397.59,295.22" fill="#444444"/>
<polygon points="400.30,294.69 402.80,297.19 400.30,299.69 397.80,297.19" fill="#444444"/>
<polygon points="400.52,296.66 403.02,299.16 400.52,301.66 398.02,299.16" fill="#444444"/>
<polygon points="400.73,298.65 403.23,301.15 400.73,303.65 398.23,301.15" fill="#444444"/>
<polygon points="400.96,300.89 403.46,303.39 400.96,305.89 398.46,303.39" fill="#444444"/>
<polygon points="401.25,303.60 403.75,306.10 401.25,308.60 398.75,306.10" fill="#444444"/>
<polygon points="401.60,306.91 404.10,309.41 401.60,311.91 399.10,309.41" fill="#444444"/>
<polygon points="402.01,310.92 404.51,313.42 402.01,315.92 399.51,313.42" fill="#444444"/>
<polygon points="402.52,315.81 405.02,318.31 402.52,320.81 400.02,318.31" fill="#444444"/>
<polygon points="403.15,321.74 405.65,324.24 403.15,326.74 400.65,324.24" fill="#444444"/>
<polygon points="403.94,328.95 406.44,331.45 403.94,333.95 401.44,331.45" fill="#444444"/>
<polygon points="404.90,337.40 407.40,339.90 404.90,342.40 402.40,339.90" fill="#444444"/>
<polygon points="405.89,345.88 408.39,348.38 405.89,350.88 403.39,348.38" fill="#444444"/>
<polygon points="406.90,354.40 409.40,356.90 406.90,359.40 404.40,356.90" fill="#444444"/>
<polygon points="407.91,362.94 410.41,365.44 407.91,367.94 405.41,365.44" fill="#444444"/>
<polygon points="408.90,371.53 411.40,374.03 408.90,376.53 406.40,374.03" fill="#444444"/>
<polygon points="310.00,207.35 314.50,204.85 314.50,209.85" fill="#7a1a35"/>
<polygon points="311.59,207.52 316.09,205.02 316.09,210.02" fill="#7a1a35"/>
<polygon points="313.18,207.68 317.68,205.18 317.68,210.18" fill="#7a1a35"/>
<polygon points="314.77,207.85 319.27,205.35 319.27,210.35" fill="#7a1a35"/>
<polygon points="316.36,208.02 320.86,205.52 320.86,210.52" fill="#7a1a35"/>
<polygon points="317.96,208.19 322.46,205.69 322.46,210.69" fill="#7a1a35"/>
<polygon points="319.55,208.36 324.05,205.86 324.05,210.86" fill="#7a1a35"/>
<polygon points="321.14,208.52 325.64,206.02 325.64,211.02" fill="#7a1a35"/>
<polygon points="322.73,208.69 327.23,206.19 327.23,211.19" fill="#7a1a35"/>
<polygon points="324.32,208.86 328.82,206.36 328.82,211.36" fill="#7a1a35"/>
<polygon points="325.91,209.02 330.41,206.52 330.41,211.52" fill="#7a1a35"/>
<polygon points="327.50,209.19 332.00,206.69 332.00,211.69" fill="#7a1a35"/>
<polygon points="329.10,209.35 333.60,206.85 333.60,211.85" fill="#7a1a35"/>
<polygon points="330.69,209.51 335.19,207.01 335.19,212.01" fill="#7a1a35"/>
<polygon points="332.28,209.68 336.78,207.18 336.78,212.18" fill="#7a1a35"/>
<polygon points="333.87,209.84 338.37,207.34 338.37,212.34" fill="#7a1a35"/>
<polygon points="335.46,210.00 339.96,207.50 339.96,212.50" fill="#7a1a35"/>
<polygon points="337.05,210.16 341.55,207.66 341.55,212.66" fill="#7a1a35"/>
<polygon points="338.65,210.31 343.15,207.81 343.15,212.81" fill="#7a1a35"/>
<polygon points="340.24,210.46 344.74,207.96 344.74,212.96" fill="#7a1a35"/>
<polygon points="341.83,210.62 346.33,208.12 346.33,213.12" fill="#7a1a35"/>
<polygon points="343.43,210.76 347.93,208.26 347.93,213.26" fill="#7a1a35"/>
<polygon points="345.02,210.91 349.52,208.41 349.52,213.41" fill="#7a1a35"/>
<polygon points="346.61,211.06 351.11,208.56 351.11,213.56" fill="#7a1a35"/>
<polygon points="348.21,211.20 352.71,208.70 352.71,213.70" fill="#7a1a35"/>
<polygon points="349.80,211.35 354.30,208.85 354.30,213.85" fill="#7a1a35"/>
<polygon points="351.39,211.49 355.89,208.99 355.89,213.99" fill="#7a1a35"/>
<polygon points="352.99,211.64 357.49,209.14 357.49,214.14" fill="#7a1a35"/>
<polygon points="354.58,211.78 359.08,209.28 359.08,214.28" fill="#7a1a35"/>
<polygon points="356.17,211.93 360.67,209.43 360.67,214.43" fill="#7a1a35"/>
<polygon points="357.77,212.07 362.27,209.57 362.27,214.57" fill="#7a1a35"/>
<polygon points="359.36,212.22 363.86,209.72 363.86,214.72" fill="#7a1a35"/>
<polygon points="360.95,212.37 365.45,209.87 365.45,214.87" fill="#7a1a35"/>
<polygon points="362.55,212.52 367.05,210.02 367.05,215.02" fill="#7a1a35"/>
<polygon points="364.14,212.67 368.64,210.17 368.64,215.17" fill="#7a1a35"/>
<polygon points="365.73,212.82 370.23,210.32 370.23,215.32" fill="#7a1a35"/>
<polygon points="367.32,212.98 371.82,210.48 371.82,215.48" fill="#7a1a35"/>
<polygon points="368.91,213.14 373.41,210.64 373.41,215.64" fill="#7a1a35"/>
<polygon points="370.51,213.30 375.01,210.80 375.01,215.80" fill="#7a1a35"/>
<polygon points="372.10,213.45 376.60,210.95 376.60,215.95" fill="#7a1a35"/>
<polygon points="373.69,213.61 378.19,211.11 378.19,216.11" fill="#7a1a35"/>
<polygon points="375.28,213.76 379.78,211.26 379.78,216.26" fill="#7a1a35"/>
<polygon points="376.88,213.92 381.38,211.42 381.38,216.42" fill="#7a1a35"/>
<polygon points="378.47,214.10 382.97,211.60 382.97,216.60" fill="#7a1a35"/>
<polygon points="380.06,214.29 384.56,211.79 384.56,216.79" fill="#7a1a35"/>
<polygon points="381.64,214.51 386.14,212.01 386.14,217.01" fill="#7a1a35"/>
<polygon points="383.22,214.76 387.72,212.26 387.72,217.26" fill="#7a1a35"/>
<polygon points="384.79,215.06 389.29,212.56 389.29,217.56" fill="#7a1a35"/>
<polygon points="386.36,215.38 390.86,212.88 390.86,217.88" fill="#7a1a35"/>
<polygon points="387.92,215.74 392.42,213.24 392.42,218.24" fill="#7a1a35"/>
<polygon points="389.47,216.15 393.97,213.65 393.97,218.65" fill="#7a1a35"/>
<polygon points="390.99,216.63 395.49,214.13 395.49,219.13" fill="#7a1a35"/>
<polygon points="392.48,217.22 396.98,214.72 396.98,219.72" fill="#7a1a35"/>
<polygon points="393.92,217.94 398.42,215.44 398.42,220.44" fill="#7a1a35"/>
<polygon points="395.29,218.80 399.79,216.30 399.79,221.30" fill="#7a1a35"/>
<polygon points="396.54,219.83 401.04,217.33 401.04,222.33" fill="#7a1a35"/>
<polygon points="397.67,221.00 402.17,218.50 402.17,223.50" fill="#7a1a35"/>
<polygon points="398.69,222.28 403.19,219.78 403.19,224.78" fill="#7a1a35"/>
<polygon points="399.62,223.63 404.12,221.13 404.12,226.13" fill="#7a1a35"/>
<polygon points="400.50,225.03 405.00,222.53 405.00,227.53" fill="#7a1a35"/>
<polygon points="401.30,226.49 405.80,223.99 405.80,228.99" fill="#7a1a35"/>
<polygon points="401.99,228.02 406.49,225.52 406.49,230.52" fill="#7a1a35"/>
<polygon points="402.58,229.59 407.08,227.09 407.08,232.09" fill="#7a1a35"/>
<polygon points="403.13,231.20 407.63,228.70 407.63,233.70" fill="#7a1a35"/>
<polygon points="403.69,232.82 408.19,230.32 408.19,235.32" fill="#7a1a35"/>
<polygon points="404.27,234.44 408.77,231.94 408.77,236.94" fill="#7a1a35"/>
<polygon points="404.84,236.07 409.34,233.57 409.34,238.57" fill="#7a1a35"/>
<polygon points="405.39,237.72 409.89,235.22 409.89,240.22" fill="#7a1a35"/>
<polygon points="405.95,239.39 410.45,236.89 410.45,241.89" fill="#7a1a35"/>
<polygon points="406.50,241.07 411.00,238.57 411.00,243.57" fill="#7a1a35"/>
<polygon points="407.05,242.76 411.55,240.26 411.55,245.26" fill="#7a1a35"/>
<polygon points="407.62,244.46 412.12,241.96 412.12,246.96" fill="#7a1a35"/>
<polygon points="408.24,246.15 412.74,243.65 412.74,248.65" fill="#7a1a35"/>
<polygon points="408.87,247.85 413.37,245.35 413.37,250.35" fill="#7a1a35"/>
<polygon points="409.49,249.57 413.99,247.07 413.99,252.07" fill="#7a1a35"/>
<polygon points="410.07,251.32 414.57,248.82 414.57,253.82" fill="#7a1a35"/>
<polygon points="410.58,253.10 415.08,250.60 415.08,255.60" fill="#7a1a35"/>
<polygon points="411.00,254.92 415.50,252.42 415.50,257.42" fill="#7a1a35"/>
<polygon points="411.31,256.77 415.81,254.27 415.81,259.27" fill="#7a1a35"/>
<polygon points="411.55,258.64 416.05,256.14 416.05,261.14" fill="#7a1a35"/>
<polygon points="411.76,260.54 416.26,258.04 416.26,263.04" fill="#7a1a35"/>
<polygon points="411.99,262.44 416.49,259.94 416.49,264.94" fill="#7a1a35"/>
<polygon points="412.25,264.35 416.75,261.85 416.75,266.85" fill="#7a1a35"/>
<polygon points="412.55,266.28 417.05,263.78 417.05,268.78" fill="#7a1a35"/>
<polygon points="412.87,268.21 417.37,265.71 417.37,270.71" fill="#7a1a35"/>
<polygon points="413.20,270.15 417.70,267.65 417.70,272.65" fill="#7a1a35"/>
<polygon points="413.54,272.11 418.04,269.61 418.04,274.61" fill="#7a1a35"/>
<polygon points="413.89,274.08 418.39,271.58 418.39,276.58" fill="#7a1a35"/>
<polygon points="414.25,276.06 418.75,273.56 418.75,278.56" fill="#7a1a35"/>
<polygon points="414.60,278.06 419.10,275.56 419.10,280.56" fill="#7a1a35"/>
<polygon points="414.95,280.08 419.45,277.58 419.45,282.58" fill="#7a1a35"/>
<polygon points="415.30,282.10 419.80,279.60 419.80,284.60" fill="#7a1a35"/>
<polygon points="415.64,284.15 420.14,281.65 420.14,286.65" fill="#7a1a35"/>
<polygon points="415.99,286.21 420.49,283.71 420.49,288.71" fill="#7a1a35"/>
<polygon points="416.32,288.28 420.82,285.78 420.82,290.78" fill="#7a1a35"/>
<polygon points="416.66,290.37 421.16,287.87 421.16,292.87" fill="#7a1a35"/>
<polygon points="416.99,292.47 421.49,289.97 421.49,294.97" fill="#7a1a35"/>
<polygon points="417.32,294.60 421.82,292.10 421.82,297.10" fill="#7a1a35"/>
<polygon points="417.65,296.73 422.15,294.23 422.15,299.23" fill="#7a1a35"/>
<polygon points="417.98,298.88 422.48,296.38 422.48,301.38" fill="#7a1a35"/>
<polygon points="418.31,301.05 422.81,298.55 422.81,303.55" fill="#7a1a35"/>
<polygon points="418.64,303.26 423.14,300.76 423.14,305.76" fill="#7a1a35"/>
<polygon points="418.99,305.56 423.49,303.06 423.49,308.06" fill="#7a1a35"/>
<polygon points="419.35,307.93 423.85,305.43 423.85,310.43" fill="#7a1a35"/>
<polygon points="419.72,310.40 424.22,307.90 424.22,312.90" fill="#7a1a35"/>
<polygon points="420.10,312.95 424.60,310.45 424.60,315.45" fill="#7a1a35"/>
<polygon points="420.50,315.60 425.00,313.10 425.00,318.10" fill="#7a1a35"/>
<polygon points="420.91,318.34 425.41,315.84 425.41,320.84" fill="#7a1a35"/>
<polygon points="421.34,321.18 425.84,318.68 425.84,323.68" fill="#7a1a35"/>
<polygon points="421.79,324.12 426.29,321.62 426.29,326.62" fill="#7a1a35"/>
<polygon points="422.25,327.17 426.75,324.67 426.75,329.67" fill="#7a1a35"/>
<polygon points="422.74,330.33 427.24,327.83 427.24,332.83" fill="#7a1a35"/>
<polygon points="423.25,333.59 427.75,331.09 427.75,336.09" fill="#7a1a35"/>
<polygon points="423.76,336.86 428.26,334.36 428.26,339.36" fill="#7a1a35"/>
<polygon points="424.29,340.15 428.79,337.65 428.79,342.65" fill="#7a1a35"/>
<polygon points="424.81,343.45 429.31,340.95 429.31,345.95" fill="#7a1a35"/>
<polygon points="425.34,346.76 429.84,344.26 429.84,349.26" fill="#7a1a35"/>
<polygon points="425.88,350.08 430.38,347.58 430.38,352.58" fill="#7a1a35"/>
<polygon points="426.42,353.42 430.92,350.92 430.92,355.92" fill="#7a1a35"/>
<polygon points="426.96,356.77 431.46,354.27 431.46,359.27" fill="#7a1a35"/>
<polygon points="427.50,360.13 432.00,357.63 432.00,362.63" fill="#7a1a35"/>
<polygon points="428.04,363.51 432.54,361.01 432.54,366.01" fill="#7a1a35"/>
<polygon points="428.59,366.90 433.09,364.40 433.09,369.40" fill="#7a1a35"/>
<polygon points="429.13,370.31 433.63,367.81 433.63,372.81" fill="#7a1a35"/>
<polygon points="429.66,373.73 434.16,371.23 434.16,376.23" fill="#7a1a35"/>
<polygon points="430.16,377.17 434.66,374.67 434.66,379.67" fill="#7a1a35"/>
<polygon points="315.40,207.15 310.18,204.25 310.18,210.05" fill="#1f8f3f"/>
<polygon points="317.61,207.36 312.39,204.46 312.39,210.26" fill="#1f8f3f"/>
<polygon points="319.85,207.58 314.63,204.68 314.63,210.48" fill="#1f8f3f"/>
<polygon points="322.13,207.80 316.91,204.90 316.91,210.70" fill="#1f8f3f"/>
<polygon points="324.43,208.03 319.21,205.13 319.21,210.93" fill="#1f8f3f"/>
<polygon points="326.77,208.26 321.55,205.36 321.55,211.16" fill="#1f8f3f"/>
<polygon points="329.14,208.49 323.92,205.59 323.92,211.39" fill="#1f8f3f"/>
<polygon points="331.54,208.72 326.32,205.82 326.32,211.62" fill="#1f8f3f"/>
<polygon points="333.98,208.95 328.76,206.05 328.76,211.85" fill="#1f8f3f"/>
<polygon points="336.45,209.19 331.23,206.29 331.23,212.09" fill="#1f8f3f"/>
<polygon points="338.96,209.43 333.74,206.53 333.74,212.33" fill="#1f8f3f"/>
<polygon points="341.50,209.67 336.28,206.77 336.28,212.57" fill="#1f8f3f"/>
<polygon points="344.07,209.91 338.85,207.01 338.85,212.81" fill="#1f8f3f"/>
<polygon points="346.68,210.14 341.46,207.24 341.46,213.04" fill="#1f8f3f"/>
<polygon points="349.32,210.38 344.10,207.48 344.10,213.28" fill="#1f8f3f"/>
<polygon points="352.00,210.61 346.78,207.71 346.78,213.51" fill="#1f8f3f"/>
<polygon points="354.71,210.84 349.49,207.94 349.49,213.74" fill="#1f8f3f"/>
<polygon points="357.46,211.08 352.24,208.18 352.24,213.98" fill="#1f8f3f"/>
<polygon points="360.24,211.32 355.02,208.42 355.02,214.22" fill="#1f8f3f"/>
<polygon points="363.05,211.57 357.83,208.67 357.83,214.47" fill="#1f8f3f"/>
<polygon points="365.90,211.83 360.68,208.93 360.68,214.73" fill="#1f8f3f"/>
<polygon points="368.78,212.10 363.56,209.20 363.56,215.00" fill="#1f8f3f"/>
<polygon points="371.70,212.38 366.48,209.48 366.48,215.28" fill="#1f8f3f"/>
<polygon points="374.67,212.68 369.45,209.78 369.45,215.58" fill="#1f8f3f"/>
<polygon points="377.67,212.97 372.45,210.07 372.45,215.87" fill="#1f8f3f"/>
<polygon points="380.72,213.27 375.50,210.37 375.50,216.17" fill="#1f8f3f"/>
<polygon points="383.81,213.57 378.59,210.67 378.59,216.47" fill="#1f8f3f"/>
<polygon points="386.95,213.89 381.73,210.99 381.73,216.79" fill="#1f8f3f"/>
<polygon points="390.12,214.22 384.90,211.32 384.90,217.12" fill="#1f8f3f"/>
<polygon points="393.35,214.58 388.13,211.68 388.13,217.48" fill="#1f8f3f"/>
<polygon points="396.62,214.99 391.40,212.09 391.40,217.89" fill="#1f8f3f"/>
<polygon points="399.93,215.48 394.71,212.58 394.71,218.38" fill="#1f8f3f"/>
<polygon points="403.30,216.12 398.08,213.22 398.08,219.02" fill="#1f8f3f"/>
<polygon points="406.67,217.09 401.45,214.19 401.45,219.99" fill="#1f8f3f"/>
<polygon points="409.89,218.76 404.67,215.86 404.67,221.66" fill="#1f8f3f"/>
<polygon points="413.18,220.76 407.96,217.86 407.96,223.66" fill="#1f8f3f"/>
<polygon points="416.46,223.20 411.24,220.30 411.24,226.10" fill="#1f8f3f"/>
<polygon points="419.68,226.19 414.46,223.29 414.46,229.09" fill="#1f8f3f"/>
<polygon points="422.63,229.94 417.41,227.04 417.41,232.84" fill="#1f8f3f"/>
<polygon points="425.69,234.20 420.47,231.30 420.47,237.10" fill="#1f8f3f"/>
<polygon points="428.16,239.41 422.94,236.51 422.94,242.31" fill="#1f8f3f"/>
<polygon points="430.55,245.37 425.33,242.47 425.33,248.27" fill="#1f8f3f"/>
<polygon points="432.68,251.89 427.46,248.99 427.46,254.79" fill="#1f8f3f"/>
<polygon points="434.66,258.90 429.44,256.00 429.44,261.80" fill="#1f8f3f"/>
<polygon points="436.70,266.39 431.48,263.49 431.48,269.29" fill="#1f8f3f"/>
<polygon points="438.75,274.39 433.53,271.49 433.53,277.29" fill="#1f8f3f"/>
<polygon points="441.09,283.55 435.87,280.65 435.87,286.45" fill="#1f8f3f"/>
<polygon points="444.15,294.57 438.93,291.67 438.93,297.47" fill="#1f8f3f"/>
<polygon points="448.03,307.83 442.81,304.93 442.81,310.73" fill="#1f8f3f"/>
<polygon points="450.89,323.25 445.67,320.35 445.67,326.15" fill="#1f8f3f"/>
<polygon points="453.27,340.11 448.05,337.21 448.05,343.01" fill="#1f8f3f"/>
<polygon points="455.64,358.47 450.42,355.57 450.42,361.37" fill="#1f8f3f"/>
<polygon points="458.80,378.33 453.58,375.43 453.58,381.23" fill="#1f8f3f"/>
<polygon points="314.62,208.17 312.50,209.40 310.38,208.17 310.38,205.72 312.50,204.50 314.62,205.72" fill="#222f99"/>
<polygon points="316.81,208.37 314.69,209.60 312.57,208.37 312.57,205.92 314.69,204.70 316.81,205.92" fill="#222f99"/>
<polygon points="319.02,208.57 316.90,209.79 314.78,208.57 314.78,206.12 316.90,204.89 319.02,206.12" fill="#222f99"/>
<polygon points="321.25,208.77 319.13,209.99 317.01,208.77 317.01,206.32 319.13,205.09 321.25,206.32" fill="#222f99"/>
<polygon points="323.51,208.97 321.39,210.20 319.26,208.97 319.26,206.52 321.39,205.30 323.51,206.52" fill="#222f99"/>
<polygon points="325.79,209.17 323.67,210.40 321.54,209.17 321.54,206.72 323.67,205.50 325.79,206.72" fill="#222f99"/>
<polygon points="328.09,209.38 325.97,210.60 323.85,209.38 323.85,206.93 325.97,205.70 328.09,206.93" fill="#222f99"/>
<polygon points="330.42,209.59 328.30,210.81 326.17,209.59 326.17,207.14 328.30,205.91 330.42,207.14" fill="#222f99"/>
<polygon points="332.77,209.80 330.65,211.02 328.53,209.80 328.53,207.35 330.65,206.12 332.77,207.35" fill="#222f99"/>
<polygon points="335.15,210.01 333.02,211.23 330.90,210.01 330.90,207.56 333.02,206.33 335.15,207.56" fill="#222f99"/>
<polygon points="337.55,210.22 335.43,211.45 333.30,210.22 333.30,207.77 335.43,206.55 337.55,207.77" fill="#222f99"/>
<polygon points="339.97,210.44 337.85,211.66 335.73,210.44 335.73,207.99 337.85,206.76 339.97,207.99" fill="#222f99"/>
<polygon points="342.43,210.65 340.30,211.88 338.18,210.65 338.18,208.20 340.30,206.98 342.43,208.20" fill="#222f99"/>
<polygon points="344.90,210.86 342.78,212.08 340.66,210.86 340.66,208.41 342.78,207.18 344.90,208.41" fill="#222f99"/>
<polygon points="347.41,211.05 345.29,212.27 343.16,211.05 343.16,208.60 345.29,207.37 347.41,208.60" fill="#222f99"/>
<polygon points="349.93,211.23 347.81,212.46 345.69,211.23 345.69,208.78 347.81,207.56 349.93,208.78" fill="#222f99"/>
<polygon points="352.48,211.41 350.36,212.64 348.24,211.41 348.24,208.96 350.36,207.74 352.48,208.96" fill="#222f99"/>
<polygon points="355.05,211.59 352.93,212.82 350.81,211.59 350.81,209.14 352.93,207.92 355.05,209.14" fill="#222f99"/>
<polygon points="357.64,211.79 355.52,213.01 353.40,211.79 353.40,209.34 355.52,208.11 357.64,209.34" fill="#222f99"/>
<polygon points="360.26,212.00 358.13,213.22 356.01,212.00 356.01,209.55 358.13,208.32 360.26,209.55" fill="#222f99"/>
<polygon points="362.89,212.23 360.77,213.46 358.65,212.23 358.65,209.78 360.77,208.56 362.89,209.78" fill="#222f99"/>
<polygon points="365.55,212.49 363.43,213.71 361.31,212.49 361.31,210.04 363.43,208.81 365.55,210.04" fill="#222f99"/>
<polygon points="368.24,212.77 366.12,214.00 364.00,212.77 364.00,210.32 366.12,209.10 368.24,210.32" fill="#222f99"/>
<polygon points="370.96,213.09 368.84,214.31 366.72,213.09 366.72,210.64 368.84,209.41 370.96,210.64" fill="#222f99"/>
<polygon points="373.71,213.43 371.59,214.65 369.47,213.43 369.47,210.98 371.59,209.75 373.71,210.98" fill="#222f99"/>
<polygon points="376.51,213.78 374.38,215.01 372.26,213.78 372.26,211.33 374.38,210.11 376.51,211.33" fill="#222f99"/>
<polygon points="379.34,214.16 377.22,215.38 375.10,214.16 375.10,211.71 377.22,210.48 379.34,211.71" fill="#222f99"/>
<polygon points="382.21,214.55 380.09,215.77 377.97,214.55 377.97,212.10 380.09,210.87 382.21,212.10" fill="#222f99"/>
<polygon points="385.13,214.95 383.01,216.17 380.89,214.95 380.89,212.50 383.01,211.27 385.13,212.50" fill="#222f99"/>
<polygon points="388.10,215.36 385.98,216.59 383.86,215.36 383.86,212.91 385.98,211.69 388.10,212.91" fill="#222f99"/>
<polygon points="391.11,215.80 388.99,217.02 386.87,215.80 386.87,213.35 388.99,212.12 391.11,213.35" fill="#222f99"/>
<polygon points="394.17,216.24 392.05,217.47 389.93,216.24 389.93,213.79 392.05,212.57 394.17,213.79" fill="#222f99"/>
<polygon points="397.29,216.71 395.17,217.93 393.04,216.71 393.04,214.26 395.17,213.03 397.29,214.26" fill="#222f99"/>
<polygon points="400.45,217.20 398.33,218.42 396.21,217.20 396.21,214.75 398.33,213.52 400.45,214.75" fill="#222f99"/>
<polygon points="403.67,217.71 401.55,218.93 399.43,217.71 399.43,215.26 401.55,214.03 403.67,215.26" fill="#222f99"/>
<polygon points="406.95,218.24 404.83,219.47 402.71,218.24 402.71,215.79 404.83,214.57 406.95,215.79" fill="#222f99"/>
<polygon points="410.28,218.82 408.16,220.05 406.04,218.82 406.04,216.37 408.16,215.15 410.28,216.37" fill="#222f99"/>
<polygon points="413.68,219.46 411.56,220.68 409.43,219.46 409.43,217.01 411.56,215.78 413.68,217.01" fill="#222f99"/>
<polygon points="417.12,220.20 415.00,221.43 412.88,220.20 412.88,217.75 415.00,216.53 417.12,217.75" fill="#222f99"/>
<polygon points="420.58,221.14 418.46,222.37 416.34,221.14 416.34,218.69 418.46,217.47 420.58,218.69" fill="#222f99"/>
<polygon points="424.00,222.47 421.88,223.70 419.76,222.47 419.76,220.02 421.88,218.80 424.00,220.02" fill="#222f99"/>
<polygon points="427.32,224.31 425.20,225.53 423.08,224.31 423.08,221.86 425.20,220.63 427.32,221.86" fill="#222f99"/>
<polygon points="430.78,226.24 428.66,227.46 426.54,226.24 426.54,223.79 428.66,222.56 430.78,223.79" fill="#222f99"/>
<polygon points="433.96,228.87 431.84,230.10 429.72,228.87 429.72,226.42 431.84,225.20 433.96,226.42" fill="#222f99"/>
<polygon points="436.91,232.10 434.79,233.32 432.67,232.10 432.67,229.65 434.79,228.42 436.91,229.65" fill="#222f99"/>
<polygon points="439.67,235.87 437.54,237.10 435.42,235.87 435.42,233.42 437.54,232.20 439.67,233.42" fill="#222f99"/>
<polygon points="442.54,239.98 440.42,241.20 438.30,239.98 438.30,237.53 440.42,236.30 442.54,237.53" fill="#222f99"/>
<polygon points="445.42,244.53 443.30,245.75 441.18,244.53 441.18,242.08 443.30,240.85 445.42,242.08" fill="#222f99"/>
<polygon points="447.81,249.60 445.69,250.83 443.57,249.60 443.57,247.15 445.69,245.93 447.81,247.15" fill="#222f99"/>
<polygon points="450.74,254.58 448.62,255.80 446.50,254.58 446.50,252.13 448.62,250.90 450.74,252.13" fill="#222f99"/>
<polygon points="453.23,259.97 451.10,261.20 448.98,259.97 448.98,257.52 451.10,256.30 453.23,257.52" fill="#222f99"/>
<polygon points="455.06,265.82 452.94,267.04 450.82,265.82 450.82,263.37 452.94,262.14 455.06,263.37" fill="#222f99"/>
<polygon points="457.07,271.81 454.95,273.03 452.82,271.81 452.82,269.36 454.95,268.13 457.07,269.36" fill="#222f99"/>
<polygon points="458.95,278.10 456.83,279.32 454.71,278.10 454.71,275.65 456.83,274.42 458.95,275.65" fill="#222f99"/>
<polygon points="460.91,285.14 458.79,286.36 456.66,285.14 456.66,282.69 458.79,281.46 460.91,282.69" fill="#222f99"/>
<polygon points="462.39,293.12 460.27,294.34 458.15,293.12 458.15,290.67 460.27,289.44 462.39,290.67" fill="#222f99"/>
<polygon points="463.58,302.09 461.46,303.32 459.34,302.09 459.34,299.64 461.46,298.42 463.58,299.64" fill="#222f99"/>
<polygon points="466.18,311.76 464.05,312.98 461.93,311.76 461.93,309.31 464.05,308.08 466.18,309.31" fill="#222f99"/>
<polygon points="469.34,321.64 467.22,322.86 465.09,321.64 465.09,319.19 467.22,317.96 469.34,319.19" fill="#222f99"/>
<polygon points="471.10,332.26 468.98,333.48 466.86,332.26 466.86,329.81 468.98,328.58 471.10,329.81" fill="#222f99"/>
<polygon points="473.52,343.15 471.40,344.38 469.28,343.15 469.28,340.70 471.40,339.48 473.52,340.70" fill="#222f99"/>
<polygon points="476.65,354.29 474.53,355.52 472.41,354.29 472.41,351.84 474.53,350.62 476.65,351.84" fill="#222f99"/>
<polygon points="480.39,365.68 478.27,366.90 476.14,365.68 476.14,363.23 478.27,362.00 480.39,363.23" fill="#222f99"/>
<polygon points="484.65,377.33 482.53,378.55 480.41,377.33 480.41,374.88 482.53,373.65 484.65,374.88" fill="#222f99"/>
<rect x="310.55" y="204.80" width="3.90" height="3.90" fill="#e82a86"/>
<rect x="312.74" y="204.98" width="3.90" height="3.90" fill="#e82a86"/>
<rect x="314.94" y="205.16" width="3.90" height="3.90" fill="#e82a86"/>
<rect x="317.14" y="205.34" width="3.90" height="3.90" fill="#e82a86"/>
<rect x="319.37" y="205.52" width="3.90" height="3.90" fill="#e82a86"/>
<rect x="321.62" y="205.70" width="3.90" height="3.90" fill="#e82a86"/>
<rect x="323.89" y="205.89" width="3.90" height="3.90" fill="#e82a86"/>
<rect x="326.18" y="206.08" width="3.90" height="3.90" fill="#e82a86"/>
<rect x="328.49" y="206.26" width="3.90" height="3.90" fill="#e82a86"/>
<rect x="330.83" y="206.46" width="3.90" height="3.90" fill="#e82a86"/>
<rect x="333.18" y="206.65" width="3.90" height="3.90" fill="#e82a86"/>
<rect x="335.56" y="206.85" width="3.90" height="3.90" fill="#e82a86"/>
<rect x="337.97" y="207.04" width="3.90" height="3.90" fill="#e82a86"/>
<rect x="340.40" y="207.24" width="3.90" height="3.90" fill="#e82a86"/>
<rect x="342.85" y="207.44" width="3.90" height="3.90" fill="#e82a86"/>
<rect x="345.32" y="207.64" width="3.90" height="3.90" fill="#e82a86"/>
<rect x="347.82" y="207.84" width="3.90" height="3.90" fill="#e82a86"/>
<rect x="350.34" y="208.04" width="3.90" height="3.90" fill="#e82a86"/>
<rect x="352.89" y="208.25" width="3.90" height="3.90" fill="#e82a86"/>
<rect x="355.46" y="208.46" width="3.90" height="3.90" fill="#e82a86"/>
<rect x="358.05" y="208.68" width="3.90" height="3.90" fill="#e82a86"/>
<rect x="360.67" y="208.90" width="3.90" height="3.90" fill="#e82a86"/>
<rect x="363.31" y="209.13" width="3.90" height="3.90" fill="#e82a86"/>
<rect x="365.99" y="209.37" width="3.90" height="3.90" fill="#e82a86"/>
<rect x="368.68" y="209.61" width="3.90" height="3.90" fill="#e82a86"/>
<rect x="371.41" y="209.84" width="3.90" height="3.90" fill="#e82a86"/>
<rect x="374.17" y="210.08" width="3.90" height="3.90" fill="#e82a86"/>
<rect x="376.95" y="210.32" width="3.90" height="3.90" fill="#e82a86"/>
<rect x="379.77" y="210.55" width="3.90" height="3.90" fill="#e82a86"/>
<rect x="382.61" y="210.79" width="3.90" height="3.90" fill="#e82a86"/>
<rect x="385.48" y="211.03" width="3.90" height="3.90" fill="#e82a86"/>
<rect x="388.37" y="211.27" width="3.90" height="3.90" fill="#e82a86"/>
<rect x="391.30" y="211.52" width="3.90" height="3.90" fill="#e82a86"/>
<rect x="394.25" y="211.77" width="3.90" height="3.90" fill="#e82a86"/>
<rect x="397.23" y="212.03" width="3.90" height="3.90" fill="#e82a86"/>
<rect x="400.25" y="212.29" width="3.90" height="3.90" fill="#e82a86"/>
<rect x="403.29" y="212.57" width="3.90" height="3.90" fill="#e82a86"/>
<rect x="406.37" y="212.85" width="3.90" height="3.90" fill="#e82a86"/>
<rect x="409.47" y="213.14" width="3.90" height="3.90" fill="#e82a86"/>
<rect x="412.61" y="213.44" width="3.90" height="3.90" fill="#e82a86"/>
<rect x="415.79" y="213.77" width="3.90" height="3.90" fill="#e82a86"/>
<rect x="419.00" y="214.12" width="3.90" height="3.90" fill="#e82a86"/>
<rect x="422.25" y="214.51" width="3.90" height="3.90" fill="#e82a86"/>
<rect x="425.54" y="214.98" width="3.90" height="3.90" fill="#e82a86"/>
<rect x="428.86" y="215.57" width="3.90" height="3.90" fill="#e82a86"/>
<rect x="432.19" y="216.41" width="3.90" height="3.90" fill="#e82a86"/>
<rect x="435.41" y="217.85" width="3.90" height="3.90" fill="#e82a86"/>
<rect x="438.57" y="219.69" width="3.90" height="3.90" fill="#e82a86"/>
<rect x="441.60" y="221.97" width="3.90" height="3.90" fill="#e82a86"/>
<rect x="444.77" y="224.46" width="3.90" height="3.90" fill="#e82a86"/>
<rect x="448.03" y="227.21" width="3.90" height="3.90" fill="#e82a86"/>
<rect x="451.21" y="230.41" width="3.90" height="3.90" fill="#e82a86"/>
<rect x="454.11" y="234.24" width="3.90" height="3.90" fill="#e82a86"/>
<rect x="456.80" y="238.64" width="3.90" height="3.90" fill="#e82a86"/>
<rect x="459.62" y="243.38" width="3.90" height="3.90" fill="#e82a86"/>
<rect x="462.87" y="248.03" width="3.90" height="3.90" fill="#e82a86"/>
<rect x="465.57" y="253.16" width="3.90" height="3.90" fill="#e82a86"/>
<rect x="467.75" y="258.75" width="3.90" height="3.90" fill="#e82a86"/>
<rect x="470.10" y="264.48" width="3.90" height="3.90" fill="#e82a86"/>
<rect x="472.16" y="270.51" width="3.90" height="3.90" fill="#e82a86"/>
<rect x="474.69" y="276.90" width="3.90" height="3.90" fill="#e82a86"/>
<rect x="477.84" y="284.06" width="3.90" height="3.90" fill="#e82a86"/>
<rect x="480.99" y="292.38" width="3.90" height="3.90" fill="#e82a86"/>
<rect x="484.03" y="302.07" width="3.90" height="3.90" fill="#e82a86"/>
<rect x="487.25" y="312.74" width="3.90" height="3.90" fill="#e82a86"/>
<rect x="490.51" y="323.82" width="3.90" height="3.90" fill="#e82a86"/>
<rect x="494.16" y="335.22" width="3.90" height="3.90" fill="#e82a86"/>
<rect x="498.43" y="346.85" width="3.90" height="3.90" fill="#e82a86"/>
<rect x="502.21" y="359.09" width="3.90" height="3.90" fill="#e82a86"/>
<rect x="505.05" y="372.07" width="3.90" height="3.90" fill="#e82a86"/>
<polygon points="312.50,203.95 315.10,208.63 309.90,208.63" fill="#178060"/>
<polygon points="314.69,204.11 317.29,208.79 312.09,208.79" fill="#178060"/>
<polygon points="316.89,204.27 319.49,208.95 314.29,208.95" fill="#178060"/>
<polygon points="319.08,204.44 321.68,209.12 316.48,209.12" fill="#178060"/>
<polygon points="321.28,204.60 323.88,209.28 318.68,209.28" fill="#178060"/>
<polygon points="323.51,204.76 326.11,209.44 320.91,209.44" fill="#178060"/>
<polygon points="325.76,204.93 328.36,209.61 323.16,209.61" fill="#178060"/>
<polygon points="328.04,205.10 330.64,209.78 325.44,209.78" fill="#178060"/>
<polygon points="330.35,205.27 332.95,209.95 327.75,209.95" fill="#178060"/>
<polygon points="332.68,205.44 335.28,210.12 330.08,210.12" fill="#178060"/>
<polygon points="335.05,205.62 337.65,210.30 332.45,210.30" fill="#178060"/>
<polygon points="337.44,205.80 340.04,210.48 334.84,210.48" fill="#178060"/>
<polygon points="339.86,205.99 342.46,210.67 337.26,210.67" fill="#178060"/>
<polygon points="342.32,206.18 344.92,210.86 339.72,210.86" fill="#178060"/>
<polygon points="344.80,206.39 347.40,211.07 342.20,211.07" fill="#178060"/>
<polygon points="347.32,206.60 349.92,211.28 344.72,211.28" fill="#178060"/>
<polygon points="349.87,206.82 352.47,211.50 347.27,211.50" fill="#178060"/>
<polygon points="352.45,207.04 355.05,211.72 349.85,211.72" fill="#178060"/>
<polygon points="355.08,207.26 357.68,211.94 352.48,211.94" fill="#178060"/>
<polygon points="357.74,207.48 360.34,212.16 355.14,212.16" fill="#178060"/>
<polygon points="360.43,207.69 363.03,212.37 357.83,212.37" fill="#178060"/>
<polygon points="363.16,207.90 365.76,212.58 360.56,212.58" fill="#178060"/>
<polygon points="365.93,208.11 368.53,212.79 363.33,212.79" fill="#178060"/>
<polygon points="368.73,208.31 371.33,212.99 366.13,212.99" fill="#178060"/>
<polygon points="371.56,208.51 374.16,213.19 368.96,213.19" fill="#178060"/>
<polygon points="374.43,208.70 377.03,213.38 371.83,213.38" fill="#178060"/>
<polygon points="377.32,208.88 379.92,213.56 374.72,213.56" fill="#178060"/>
<polygon points="380.25,209.05 382.85,213.73 377.65,213.73" fill="#178060"/>
<polygon points="383.21,209.23 385.81,213.91 380.61,213.91" fill="#178060"/>
<polygon points="386.19,209.40 388.79,214.08 383.59,214.08" fill="#178060"/>
<polygon points="389.21,209.58 391.81,214.26 386.61,214.26" fill="#178060"/>
<polygon points="392.25,209.75 394.85,214.43 389.65,214.43" fill="#178060"/>
<polygon points="395.32,209.93 397.92,214.61 392.72,214.61" fill="#178060"/>
<polygon points="398.42,210.10 401.02,214.78 395.82,214.78" fill="#178060"/>
<polygon points="401.54,210.28 404.14,214.96 398.94,214.96" fill="#178060"/>
<polygon points="404.70,210.47 407.30,215.15 402.10,215.15" fill="#178060"/>
<polygon points="407.89,210.66 410.49,215.34 405.29,215.34" fill="#178060"/>
<polygon points="411.11,210.85 413.71,215.53 408.51,215.53" fill="#178060"/>
<polygon points="414.36,211.05 416.96,215.73 411.76,215.73" fill="#178060"/>
<polygon points="417.64,211.26 420.24,215.94 415.04,215.94" fill="#178060"/>
<polygon points="420.96,211.48 423.56,216.16 418.36,216.16" fill="#178060"/>
<polygon points="424.31,211.71 426.91,216.39 421.71,216.39" fill="#178060"/>
<polygon points="427.69,211.95 430.29,216.63 425.09,216.63" fill="#178060"/>
<polygon points="431.12,212.21 433.72,216.89 428.52,216.89" fill="#178060"/>
<polygon points="434.59,212.51 437.19,217.19 431.99,217.19" fill="#178060"/>
<polygon points="438.10,212.84 440.70,217.52 435.50,217.52" fill="#178060"/>
<polygon points="441.65,213.25 444.25,217.93 439.05,217.93" fill="#178060"/>
<polygon points="445.25,213.84 447.85,218.52 442.65,218.52" fill="#178060"/>
<polygon points="448.83,214.91 451.43,219.59 446.23,219.59" fill="#178060"/>
<polygon points="450.26,218.18 452.86,222.86 447.66,222.86" fill="#178060"/>
<polygon points="453.87,220.34 456.47,225.02 451.27,225.02" fill="#178060"/>
<polygon points="457.87,222.28 460.47,226.96 455.27,226.96" fill="#178060"/>
<polygon points="462.00,224.36 464.60,229.04 459.40,229.04" fill="#178060"/>
<polygon points="465.87,227.22 468.47,231.90 463.27,231.90" fill="#178060"/>
<polygon points="469.51,230.75 472.11,235.43 466.91,235.43" fill="#178060"/>
<polygon points="473.17,234.72 475.77,239.40 470.57,239.40" fill="#178060"/>
<polygon points="476.79,239.19 479.39,243.87 474.19,243.87" fill="#178060"/>
<polygon points="480.15,244.33 482.75,249.01 477.55,249.01" fill="#178060"/>
<polygon points="483.06,250.22 485.66,254.90 480.46,254.90" fill="#178060"/>
<polygon points="486.63,256.32 489.23,261.00 484.03,261.00" fill="#178060"/>
<polygon points="490.06,263.08 492.66,267.76 487.46,267.76" fill="#178060"/>
<polygon points="493.71,270.36 496.31,275.04 491.11,275.04" fill="#178060"/>
<polygon points="497.55,278.54 500.15,283.22 494.95,283.22" fill="#178060"/>
<polygon points="501.18,288.43 503.78,293.11 498.58,293.11" fill="#178060"/>
<polygon points="504.55,300.31 507.15,304.99 501.95,304.99" fill="#178060"/>
<polygon points="508.52,313.78 511.12,318.46 505.92,318.46" fill="#178060"/>
<polygon points="513.69,327.00 516.29,331.68 511.09,331.68" fill="#178060"/>
<polygon points="517.94,340.71 520.54,345.39 515.34,345.39" fill="#178060"/>
<polygon points="522.44,354.51 525.04,359.19 519.84,359.19" fill="#178060"/>
<polygon points="527.80,368.21 530.40,372.89 525.20,372.89" fill="#178060"/>
<polygon points="312.50,209.15 315.30,204.11 309.70,204.11" fill="#6f5fbf"/>
<polygon points="314.70,209.30 317.50,204.26 311.90,204.26" fill="#6f5fbf"/>
<polygon points="316.89,209.44 319.69,204.40 314.09,204.40" fill="#6f5fbf"/>
<polygon points="319.09,209.58 321.89,204.54 316.29,204.54" fill="#6f5fbf"/>
<polygon points="321.28,209.73 324.08,204.69 318.48,204.69" fill="#6f5fbf"/>
<polygon points="323.48,209.87 326.28,204.83 320.68,204.83" fill="#6f5fbf"/>
<polygon points="325.69,210.02 328.49,204.98 322.89,204.98" fill="#6f5fbf"/>
<polygon points="327.96,210.17 330.76,205.13 325.16,205.13" fill="#6f5fbf"/>
<polygon points="330.27,210.32 333.07,205.28 327.47,205.28" fill="#6f5fbf"/>
<polygon points="332.63,210.48 335.43,205.44 329.83,205.44" fill="#6f5fbf"/>
<polygon points="335.04,210.65 337.84,205.61 332.24,205.61" fill="#6f5fbf"/>
<polygon points="337.50,210.82 340.30,205.78 334.70,205.78" fill="#6f5fbf"/>
<polygon points="340.01,211.00 342.81,205.96 337.21,205.96" fill="#6f5fbf"/>
<polygon points="342.58,211.19 345.38,206.15 339.78,206.15" fill="#6f5fbf"/>
<polygon points="345.21,211.39 348.01,206.35 342.41,206.35" fill="#6f5fbf"/>
<polygon points="347.91,211.60 350.71,206.56 345.11,206.56" fill="#6f5fbf"/>
<polygon points="350.66,211.82 353.46,206.78 347.86,206.78" fill="#6f5fbf"/>
<polygon points="353.49,212.05 356.29,207.01 350.69,207.01" fill="#6f5fbf"/>
<polygon points="356.39,212.28 359.19,207.24 353.59,207.24" fill="#6f5fbf"/>
<polygon points="359.36,212.52 362.16,207.48 356.56,207.48" fill="#6f5fbf"/>
<polygon points="362.40,212.75 365.20,207.71 359.60,207.71" fill="#6f5fbf"/>
<polygon points="365.52,212.98 368.32,207.94 362.72,207.94" fill="#6f5fbf"/>
<polygon points="368.72,213.21 371.52,208.17 365.92,208.17" fill="#6f5fbf"/>
<polygon points="371.98,213.43 374.78,208.39 369.18,208.39" fill="#6f5fbf"/>
<polygon points="375.31,213.65 378.11,208.61 372.51,208.61" fill="#6f5fbf"/>
<polygon points="378.72,213.88 381.52,208.84 375.92,208.84" fill="#6f5fbf"/>
<polygon points="382.19,214.10 384.99,209.06 379.39,209.06" fill="#6f5fbf"/>
<polygon points="385.74,214.32 388.54,209.28 382.94,209.28" fill="#6f5fbf"/>
<polygon points="389.35,214.54 392.15,209.50 386.55,209.50" fill="#6f5fbf"/>
<polygon points="393.03,214.77 395.83,209.73 390.23,209.73" fill="#6f5fbf"/>
<polygon points="396.79,215.00 399.59,209.96 393.99,209.96" fill="#6f5fbf"/>
<polygon points="400.61,215.23 403.41,210.19 397.81,210.19" fill="#6f5fbf"/>
<polygon points="404.51,215.46 407.31,210.42 401.71,210.42" fill="#6f5fbf"/>
<polygon points="408.48,215.71 411.28,210.67 405.68,210.67" fill="#6f5fbf"/>
<polygon points="412.53,215.95 415.33,210.91 409.73,210.91" fill="#6f5fbf"/>
<polygon points="416.66,216.18 419.46,211.14 413.86,211.14" fill="#6f5fbf"/>
<polygon points="420.86,216.40 423.66,211.36 418.06,211.36" fill="#6f5fbf"/>
<polygon points="425.13,216.62 427.93,211.58 422.33,211.58" fill="#6f5fbf"/>
<polygon points="429.47,216.85 432.27,211.81 426.67,211.81" fill="#6f5fbf"/>
<polygon points="433.86,217.12 436.66,212.08 431.06,212.08" fill="#6f5fbf"/>
<polygon points="438.27,217.44 441.07,212.40 435.47,212.40" fill="#6f5fbf"/>
<polygon points="442.69,217.94 445.49,212.90 439.89,212.90" fill="#6f5fbf"/>
<polygon points="446.97,219.17 449.77,214.13 444.17,214.13" fill="#6f5fbf"/>
<polygon points="451.30,220.61 454.10,215.57 448.50,215.57" fill="#6f5fbf"/>
<polygon points="455.72,222.09 458.52,217.05 452.92,217.05" fill="#6f5fbf"/>
<polygon points="460.23,223.62 463.03,218.58 457.43,218.58" fill="#6f5fbf"/>
<polygon points="464.84,225.20 467.64,220.16 462.04,220.16" fill="#6f5fbf"/>
<polygon points="469.51,226.92 472.31,221.88 466.71,221.88" fill="#6f5fbf"/>
<polygon points="474.23,228.84 477.03,223.80 471.43,223.80" fill="#6f5fbf"/>
<polygon points="478.90,231.18 481.70,226.14 476.10,226.14" fill="#6f5fbf"/>
<polygon points="483.55,233.90 486.35,228.86 480.75,228.86" fill="#6f5fbf"/>
<polygon points="487.72,237.63 490.52,232.59 484.92,232.59" fill="#6f5fbf"/>
<polygon points="492.04,241.77 494.84,236.73 489.24,236.73" fill="#6f5fbf"/>
<polygon points="495.89,246.88 498.69,241.84 493.09,241.84" fill="#6f5fbf"/>
<polygon points="499.75,252.60 502.55,247.56 496.95,247.56" fill="#6f5fbf"/>
<polygon points="503.92,258.81 506.72,253.77 501.12,253.77" fill="#6f5fbf"/>
<polygon points="508.12,265.74 510.92,260.70 505.32,260.70" fill="#6f5fbf"/>
<polygon points="512.65,273.23 515.45,268.19 509.85,268.19" fill="#6f5fbf"/>
<polygon points="517.31,281.40 520.11,276.36 514.51,276.36" fill="#6f5fbf"/>
<polygon points="521.76,290.50 524.56,285.46 518.96,285.46" fill="#6f5fbf"/>
<polygon points="526.28,300.44 529.08,295.40 523.48,295.40" fill="#6f5fbf"/>
<polygon points="530.80,311.33 533.60,306.29 528.00,306.29" fill="#6f5fbf"/>
<polygon points="535.68,322.65 538.48,317.61 532.88,317.61" fill="#6f5fbf"/>
<polygon points="540.53,334.43 543.33,329.39 537.73,329.39" fill="#6f5fbf"/>
<polygon points="545.18,346.77 547.98,341.73 542.38,341.73" fill="#6f5fbf"/>
<polygon points="549.71,359.65 552.51,354.61 546.91,354.61" fill="#6f5fbf"/>
<polygon points="553.66,373.21 556.46,368.17 550.86,368.17" fill="#6f5fbf"/>
<line x1="390.00" y1="196.30" x2="408.20" y2="375.00" stroke="#111" stroke-width="1.2" stroke-dasharray="4 1.8 1.4 1.8"/>
<line x1="407.00" y1="196.30" x2="431.50" y2="375.00" stroke="#111" stroke-width="1.2" stroke-dasharray="4 1.8 1.4 1.8"/>
<line x1="421.00" y1="196.30" x2="457.00" y2="375.00" stroke="#111" stroke-width="1.2" stroke-dasharray="4 1.8 1.4 1.8"/>
<line x1="435.40" y1="196.30" x2="483.00" y2="375.00" stroke="#111" stroke-width="1.2" stroke-dasharray="4 1.8 1.4 1.8"/>
<line x1="451.50" y1="196.30" x2="506.60" y2="375.00" stroke="#111" stroke-width="1.2" stroke-dasharray="4 1.8 1.4 1.8"/>
<line x1="468.90" y1="196.30" x2="531.00" y2="375.00" stroke="#111" stroke-width="1.2" stroke-dasharray="4 1.8 1.4 1.8"/>
<line x1="484.90" y1="196.30" x2="556.00" y2="375.00" stroke="#111" stroke-width="1.2" stroke-dasharray="4 1.8 1.4 1.8"/>
</g>
<rect x="289.8" y="16.7" width="288.5" height="179.6" fill="none" stroke="#6a6a6a" stroke-width="1.1"/>
<rect x="289.5" y="196.3" width="289.0" height="178.7" fill="none" stroke="#6a6a6a" stroke-width="1.1"/>
<line x1="289.80" y1="16.70" x2="289.80" y2="20.20" stroke="#6a6a6a" stroke-width="1" />
<line x1="289.80" y1="196.30" x2="289.80" y2="192.80" stroke="#6a6a6a" stroke-width="1" />
<text x="289.8" y="10.8" font-size="11" text-anchor="middle" font-weight="bold" fill="#1a1a1a" >0.028</text>
<line x1="331.10" y1="16.70" x2="331.10" y2="18.70" stroke="#6a6a6a" stroke-width="1" />
<line x1="331.10" y1="196.30" x2="331.10" y2="194.30" stroke="#6a6a6a" stroke-width="1" />
<line x1="372.40" y1="16.70" x2="372.40" y2="20.20" stroke="#6a6a6a" stroke-width="1" />
<line x1="372.40" y1="196.30" x2="372.40" y2="192.80" stroke="#6a6a6a" stroke-width="1" />
<text x="372.4" y="10.8" font-size="11" text-anchor="middle" font-weight="bold" fill="#1a1a1a" >0.030</text>
<line x1="413.70" y1="16.70" x2="413.70" y2="18.70" stroke="#6a6a6a" stroke-width="1" />
<line x1="413.70" y1="196.30" x2="413.70" y2="194.30" stroke="#6a6a6a" stroke-width="1" />
<line x1="455.00" y1="16.70" x2="455.00" y2="20.20" stroke="#6a6a6a" stroke-width="1" />
<line x1="455.00" y1="196.30" x2="455.00" y2="192.80" stroke="#6a6a6a" stroke-width="1" />
<text x="455.0" y="10.8" font-size="11" text-anchor="middle" font-weight="bold" fill="#1a1a1a" >0.032</text>
<line x1="496.30" y1="16.70" x2="496.30" y2="18.70" stroke="#6a6a6a" stroke-width="1" />
<line x1="496.30" y1="196.30" x2="496.30" y2="194.30" stroke="#6a6a6a" stroke-width="1" />
<line x1="537.60" y1="16.70" x2="537.60" y2="20.20" stroke="#6a6a6a" stroke-width="1" />
<line x1="537.60" y1="196.30" x2="537.60" y2="192.80" stroke="#6a6a6a" stroke-width="1" />
<text x="537.6" y="10.8" font-size="11" text-anchor="middle" font-weight="bold" fill="#1a1a1a" >0.034</text>
<line x1="578.90" y1="16.70" x2="578.90" y2="18.70" stroke="#6a6a6a" stroke-width="1" />
<line x1="578.90" y1="196.30" x2="578.90" y2="194.30" stroke="#6a6a6a" stroke-width="1" />
<line x1="289.80" y1="195.60" x2="293.30" y2="195.60" stroke="#6a6a6a" stroke-width="1" />
<line x1="578.30" y1="195.60" x2="574.80" y2="195.60" stroke="#6a6a6a" stroke-width="1" />
<text x="285.2" y="199.8" font-size="11.5" text-anchor="end" font-weight="bold" fill="#1a1a1a" >-3</text>
<line x1="289.80" y1="175.70" x2="291.80" y2="175.70" stroke="#6a6a6a" stroke-width="1" />
<line x1="578.30" y1="175.70" x2="576.30" y2="175.70" stroke="#6a6a6a" stroke-width="1" />
<line x1="289.80" y1="155.80" x2="293.30" y2="155.80" stroke="#6a6a6a" stroke-width="1" />
<line x1="578.30" y1="155.80" x2="574.80" y2="155.80" stroke="#6a6a6a" stroke-width="1" />
<text x="285.2" y="160.0" font-size="11.5" text-anchor="end" font-weight="bold" fill="#1a1a1a" >-2</text>
<line x1="289.80" y1="135.90" x2="291.80" y2="135.90" stroke="#6a6a6a" stroke-width="1" />
<line x1="578.30" y1="135.90" x2="576.30" y2="135.90" stroke="#6a6a6a" stroke-width="1" />
<line x1="289.80" y1="116.00" x2="293.30" y2="116.00" stroke="#6a6a6a" stroke-width="1" />
<line x1="578.30" y1="116.00" x2="574.80" y2="116.00" stroke="#6a6a6a" stroke-width="1" />
<text x="285.2" y="120.2" font-size="11.5" text-anchor="end" font-weight="bold" fill="#1a1a1a" >-1</text>
<line x1="289.80" y1="96.10" x2="291.80" y2="96.10" stroke="#6a6a6a" stroke-width="1" />
<line x1="578.30" y1="96.10" x2="576.30" y2="96.10" stroke="#6a6a6a" stroke-width="1" />
<line x1="289.80" y1="76.20" x2="293.30" y2="76.20" stroke="#6a6a6a" stroke-width="1" />
<line x1="578.30" y1="76.20" x2="574.80" y2="76.20" stroke="#6a6a6a" stroke-width="1" />
<text x="285.2" y="80.4" font-size="11.5" text-anchor="end" font-weight="bold" fill="#1a1a1a" >0</text>
<line x1="289.80" y1="56.30" x2="291.80" y2="56.30" stroke="#6a6a6a" stroke-width="1" />
<line x1="578.30" y1="56.30" x2="576.30" y2="56.30" stroke="#6a6a6a" stroke-width="1" />
<line x1="289.80" y1="36.40" x2="293.30" y2="36.40" stroke="#6a6a6a" stroke-width="1" />
<line x1="578.30" y1="36.40" x2="574.80" y2="36.40" stroke="#6a6a6a" stroke-width="1" />
<text x="285.2" y="40.6" font-size="11.5" text-anchor="end" font-weight="bold" fill="#1a1a1a" >1</text>
<line x1="315.10" y1="375.00" x2="315.10" y2="371.50" stroke="#6a6a6a" stroke-width="1" />
<line x1="315.10" y1="196.30" x2="315.10" y2="199.80" stroke="#6a6a6a" stroke-width="1" />
<text x="315.1" y="388.5" font-size="11" text-anchor="middle" font-weight="bold" fill="#1a1a1a" >0.025</text>
<line x1="341.45" y1="375.00" x2="341.45" y2="373.00" stroke="#6a6a6a" stroke-width="1" />
<line x1="341.45" y1="196.30" x2="341.45" y2="198.30" stroke="#6a6a6a" stroke-width="1" />
<line x1="367.80" y1="375.00" x2="367.80" y2="371.50" stroke="#6a6a6a" stroke-width="1" />
<line x1="367.80" y1="196.30" x2="367.80" y2="199.80" stroke="#6a6a6a" stroke-width="1" />
<text x="367.8" y="388.5" font-size="11" text-anchor="middle" font-weight="bold" fill="#1a1a1a" >0.030</text>
<line x1="394.15" y1="375.00" x2="394.15" y2="373.00" stroke="#6a6a6a" stroke-width="1" />
<line x1="394.15" y1="196.30" x2="394.15" y2="198.30" stroke="#6a6a6a" stroke-width="1" />
<line x1="420.50" y1="375.00" x2="420.50" y2="371.50" stroke="#6a6a6a" stroke-width="1" />
<line x1="420.50" y1="196.30" x2="420.50" y2="199.80" stroke="#6a6a6a" stroke-width="1" />
<text x="420.5" y="388.5" font-size="11" text-anchor="middle" font-weight="bold" fill="#1a1a1a" >0.035</text>
<line x1="446.85" y1="375.00" x2="446.85" y2="373.00" stroke="#6a6a6a" stroke-width="1" />
<line x1="446.85" y1="196.30" x2="446.85" y2="198.30" stroke="#6a6a6a" stroke-width="1" />
<line x1="473.20" y1="375.00" x2="473.20" y2="371.50" stroke="#6a6a6a" stroke-width="1" />
<line x1="473.20" y1="196.30" x2="473.20" y2="199.80" stroke="#6a6a6a" stroke-width="1" />
<text x="473.2" y="388.5" font-size="11" text-anchor="middle" font-weight="bold" fill="#1a1a1a" >0.040</text>
<line x1="499.55" y1="375.00" x2="499.55" y2="373.00" stroke="#6a6a6a" stroke-width="1" />
<line x1="499.55" y1="196.30" x2="499.55" y2="198.30" stroke="#6a6a6a" stroke-width="1" />
<line x1="525.90" y1="375.00" x2="525.90" y2="371.50" stroke="#6a6a6a" stroke-width="1" />
<line x1="525.90" y1="196.30" x2="525.90" y2="199.80" stroke="#6a6a6a" stroke-width="1" />
<text x="525.9" y="388.5" font-size="11" text-anchor="middle" font-weight="bold" fill="#1a1a1a" >0.045</text>
<line x1="552.25" y1="375.00" x2="552.25" y2="373.00" stroke="#6a6a6a" stroke-width="1" />
<line x1="552.25" y1="196.30" x2="552.25" y2="198.30" stroke="#6a6a6a" stroke-width="1" />
<line x1="578.60" y1="375.00" x2="578.60" y2="371.50" stroke="#6a6a6a" stroke-width="1" />
<line x1="578.60" y1="196.30" x2="578.60" y2="199.80" stroke="#6a6a6a" stroke-width="1" />
<text x="578.6" y="388.5" font-size="11" text-anchor="middle" font-weight="bold" fill="#1a1a1a" >0.050</text>
<line x1="289.50" y1="375.02" x2="293.00" y2="375.02" stroke="#6a6a6a" stroke-width="1" />
<line x1="578.50" y1="375.02" x2="575.00" y2="375.02" stroke="#6a6a6a" stroke-width="1" />
<text x="285.2" y="379.2" font-size="11.5" text-anchor="end" font-weight="bold" fill="#1a1a1a" >-5</text>
<line x1="289.50" y1="361.19" x2="291.50" y2="361.19" stroke="#6a6a6a" stroke-width="1" />
<line x1="578.50" y1="361.19" x2="576.50" y2="361.19" stroke="#6a6a6a" stroke-width="1" />
<line x1="289.50" y1="347.35" x2="293.00" y2="347.35" stroke="#6a6a6a" stroke-width="1" />
<line x1="578.50" y1="347.35" x2="575.00" y2="347.35" stroke="#6a6a6a" stroke-width="1" />
<text x="285.2" y="351.6" font-size="11.5" text-anchor="end" font-weight="bold" fill="#1a1a1a" >-4</text>
<line x1="289.50" y1="333.51" x2="291.50" y2="333.51" stroke="#6a6a6a" stroke-width="1" />
<line x1="578.50" y1="333.51" x2="576.50" y2="333.51" stroke="#6a6a6a" stroke-width="1" />
<line x1="289.50" y1="319.68" x2="293.00" y2="319.68" stroke="#6a6a6a" stroke-width="1" />
<line x1="578.50" y1="319.68" x2="575.00" y2="319.68" stroke="#6a6a6a" stroke-width="1" />
<text x="285.2" y="323.9" font-size="11.5" text-anchor="end" font-weight="bold" fill="#1a1a1a" >-3</text>
<line x1="289.50" y1="305.85" x2="291.50" y2="305.85" stroke="#6a6a6a" stroke-width="1" />
<line x1="578.50" y1="305.85" x2="576.50" y2="305.85" stroke="#6a6a6a" stroke-width="1" />
<line x1="289.50" y1="292.01" x2="293.00" y2="292.01" stroke="#6a6a6a" stroke-width="1" />
<line x1="578.50" y1="292.01" x2="575.00" y2="292.01" stroke="#6a6a6a" stroke-width="1" />
<text x="285.2" y="296.2" font-size="11.5" text-anchor="end" font-weight="bold" fill="#1a1a1a" >-2</text>
<line x1="289.50" y1="278.18" x2="291.50" y2="278.18" stroke="#6a6a6a" stroke-width="1" />
<line x1="578.50" y1="278.18" x2="576.50" y2="278.18" stroke="#6a6a6a" stroke-width="1" />
<line x1="289.50" y1="264.34" x2="293.00" y2="264.34" stroke="#6a6a6a" stroke-width="1" />
<line x1="578.50" y1="264.34" x2="575.00" y2="264.34" stroke="#6a6a6a" stroke-width="1" />
<text x="285.2" y="268.5" font-size="11.5" text-anchor="end" font-weight="bold" fill="#1a1a1a" >-1</text>
<line x1="289.50" y1="250.50" x2="291.50" y2="250.50" stroke="#6a6a6a" stroke-width="1" />
<line x1="578.50" y1="250.50" x2="576.50" y2="250.50" stroke="#6a6a6a" stroke-width="1" />
<line x1="289.50" y1="236.67" x2="293.00" y2="236.67" stroke="#6a6a6a" stroke-width="1" />
<line x1="578.50" y1="236.67" x2="575.00" y2="236.67" stroke="#6a6a6a" stroke-width="1" />
<text x="285.2" y="240.9" font-size="11.5" text-anchor="end" font-weight="bold" fill="#1a1a1a" >0</text>
<line x1="289.50" y1="222.84" x2="291.50" y2="222.84" stroke="#6a6a6a" stroke-width="1" />
<line x1="578.50" y1="222.84" x2="576.50" y2="222.84" stroke="#6a6a6a" stroke-width="1" />
<line x1="289.50" y1="209.00" x2="293.00" y2="209.00" stroke="#6a6a6a" stroke-width="1" />
<line x1="578.50" y1="209.00" x2="575.00" y2="209.00" stroke="#6a6a6a" stroke-width="1" />
<text x="285.2" y="213.2" font-size="11.5" text-anchor="end" font-weight="bold" fill="#1a1a1a" >1</text>
<text x="252.4" y="26.0" font-size="12" text-anchor="start" fill="#1a1a1a" >(c)</text>
<text x="252.4" y="220.0" font-size="12" text-anchor="start" fill="#1a1a1a" >(d)</text>
<text x="322.9" y="75.9" font-size="14" text-anchor="start" fill="#1a1a1a" textLength="7.8" lengthAdjust="spacingAndGlyphs" stroke="#1a1a1a" stroke-width="0.45">H</text>
<line x1="332.00" y1="75.20" x2="340.30" y2="75.20" stroke="#1a1a1a" stroke-width="1.4" />
<line x1="336.15" y1="69.40" x2="336.15" y2="75.20" stroke="#1a1a1a" stroke-width="1.4" />
<text x="341.0" y="75.9" font-size="14" text-anchor="start" fill="#1a1a1a" textLength="25.0" lengthAdjust="spacingAndGlyphs" stroke="#1a1a1a" stroke-width="0.45">c #1</text>
<text x="326.9" y="248.8" font-size="14" text-anchor="start" font-weight="bold" fill="#1a1a1a" textLength="43.2" lengthAdjust="spacingAndGlyphs">H‖c #2</text>
<text x="264.8" y="114.8" font-size="12.5" text-anchor="middle" font-weight="bold" fill="#1a1a1a" transform="rotate(-90 264.8 114.8)" >ln [ρ (mΩ cm)]</text>
<text x="264.8" y="293.4" font-size="12.5" text-anchor="middle" font-weight="bold" fill="#1a1a1a" transform="rotate(-90 264.8 293.4)" >ln [ρ (mΩ cm)]</text>
<text x="415.4" y="407.0" font-size="12.5" text-anchor="start" font-weight="bold" fill="#1a1a1a" >1/T (K<tspan font-size="8" dy="-5">-1</tspan><tspan dy="5">)</tspan></text>
<polygon points="542.60,49.80 547.10,54.30 542.60,58.80 538.10,54.30" fill="#444444"/>
<text x="554.0" y="57.6" font-size="9" text-anchor="start" font-weight="bold" fill="#1a1a1a" >2T</text>
<polygon points="538.70,64.45 545.72,60.55 545.72,68.35" fill="#7a1a35"/>
<text x="554.0" y="67.8" font-size="9" text-anchor="start" font-weight="bold" fill="#1a1a1a" >4T</text>
<polygon points="546.50,74.60 539.48,70.70 539.48,78.50" fill="#3f9e3c"/>
<text x="554.0" y="77.9" font-size="9" text-anchor="start" font-weight="bold" fill="#1a1a1a" >6T</text>
<polygon points="545.63,86.50 542.60,88.25 539.57,86.50 539.57,83.00 542.60,81.25 545.63,83.00" fill="#222f99"/>
<text x="554.0" y="88.0" font-size="9" text-anchor="start" font-weight="bold" fill="#1a1a1a" >8T</text>
<rect x="539.50" y="91.80" width="6.20" height="6.20" fill="#e82a86"/>
<text x="554.0" y="98.2" font-size="9" text-anchor="start" font-weight="bold" fill="#1a1a1a" >10T</text>
<polygon points="542.60,101.05 546.60,108.25 538.60,108.25" fill="#178060"/>
<text x="554.0" y="108.3" font-size="9" text-anchor="start" font-weight="bold" fill="#1a1a1a" >12T</text>
<polygon points="542.60,119.20 546.60,112.00 538.60,112.00" fill="#6f5fbf"/>
<text x="554.0" y="118.5" font-size="9" text-anchor="start" font-weight="bold" fill="#1a1a1a" >14T</text>
<polygon points="544.30,228.90 548.80,233.40 544.30,237.90 539.80,233.40" fill="#444444"/>
<text x="555.2" y="236.7" font-size="9" text-anchor="start" font-weight="bold" fill="#1a1a1a" >2T</text>
<polygon points="540.40,243.40 547.42,239.50 547.42,247.30" fill="#7a1a35"/>
<text x="555.2" y="246.7" font-size="9" text-anchor="start" font-weight="bold" fill="#1a1a1a" >4T</text>
<polygon points="548.20,253.40 541.18,249.50 541.18,257.30" fill="#3f9e3c"/>
<text x="555.2" y="256.7" font-size="9" text-anchor="start" font-weight="bold" fill="#1a1a1a" >6T</text>
<polygon points="547.33,265.15 544.30,266.90 541.27,265.15 541.27,261.65 544.30,259.90 547.33,261.65" fill="#222f99"/>
<text x="555.2" y="266.7" font-size="9" text-anchor="start" font-weight="bold" fill="#1a1a1a" >8T</text>
<rect x="541.20" y="270.30" width="6.20" height="6.20" fill="#e82a86"/>
<text x="555.2" y="276.7" font-size="9" text-anchor="start" font-weight="bold" fill="#1a1a1a" >10T</text>
<polygon points="544.30,279.40 548.30,286.60 540.30,286.60" fill="#178060"/>
<text x="555.2" y="286.7" font-size="9" text-anchor="start" font-weight="bold" fill="#1a1a1a" >12T</text>
<polygon points="544.30,297.40 548.30,290.20 540.30,290.20" fill="#6f5fbf"/>
<text x="555.2" y="296.7" font-size="9" text-anchor="start" font-weight="bold" fill="#1a1a1a" >14T</text>
<rect x="310.4" y="100.1" width="81.0" height="75.3" fill="#fff" stroke="#444" stroke-width="1"/>
<line x1="310.40" y1="175.40" x2="310.40" y2="173.20" stroke="#444" stroke-width="0.7" />
<line x1="310.40" y1="100.10" x2="310.40" y2="102.30" stroke="#444" stroke-width="0.7" />
<text x="310.4" y="183.1" font-size="8.5" text-anchor="middle" font-weight="bold" fill="#1a1a1a" >0</text>
<line x1="326.60" y1="175.40" x2="326.60" y2="173.20" stroke="#444" stroke-width="0.7" />
<line x1="326.60" y1="100.10" x2="326.60" y2="102.30" stroke="#444" stroke-width="0.7" />
<text x="326.6" y="183.1" font-size="8.5" text-anchor="middle" font-weight="bold" fill="#1a1a1a" >3</text>
<line x1="342.80" y1="175.40" x2="342.80" y2="173.20" stroke="#444" stroke-width="0.7" />
<line x1="342.80" y1="100.10" x2="342.80" y2="102.30" stroke="#444" stroke-width="0.7" />
<text x="342.8" y="183.1" font-size="8.5" text-anchor="middle" font-weight="bold" fill="#1a1a1a" >6</text>
<line x1="359.00" y1="175.40" x2="359.00" y2="173.20" stroke="#444" stroke-width="0.7" />
<line x1="359.00" y1="100.10" x2="359.00" y2="102.30" stroke="#444" stroke-width="0.7" />
<text x="359.0" y="183.1" font-size="8.5" text-anchor="middle" font-weight="bold" fill="#1a1a1a" >9</text>
<line x1="375.20" y1="175.40" x2="375.20" y2="173.20" stroke="#444" stroke-width="0.7" />
<line x1="375.20" y1="100.10" x2="375.20" y2="102.30" stroke="#444" stroke-width="0.7" />
<text x="375.2" y="183.1" font-size="8.5" text-anchor="middle" font-weight="bold" fill="#1a1a1a" >12</text>
<line x1="391.40" y1="175.40" x2="391.40" y2="173.20" stroke="#444" stroke-width="0.7" />
<line x1="391.40" y1="100.10" x2="391.40" y2="102.30" stroke="#444" stroke-width="0.7" />
<text x="391.4" y="183.1" font-size="8.5" text-anchor="middle" font-weight="bold" fill="#1a1a1a" >15</text>
<line x1="310.40" y1="175.40" x2="312.60" y2="175.40" stroke="#444" stroke-width="0.7" />
<line x1="391.40" y1="175.40" x2="389.20" y2="175.40" stroke="#444" stroke-width="0.7" />
<text x="308.8" y="178.4" font-size="8.5" text-anchor="end" font-weight="bold" fill="#1a1a1a" >1</text>
<line x1="310.40" y1="167.00" x2="311.70" y2="167.00" stroke="#444" stroke-width="0.7" />
<line x1="391.40" y1="167.00" x2="390.10" y2="167.00" stroke="#444" stroke-width="0.7" />
<line x1="310.40" y1="158.60" x2="312.60" y2="158.60" stroke="#444" stroke-width="0.7" />
<line x1="391.40" y1="158.60" x2="389.20" y2="158.60" stroke="#444" stroke-width="0.7" />
<text x="308.8" y="161.6" font-size="8.5" text-anchor="end" font-weight="bold" fill="#1a1a1a" >2</text>
<line x1="310.40" y1="150.20" x2="311.70" y2="150.20" stroke="#444" stroke-width="0.7" />
<line x1="391.40" y1="150.20" x2="390.10" y2="150.20" stroke="#444" stroke-width="0.7" />
<line x1="310.40" y1="141.80" x2="312.60" y2="141.80" stroke="#444" stroke-width="0.7" />
<line x1="391.40" y1="141.80" x2="389.20" y2="141.80" stroke="#444" stroke-width="0.7" />
<text x="308.8" y="144.8" font-size="8.5" text-anchor="end" font-weight="bold" fill="#1a1a1a" >3</text>
<line x1="310.40" y1="133.40" x2="311.70" y2="133.40" stroke="#444" stroke-width="0.7" />
<line x1="391.40" y1="133.40" x2="390.10" y2="133.40" stroke="#444" stroke-width="0.7" />
<line x1="310.40" y1="125.00" x2="312.60" y2="125.00" stroke="#444" stroke-width="0.7" />
<line x1="391.40" y1="125.00" x2="389.20" y2="125.00" stroke="#444" stroke-width="0.7" />
<text x="308.8" y="128.0" font-size="8.5" text-anchor="end" font-weight="bold" fill="#1a1a1a" >4</text>
<line x1="310.40" y1="116.60" x2="311.70" y2="116.60" stroke="#444" stroke-width="0.7" />
<line x1="391.40" y1="116.60" x2="390.10" y2="116.60" stroke="#444" stroke-width="0.7" />
<line x1="310.40" y1="108.20" x2="312.60" y2="108.20" stroke="#444" stroke-width="0.7" />
<line x1="391.40" y1="108.20" x2="389.20" y2="108.20" stroke="#444" stroke-width="0.7" />
<text x="308.8" y="111.2" font-size="8.5" text-anchor="end" font-weight="bold" fill="#1a1a1a" >5</text>
<polyline points="321.40,110.70 322.04,112.27 322.86,114.36 323.83,116.86 324.91,119.65 326.09,122.62 327.31,125.65 328.56,128.63 329.80,131.44 330.99,133.97 332.10,136.10 333.16,137.90 334.22,139.52 335.27,140.98 336.31,142.31 337.36,143.52 338.41,144.64 339.47,145.68 340.54,146.68 341.61,147.64 342.70,148.60 343.80,149.51 344.93,150.33 346.06,151.08 347.20,151.76 348.35,152.40 349.50,153.00 350.64,153.58 351.77,154.14 352.90,154.71 354.00,155.30 355.09,155.89 356.16,156.48 357.23,157.05 358.29,157.61 359.34,158.15 360.39,158.68 361.43,159.19 362.48,159.68 363.54,160.15 364.60,160.60 365.67,161.03 366.73,161.44 367.80,161.83 368.87,162.21 369.94,162.56 371.02,162.90 372.09,163.22 373.16,163.53 374.23,163.82 375.30,164.10 376.42,164.36 377.61,164.61 378.85,164.85 380.09,165.07 381.32,165.27 382.49,165.45 383.58,165.62 384.54,165.77 385.36,165.89 386.00,166.00" fill="none" stroke="#e8202a" stroke-width="0.9" />
<circle cx="321.40" cy="110.70" r="2.8" fill="#fff" stroke="#333" stroke-width="0.8"/>
<circle cx="332.10" cy="136.10" r="2.8" fill="#fff" stroke="#333" stroke-width="0.8"/>
<circle cx="342.70" cy="148.60" r="2.8" fill="#fff" stroke="#333" stroke-width="0.8"/>
<circle cx="354.00" cy="155.30" r="2.8" fill="#fff" stroke="#333" stroke-width="0.8"/>
<circle cx="364.60" cy="160.60" r="2.8" fill="#fff" stroke="#333" stroke-width="0.8"/>
<circle cx="375.30" cy="164.10" r="2.8" fill="#fff" stroke="#333" stroke-width="0.8"/>
<circle cx="386.00" cy="166.00" r="2.8" fill="#fff" stroke="#333" stroke-width="0.8"/>
<text x="335.0" y="126.7" font-size="12.5" text-anchor="start" fill="#1a1a1a" stroke="#1a1a1a" stroke-width="0.3">U</text>
<text x="342.4" y="130.3" font-size="7.5" text-anchor="start" font-weight="bold" fill="#1a1a1a" >0</text>
<text x="347.0" y="126.7" font-size="12.5" text-anchor="start" fill="#1a1a1a" stroke="#1a1a1a" stroke-width="0.3" textLength="13.8" lengthAdjust="spacingAndGlyphs">~H</text>
<text x="361.8" y="121.1" font-size="7.2" text-anchor="start" font-weight="bold" fill="#1a1a1a" textLength="23.6" lengthAdjust="spacingAndGlyphs">-0.27(2)</text>
<text x="334.7" y="194.0" font-size="9" text-anchor="start" font-weight="bold" fill="#1a1a1a" >μ<tspan font-size="6" dy="2">0</tspan><tspan dy="-2">H (T)</tspan></text>
<text x="301.2" y="140.7" font-size="7.6" text-anchor="middle" font-weight="bold" fill="#1a1a1a" transform="rotate(-90 301.2 140.7)" >U<tspan font-size="5.5" dy="2">0</tspan><tspan dy="-2"> (x10</tspan><tspan font-size="5.5" dy="-3">3</tspan><tspan dy="3">K)</tspan></text>
<rect x="314.4" y="282.3" width="79.3" height="72.3" fill="#fff" stroke="#444" stroke-width="1"/>
<line x1="314.40" y1="354.60" x2="314.40" y2="352.40" stroke="#444" stroke-width="0.7" />
<line x1="314.40" y1="282.30" x2="314.40" y2="284.50" stroke="#444" stroke-width="0.7" />
<text x="314.4" y="362.3" font-size="8.5" text-anchor="middle" font-weight="bold" fill="#1a1a1a" >0</text>
<line x1="330.26" y1="354.60" x2="330.26" y2="352.40" stroke="#444" stroke-width="0.7" />
<line x1="330.26" y1="282.30" x2="330.26" y2="284.50" stroke="#444" stroke-width="0.7" />
<text x="330.3" y="362.3" font-size="8.5" text-anchor="middle" font-weight="bold" fill="#1a1a1a" >3</text>
<line x1="346.12" y1="354.60" x2="346.12" y2="352.40" stroke="#444" stroke-width="0.7" />
<line x1="346.12" y1="282.30" x2="346.12" y2="284.50" stroke="#444" stroke-width="0.7" />
<text x="346.1" y="362.3" font-size="8.5" text-anchor="middle" font-weight="bold" fill="#1a1a1a" >6</text>
<line x1="361.98" y1="354.60" x2="361.98" y2="352.40" stroke="#444" stroke-width="0.7" />
<line x1="361.98" y1="282.30" x2="361.98" y2="284.50" stroke="#444" stroke-width="0.7" />
<text x="362.0" y="362.3" font-size="8.5" text-anchor="middle" font-weight="bold" fill="#1a1a1a" >9</text>
<line x1="377.84" y1="354.60" x2="377.84" y2="352.40" stroke="#444" stroke-width="0.7" />
<line x1="377.84" y1="282.30" x2="377.84" y2="284.50" stroke="#444" stroke-width="0.7" />
<text x="377.8" y="362.3" font-size="8.5" text-anchor="middle" font-weight="bold" fill="#1a1a1a" >12</text>
<line x1="393.70" y1="354.60" x2="393.70" y2="352.40" stroke="#444" stroke-width="0.7" />
<line x1="393.70" y1="282.30" x2="393.70" y2="284.50" stroke="#444" stroke-width="0.7" />
<text x="393.7" y="362.3" font-size="8.5" text-anchor="middle" font-weight="bold" fill="#1a1a1a" >15</text>
<line x1="314.40" y1="344.40" x2="316.60" y2="344.40" stroke="#444" stroke-width="0.7" />
<line x1="393.70" y1="344.40" x2="391.50" y2="344.40" stroke="#444" stroke-width="0.7" />
<text x="312.8" y="347.4" font-size="8.5" text-anchor="end" font-weight="bold" fill="#1a1a1a" >1</text>
<line x1="314.40" y1="334.05" x2="315.70" y2="334.05" stroke="#444" stroke-width="0.7" />
<line x1="393.70" y1="334.05" x2="392.40" y2="334.05" stroke="#444" stroke-width="0.7" />
<line x1="314.40" y1="323.70" x2="316.60" y2="323.70" stroke="#444" stroke-width="0.7" />
<line x1="393.70" y1="323.70" x2="391.50" y2="323.70" stroke="#444" stroke-width="0.7" />
<text x="312.8" y="326.7" font-size="8.5" text-anchor="end" font-weight="bold" fill="#1a1a1a" >2</text>
<line x1="314.40" y1="313.35" x2="315.70" y2="313.35" stroke="#444" stroke-width="0.7" />
<line x1="393.70" y1="313.35" x2="392.40" y2="313.35" stroke="#444" stroke-width="0.7" />
<line x1="314.40" y1="303.00" x2="316.60" y2="303.00" stroke="#444" stroke-width="0.7" />
<line x1="393.70" y1="303.00" x2="391.50" y2="303.00" stroke="#444" stroke-width="0.7" />
<text x="312.8" y="306.0" font-size="8.5" text-anchor="end" font-weight="bold" fill="#1a1a1a" >3</text>
<line x1="314.40" y1="292.65" x2="315.70" y2="292.65" stroke="#444" stroke-width="0.7" />
<line x1="393.70" y1="292.65" x2="392.40" y2="292.65" stroke="#444" stroke-width="0.7" />
<line x1="314.40" y1="282.30" x2="316.60" y2="282.30" stroke="#444" stroke-width="0.7" />
<line x1="393.70" y1="282.30" x2="391.50" y2="282.30" stroke="#444" stroke-width="0.7" />
<text x="312.8" y="285.3" font-size="8.5" text-anchor="end" font-weight="bold" fill="#1a1a1a" >4</text>
<polyline points="324.90,290.60 325.50,291.74 326.26,293.22 327.17,294.98 328.18,296.95 329.28,299.06 330.43,301.26 331.61,303.46 332.78,305.62 333.92,307.65 335.00,309.50 336.05,311.23 337.10,312.94 338.17,314.63 339.24,316.29 340.31,317.91 341.39,319.50 342.47,321.03 343.55,322.52 344.63,323.94 345.70,325.30 346.77,326.60 347.84,327.87 348.91,329.08 349.98,330.24 351.05,331.36 352.12,332.41 353.19,333.41 354.26,334.34 355.33,335.20 356.40,336.00 357.47,336.71 358.54,337.34 359.61,337.90 360.68,338.39 361.75,338.82 362.82,339.21 363.89,339.56 364.96,339.88 366.03,340.20 367.10,340.50 368.17,340.77 369.24,340.98 370.31,341.13 371.38,341.26 372.46,341.36 373.53,341.46 374.60,341.57 375.67,341.70 376.73,341.88 377.80,342.10 378.91,342.39 380.10,342.73 381.32,343.12 382.56,343.53 383.77,343.95 384.93,344.36 386.00,344.75 386.96,345.09 387.77,345.38 388.40,345.60" fill="none" stroke="#e8202a" stroke-width="0.9" />
<circle cx="324.90" cy="290.60" r="2.8" fill="#fff" stroke="#333" stroke-width="0.8"/>
<circle cx="335.00" cy="309.50" r="2.8" fill="#fff" stroke="#333" stroke-width="0.8"/>
<circle cx="345.70" cy="325.30" r="2.8" fill="#fff" stroke="#333" stroke-width="0.8"/>
<circle cx="356.40" cy="336.00" r="2.8" fill="#fff" stroke="#333" stroke-width="0.8"/>
<circle cx="367.10" cy="340.50" r="2.8" fill="#fff" stroke="#333" stroke-width="0.8"/>
<circle cx="377.80" cy="342.10" r="2.8" fill="#fff" stroke="#333" stroke-width="0.8"/>
<circle cx="388.40" cy="345.60" r="2.8" fill="#fff" stroke="#333" stroke-width="0.8"/>
<text x="340.4" y="304.7" font-size="12.5" text-anchor="start" fill="#1a1a1a" stroke="#1a1a1a" stroke-width="0.3">U</text>
<text x="347.8" y="308.3" font-size="7.5" text-anchor="start" font-weight="bold" fill="#1a1a1a" >0</text>
<text x="352.4" y="304.7" font-size="12.5" text-anchor="start" fill="#1a1a1a" stroke="#1a1a1a" stroke-width="0.3" textLength="13.8" lengthAdjust="spacingAndGlyphs">~H</text>
<text x="367.2" y="299.1" font-size="7.2" text-anchor="start" font-weight="bold" fill="#1a1a1a" textLength="23.6" lengthAdjust="spacingAndGlyphs">-0.22(2)</text>
<text x="339.0" y="372.5" font-size="9" text-anchor="start" font-weight="bold" fill="#1a1a1a" >μ<tspan font-size="6" dy="2">0</tspan><tspan dy="-2">H (T)</tspan></text>
<text x="301.8" y="325.0" font-size="7.6" text-anchor="middle" font-weight="bold" fill="#1a1a1a" transform="rotate(-90 301.8 325.0)" >U<tspan font-size="5.5" dy="2">0</tspan><tspan dy="-2"> (x10</tspan><tspan font-size="5.5" dy="-3">3</tspan><tspan dy="3">K)</tspan></text>
</svg>
</body></html>
